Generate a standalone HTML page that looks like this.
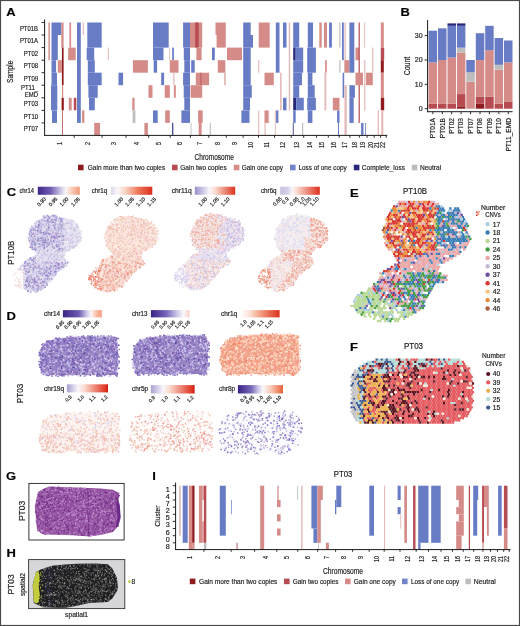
<!DOCTYPE html>
<html><head><meta charset="utf-8"><style>
html,body{margin:0;padding:0;background:#fff;width:520px;height:626px;overflow:hidden}
svg{display:block;will-change:transform}
text{font-family:"Liberation Sans",sans-serif;stroke:#1c1c1c;stroke-width:0.18px}
</style></head><body>
<svg width="520" height="626" viewBox="0 0 520 626" font-family='"Liberation Sans", sans-serif' fill="#1c1c1c">
<rect width="520" height="626" fill="#fff"/>
<rect x="48.4" y="22.5" width="1.4" height="37.7" fill="#d58c89"/>
<rect x="51.5" y="22.5" width="9.8" height="12.5" fill="#687cc6"/>
<rect x="51.5" y="35" width="6.3" height="25.1" fill="#687cc6"/>
<rect x="51.5" y="60.2" width="4.6" height="12.5" fill="#687cc6"/>
<rect x="51.5" y="72.7" width="5.5" height="12.5" fill="#687cc6"/>
<rect x="51" y="85.2" width="6.3" height="25.1" fill="#687cc6"/>
<rect x="52" y="110.4" width="5" height="12.5" fill="#687cc6"/>
<rect x="61.3" y="22.5" width="2.3" height="25.1" fill="#d58c89"/>
<rect x="61.9" y="47.6" width="1.7" height="37.6" fill="#8e1b1e"/>
<rect x="57.8" y="60.2" width="4.1" height="12.5" fill="#d58c89"/>
<rect x="62" y="85.2" width="1.2" height="12.6" fill="#d58c89"/>
<rect x="61.6" y="97.8" width="2.2" height="12.5" fill="#8e1b1e"/>
<rect x="62.2" y="110.4" width="0.8" height="25.1" fill="#b64c52"/>
<rect x="68.8" y="97.8" width="2.9" height="12.5" fill="#d58c89"/>
<rect x="73.8" y="97.8" width="2.5" height="12.5" fill="#b64c52"/>
<rect x="69.4" y="22.5" width="1.7" height="25.1" fill="#d58c89"/>
<rect x="68.2" y="47.6" width="7.5" height="12.6" fill="#d58c89"/>
<rect x="77" y="22.5" width="3.8" height="100.4" fill="#687cc6"/>
<rect x="82.7" y="22.5" width="1.1" height="12.5" fill="#e3b7b5"/>
<rect x="82.1" y="110.4" width="2.3" height="12.5" fill="#d58c89"/>
<rect x="87.3" y="22.5" width="14.4" height="25.1" fill="#687cc6"/>
<rect x="86.7" y="47.6" width="7.5" height="12.6" fill="#687cc6"/>
<rect x="87.8" y="60.2" width="7" height="12.5" fill="#687cc6"/>
<rect x="87.8" y="72.7" width="13.9" height="12.5" fill="#687cc6"/>
<rect x="88.4" y="85.2" width="9.3" height="12.6" fill="#687cc6"/>
<rect x="89" y="97.8" width="5.8" height="12.5" fill="#687cc6"/>
<rect x="94.2" y="122.9" width="5.8" height="12.5" fill="#d58c89"/>
<rect x="107.8" y="47.6" width="1" height="12.6" fill="#e3b7b5"/>
<rect x="118.5" y="72.7" width="4.6" height="12.5" fill="#687cc6"/>
<rect x="132.9" y="60.2" width="15" height="12.5" fill="#d58c89"/>
<rect x="132.3" y="97.8" width="2.3" height="12.5" fill="#d58c89"/>
<rect x="132.7" y="110.4" width="2.7" height="12.5" fill="#bdbdbd"/>
<rect x="144.4" y="122.9" width="3.5" height="12.5" fill="#d58c89"/>
<rect x="148.5" y="85.2" width="4" height="12.6" fill="#d58c89"/>
<rect x="153" y="22.5" width="15.7" height="25.1" fill="#687cc6"/>
<rect x="153" y="47.6" width="10.5" height="12.6" fill="#687cc6"/>
<rect x="153.7" y="60.2" width="3.4" height="12.5" fill="#687cc6"/>
<rect x="153" y="110.4" width="4.7" height="12.5" fill="#687cc6"/>
<rect x="161.2" y="72.7" width="2.9" height="12.5" fill="#687cc6"/>
<rect x="164.7" y="85.2" width="5.1" height="12.6" fill="#d58c89"/>
<rect x="165.2" y="110.4" width="4.6" height="12.5" fill="#d58c89"/>
<rect x="169.3" y="47.6" width="0.8" height="12.6" fill="#e3b7b5"/>
<rect x="172.2" y="47.6" width="1.7" height="12.6" fill="#687cc6"/>
<rect x="169.8" y="60.2" width="8.7" height="12.5" fill="#d58c89"/>
<rect x="173.3" y="72.7" width="1.2" height="12.5" fill="#e3b7b5"/>
<rect x="173.9" y="85.2" width="1.9" height="12.6" fill="#d58c89"/>
<rect x="172.2" y="122.9" width="1.1" height="12.5" fill="#27287a"/>
<rect x="183.1" y="22.5" width="6.9" height="25.1" fill="#687cc6"/>
<rect x="183.8" y="47.6" width="6.2" height="12.6" fill="#687cc6"/>
<rect x="184.3" y="60.2" width="5.7" height="12.5" fill="#687cc6"/>
<rect x="183.1" y="72.7" width="6.9" height="12.5" fill="#687cc6"/>
<rect x="183.7" y="85.2" width="6.3" height="12.6" fill="#687cc6"/>
<rect x="184.3" y="97.8" width="5.7" height="12.5" fill="#687cc6"/>
<rect x="181.4" y="110.4" width="8.6" height="12.5" fill="#687cc6"/>
<rect x="190.6" y="122.9" width="0.9" height="12.5" fill="#bdbdbd"/>
<rect x="190" y="22.5" width="12.2" height="25.1" fill="#d58c89"/>
<rect x="195.2" y="22.5" width="3.5" height="25.1" fill="#b64c52"/>
<rect x="196.4" y="47.6" width="5.2" height="12.6" fill="#d58c89"/>
<rect x="191.2" y="60.2" width="3.5" height="12.5" fill="#687cc6"/>
<rect x="195.8" y="72.7" width="13.3" height="12.5" fill="#d58c89"/>
<rect x="200.5" y="72.7" width="0.8" height="12.5" fill="#b64c52"/>
<rect x="190.6" y="85.2" width="11.6" height="12.6" fill="#d58c89"/>
<rect x="198.1" y="110.4" width="4.6" height="12.5" fill="#d58c89"/>
<rect x="198.7" y="122.9" width="2.9" height="12.5" fill="#d58c89"/>
<rect x="209.7" y="122.9" width="1.1" height="12.5" fill="#bdbdbd"/>
<rect x="212" y="47.6" width="2.8" height="12.6" fill="#687cc6"/>
<rect x="215.5" y="22.5" width="10.3" height="12.5" fill="#d58c89"/>
<rect x="216.6" y="35" width="9.2" height="12.6" fill="#d58c89"/>
<rect x="217.8" y="60.2" width="7.5" height="12.5" fill="#d58c89"/>
<rect x="224.1" y="72.7" width="1.7" height="12.5" fill="#e3b7b5"/>
<rect x="227" y="47.6" width="15" height="12.6" fill="#d58c89"/>
<rect x="243.2" y="22.5" width="7.5" height="12.5" fill="#687cc6"/>
<rect x="243.2" y="35" width="9.8" height="12.6" fill="#687cc6"/>
<rect x="243.2" y="47.6" width="7.5" height="37.6" fill="#687cc6"/>
<rect x="243.2" y="85.2" width="8.6" height="12.6" fill="#687cc6"/>
<rect x="243.2" y="97.8" width="6.8" height="12.5" fill="#687cc6"/>
<rect x="241.4" y="110.4" width="8.1" height="12.5" fill="#687cc6"/>
<rect x="258.2" y="60.2" width="1.1" height="12.5" fill="#e3b7b5"/>
<rect x="258.2" y="110.4" width="1.1" height="25.1" fill="#e3b7b5"/>
<rect x="258.7" y="22.5" width="11" height="25.1" fill="#d58c89"/>
<rect x="264.5" y="72.7" width="9.3" height="12.5" fill="#d58c89"/>
<rect x="264.5" y="110.4" width="4" height="12.5" fill="#d58c89"/>
<rect x="264.5" y="122.9" width="1.2" height="12.5" fill="#e3b7b5"/>
<rect x="268" y="110.4" width="1.2" height="12.5" fill="#e3b7b5"/>
<rect x="274.9" y="110.4" width="0.9" height="25.1" fill="#e3b7b5"/>
<rect x="275.8" y="22.5" width="3.7" height="50.2" fill="#687cc6"/>
<rect x="283" y="22.5" width="3.5" height="25.1" fill="#687cc6"/>
<rect x="288.8" y="22.5" width="1.4" height="87.9" fill="#e3b7b5"/>
<rect x="280.1" y="72.7" width="1.5" height="37.7" fill="#e3b7b5"/>
<rect x="283" y="97.8" width="3.5" height="12.5" fill="#687cc6"/>
<rect x="276.1" y="110.4" width="2.3" height="12.5" fill="#687cc6"/>
<rect x="293.2" y="22.5" width="6" height="25.1" fill="#687cc6"/>
<rect x="293.2" y="47.6" width="2.5" height="12.6" fill="#27287a"/>
<rect x="295.7" y="47.6" width="7.5" height="12.6" fill="#687cc6"/>
<rect x="293.2" y="60.2" width="10" height="12.5" fill="#687cc6"/>
<rect x="293.2" y="72.7" width="8.8" height="12.5" fill="#687cc6"/>
<rect x="293.2" y="85.2" width="6" height="12.6" fill="#687cc6"/>
<rect x="293.2" y="97.8" width="3.1" height="12.5" fill="#27287a"/>
<rect x="296.3" y="97.8" width="7.5" height="12.5" fill="#687cc6"/>
<rect x="293.2" y="110.4" width="2.5" height="12.5" fill="#687cc6"/>
<rect x="292.8" y="122.9" width="0.8" height="12.5" fill="#27287a"/>
<rect x="302" y="122.9" width="1.2" height="12.5" fill="#bdbdbd"/>
<rect x="307.8" y="22.5" width="5.2" height="25.1" fill="#687cc6"/>
<rect x="307.2" y="47.6" width="8.7" height="25.1" fill="#687cc6"/>
<rect x="307.8" y="72.7" width="4.6" height="12.5" fill="#687cc6"/>
<rect x="307.8" y="85.2" width="6.9" height="12.6" fill="#687cc6"/>
<rect x="307.2" y="97.8" width="8.7" height="12.5" fill="#687cc6"/>
<rect x="307.8" y="110.4" width="4.6" height="12.5" fill="#687cc6"/>
<rect x="319.3" y="22.5" width="2.4" height="25.1" fill="#d58c89"/>
<rect x="324" y="22.5" width="3" height="25.1" fill="#d58c89"/>
<rect x="325.1" y="60.2" width="1.7" height="12.5" fill="#d58c89"/>
<rect x="324.5" y="72.7" width="1.8" height="37.7" fill="#e3b7b5"/>
<rect x="329.1" y="22.5" width="2.8" height="25.1" fill="#687cc6"/>
<rect x="339.3" y="22.5" width="1.2" height="25.1" fill="#bdbdbd"/>
<rect x="339.3" y="60.2" width="1.2" height="12.5" fill="#bdbdbd"/>
<rect x="332.8" y="97.8" width="6.7" height="12.5" fill="#d58c89"/>
<rect x="337.1" y="110.4" width="2.4" height="12.5" fill="#687cc6"/>
<rect x="338" y="122.9" width="1" height="12.5" fill="#687cc6"/>
<rect x="342" y="22.5" width="1.8" height="37.7" fill="#687cc6"/>
<rect x="344.5" y="22.5" width="1.2" height="50.2" fill="#e3b7b5"/>
<rect x="344.5" y="60.2" width="4.9" height="12.5" fill="#d58c89"/>
<rect x="342.6" y="72.7" width="1.6" height="25.1" fill="#687cc6"/>
<rect x="344.5" y="85.2" width="2.2" height="50.2" fill="#e3b7b5"/>
<rect x="349.4" y="22.5" width="4.9" height="50.2" fill="#687cc6"/>
<rect x="349.4" y="85.2" width="5.5" height="12.6" fill="#687cc6"/>
<rect x="349.4" y="97.8" width="4.3" height="25.1" fill="#687cc6"/>
<rect x="355.5" y="47.6" width="3.7" height="12.6" fill="#d58c89"/>
<rect x="358.6" y="22.5" width="1.2" height="100.4" fill="#b64c52"/>
<rect x="355.5" y="72.7" width="7.5" height="12.5" fill="#d58c89"/>
<rect x="364.2" y="22.5" width="0.9" height="25.1" fill="#e3b7b5"/>
<rect x="364.2" y="60.2" width="1.2" height="50.2" fill="#e3b7b5"/>
<rect x="366" y="72.7" width="6.8" height="12.5" fill="#d58c89"/>
<rect x="361.1" y="122.9" width="2.4" height="12.5" fill="#687cc6"/>
<rect x="365.1" y="122.9" width="0.8" height="12.5" fill="#687cc6"/>
<rect x="372.2" y="47.6" width="1.2" height="25.1" fill="#e3b7b5"/>
<rect x="377.7" y="110.4" width="1.2" height="25.1" fill="#e3b7b5"/>
<rect x="380.8" y="22.5" width="3" height="25.1" fill="#d58c89"/>
<rect x="380.8" y="47.6" width="3.4" height="12.6" fill="#b64c52"/>
<rect x="380.8" y="60.2" width="3" height="12.5" fill="#8e1b1e"/>
<rect x="380.8" y="72.7" width="3" height="25.1" fill="#d58c89"/>
<rect x="380.8" y="97.8" width="3.4" height="12.5" fill="#8e1b1e"/>
<rect x="381.3" y="110.4" width="2" height="25.1" fill="#e3b7b5"/>
<line x1="44.6" y1="19.5" x2="44.6" y2="135.8" stroke="#1a1a1a" stroke-width="1"/>
<line x1="44.1" y1="135.4" x2="387.3" y2="135.4" stroke="#1a1a1a" stroke-width="1"/>
<line x1="41.5" y1="22.5" x2="44.6" y2="22.5" stroke="#1a1a1a" stroke-width="0.9"/>
<line x1="41.5" y1="35" x2="44.6" y2="35" stroke="#1a1a1a" stroke-width="0.9"/>
<line x1="41.5" y1="47.6" x2="44.6" y2="47.6" stroke="#1a1a1a" stroke-width="0.9"/>
<line x1="41.5" y1="60.2" x2="44.6" y2="60.2" stroke="#1a1a1a" stroke-width="0.9"/>
<line x1="41.5" y1="72.7" x2="44.6" y2="72.7" stroke="#1a1a1a" stroke-width="0.9"/>
<line x1="41.5" y1="85.2" x2="44.6" y2="85.2" stroke="#1a1a1a" stroke-width="0.9"/>
<line x1="41.5" y1="97.8" x2="44.6" y2="97.8" stroke="#1a1a1a" stroke-width="0.9"/>
<line x1="41.5" y1="110.4" x2="44.6" y2="110.4" stroke="#1a1a1a" stroke-width="0.9"/>
<line x1="41.5" y1="122.9" x2="44.6" y2="122.9" stroke="#1a1a1a" stroke-width="0.9"/>
<line x1="74.2" y1="135.4" x2="74.2" y2="137.8" stroke="#1a1a1a" stroke-width="0.9"/>
<line x1="102.1" y1="135.4" x2="102.1" y2="137.8" stroke="#1a1a1a" stroke-width="0.9"/>
<line x1="126" y1="135.4" x2="126" y2="137.8" stroke="#1a1a1a" stroke-width="0.9"/>
<line x1="148.7" y1="135.4" x2="148.7" y2="137.8" stroke="#1a1a1a" stroke-width="0.9"/>
<line x1="170.2" y1="135.4" x2="170.2" y2="137.8" stroke="#1a1a1a" stroke-width="0.9"/>
<line x1="190.4" y1="135.4" x2="190.4" y2="137.8" stroke="#1a1a1a" stroke-width="0.9"/>
<line x1="208.8" y1="135.4" x2="208.8" y2="137.8" stroke="#1a1a1a" stroke-width="0.9"/>
<line x1="226.2" y1="135.4" x2="226.2" y2="137.8" stroke="#1a1a1a" stroke-width="0.9"/>
<line x1="243.1" y1="135.4" x2="243.1" y2="137.8" stroke="#1a1a1a" stroke-width="0.9"/>
<line x1="258.5" y1="135.4" x2="258.5" y2="137.8" stroke="#1a1a1a" stroke-width="0.9"/>
<line x1="274.6" y1="135.4" x2="274.6" y2="137.8" stroke="#1a1a1a" stroke-width="0.9"/>
<line x1="291.2" y1="135.4" x2="291.2" y2="137.8" stroke="#1a1a1a" stroke-width="0.9"/>
<line x1="303.7" y1="135.4" x2="303.7" y2="137.8" stroke="#1a1a1a" stroke-width="0.9"/>
<line x1="316.5" y1="135.4" x2="316.5" y2="137.8" stroke="#1a1a1a" stroke-width="0.9"/>
<line x1="328.3" y1="135.4" x2="328.3" y2="137.8" stroke="#1a1a1a" stroke-width="0.9"/>
<line x1="339.2" y1="135.4" x2="339.2" y2="137.8" stroke="#1a1a1a" stroke-width="0.9"/>
<line x1="349.9" y1="135.4" x2="349.9" y2="137.8" stroke="#1a1a1a" stroke-width="0.9"/>
<line x1="359.3" y1="135.4" x2="359.3" y2="137.8" stroke="#1a1a1a" stroke-width="0.9"/>
<line x1="367.1" y1="135.4" x2="367.1" y2="137.8" stroke="#1a1a1a" stroke-width="0.9"/>
<line x1="374.2" y1="135.4" x2="374.2" y2="137.8" stroke="#1a1a1a" stroke-width="0.9"/>
<line x1="380.6" y1="135.4" x2="380.6" y2="137.8" stroke="#1a1a1a" stroke-width="0.9"/>
<line x1="386.2" y1="135.4" x2="386.2" y2="137.8" stroke="#1a1a1a" stroke-width="0.9"/>
<text x="62.1" y="142" font-size="6.6" text-anchor="end" textLength="3" lengthAdjust="spacingAndGlyphs" transform="rotate(-90 62.1 142)">1</text>
<text x="90.2" y="142" font-size="6.6" text-anchor="end" textLength="3" lengthAdjust="spacingAndGlyphs" transform="rotate(-90 90.2 142)">2</text>
<text x="116" y="142" font-size="6.6" text-anchor="end" textLength="3" lengthAdjust="spacingAndGlyphs" transform="rotate(-90 116 142)">3</text>
<text x="139.3" y="142" font-size="6.6" text-anchor="end" textLength="3" lengthAdjust="spacingAndGlyphs" transform="rotate(-90 139.3 142)">4</text>
<text x="161.4" y="142" font-size="6.6" text-anchor="end" textLength="3" lengthAdjust="spacingAndGlyphs" transform="rotate(-90 161.4 142)">5</text>
<text x="182.3" y="142" font-size="6.6" text-anchor="end" textLength="3" lengthAdjust="spacingAndGlyphs" transform="rotate(-90 182.3 142)">6</text>
<text x="201.6" y="142" font-size="6.6" text-anchor="end" textLength="3" lengthAdjust="spacingAndGlyphs" transform="rotate(-90 201.6 142)">7</text>
<text x="219.5" y="142" font-size="6.6" text-anchor="end" textLength="3" lengthAdjust="spacingAndGlyphs" transform="rotate(-90 219.5 142)">8</text>
<text x="236.6" y="142" font-size="6.6" text-anchor="end" textLength="3" lengthAdjust="spacingAndGlyphs" transform="rotate(-90 236.6 142)">9</text>
<text x="252.8" y="142" font-size="6.6" text-anchor="end" textLength="6" lengthAdjust="spacingAndGlyphs" transform="rotate(-90 252.8 142)">10</text>
<text x="268.6" y="142" font-size="6.6" text-anchor="end" textLength="5.6" lengthAdjust="spacingAndGlyphs" transform="rotate(-90 268.6 142)">11</text>
<text x="284.9" y="142" font-size="6.6" text-anchor="end" textLength="6" lengthAdjust="spacingAndGlyphs" transform="rotate(-90 284.9 142)">12</text>
<text x="299.4" y="142" font-size="6.6" text-anchor="end" textLength="6" lengthAdjust="spacingAndGlyphs" transform="rotate(-90 299.4 142)">13</text>
<text x="312.1" y="142" font-size="6.6" text-anchor="end" textLength="6" lengthAdjust="spacingAndGlyphs" transform="rotate(-90 312.1 142)">14</text>
<text x="324.4" y="142" font-size="6.6" text-anchor="end" textLength="6" lengthAdjust="spacingAndGlyphs" transform="rotate(-90 324.4 142)">15</text>
<text x="335.8" y="142" font-size="6.6" text-anchor="end" textLength="6" lengthAdjust="spacingAndGlyphs" transform="rotate(-90 335.8 142)">16</text>
<text x="346.5" y="142" font-size="6.6" text-anchor="end" textLength="6" lengthAdjust="spacingAndGlyphs" transform="rotate(-90 346.5 142)">17</text>
<text x="356.6" y="142" font-size="6.6" text-anchor="end" textLength="6" lengthAdjust="spacingAndGlyphs" transform="rotate(-90 356.6 142)">18</text>
<text x="365.2" y="142" font-size="6.6" text-anchor="end" textLength="6" lengthAdjust="spacingAndGlyphs" transform="rotate(-90 365.2 142)">19</text>
<text x="372.6" y="142" font-size="6.6" text-anchor="end" textLength="6" lengthAdjust="spacingAndGlyphs" transform="rotate(-90 372.6 142)">20</text>
<text x="379.4" y="142" font-size="6.6" text-anchor="end" textLength="6" lengthAdjust="spacingAndGlyphs" transform="rotate(-90 379.4 142)">21</text>
<text x="385.4" y="142" font-size="6.6" text-anchor="end" textLength="6" lengthAdjust="spacingAndGlyphs" transform="rotate(-90 385.4 142)">22</text>
<text x="38" y="30.6" font-size="6.9" text-anchor="end" textLength="18.1" lengthAdjust="spacingAndGlyphs">PT01B</text>
<text x="38" y="43.1" font-size="6.9" text-anchor="end" textLength="18.1" lengthAdjust="spacingAndGlyphs">PT01A</text>
<text x="38" y="55.6" font-size="6.9" text-anchor="end" textLength="14.2" lengthAdjust="spacingAndGlyphs">PT02</text>
<text x="38" y="68.2" font-size="6.9" text-anchor="end" textLength="14.2" lengthAdjust="spacingAndGlyphs">PT08</text>
<text x="38" y="81" font-size="6.9" text-anchor="end" textLength="14.2" lengthAdjust="spacingAndGlyphs">PT09</text>
<text x="38" y="89.8" font-size="6.9" text-anchor="end" textLength="17" lengthAdjust="spacingAndGlyphs">PT11_</text>
<text x="38" y="97" font-size="6.9" text-anchor="end" textLength="13.2" lengthAdjust="spacingAndGlyphs">EMD</text>
<text x="38" y="106.4" font-size="6.9" text-anchor="end" textLength="14.2" lengthAdjust="spacingAndGlyphs">PT03</text>
<text x="38" y="118.8" font-size="6.9" text-anchor="end" textLength="14.2" lengthAdjust="spacingAndGlyphs">PT10</text>
<text x="38" y="131.3" font-size="6.9" text-anchor="end" textLength="14.2" lengthAdjust="spacingAndGlyphs">PT07</text>
<text x="13.4" y="71.8" font-size="8.2" text-anchor="middle" textLength="22.4" lengthAdjust="spacingAndGlyphs" transform="rotate(-90 13.4 71.8)">Sample</text>
<text x="214.2" y="159.6" font-size="8.3" text-anchor="middle" textLength="39.2" lengthAdjust="spacingAndGlyphs">Chromosome</text>
<text transform="translate(6.3 16.2) scale(1.13 1)" font-size="11.5" font-weight="bold" fill="#000">A</text>
<rect x="78" y="164.7" width="5.6" height="5.6" fill="#8e1b1e"/>
<text x="87.8" y="169.9" font-size="7.4" textLength="77.4" lengthAdjust="spacingAndGlyphs">Gain more than two copies</text>
<rect x="172" y="164.7" width="5.6" height="5.6" fill="#b64c52"/>
<text x="180.3" y="169.9" font-size="7.4" textLength="46.4" lengthAdjust="spacingAndGlyphs">Gain two copies</text>
<rect x="233.8" y="164.7" width="5.6" height="5.6" fill="#d58c89"/>
<text x="241.7" y="169.9" font-size="7.4" textLength="41.4" lengthAdjust="spacingAndGlyphs">Gain one copy</text>
<rect x="290" y="164.7" width="5.6" height="5.6" fill="#7283c9"/>
<text x="298.4" y="169.9" font-size="7.4" textLength="48.4" lengthAdjust="spacingAndGlyphs">Loss of one copy</text>
<rect x="353.8" y="164.7" width="5.6" height="5.6" fill="#27287a"/>
<text x="361.8" y="169.9" font-size="7.4" textLength="43.1" lengthAdjust="spacingAndGlyphs">Complete_loss</text>
<rect x="411.8" y="164.7" width="5.6" height="5.6" fill="#bdbdbd"/>
<text x="419.9" y="169.9" font-size="7.4" textLength="21.3" lengthAdjust="spacingAndGlyphs">Neutral</text>
<text transform="translate(400.6 16.3) scale(1.13 1)" font-size="11.5" font-weight="bold" fill="#000">B</text>
<rect x="428.6" y="103.8" width="8.5" height="4.9" fill="#b64c52"/>
<rect x="428.6" y="62.4" width="8.5" height="41.4" fill="#d58c89"/>
<rect x="428.6" y="30.7" width="8.5" height="31.7" fill="#687cc6"/>
<line x1="432.9" y1="111.7" x2="432.9" y2="114.2" stroke="#1a1a1a" stroke-width="0.9"/>
<text x="435.1" y="118" font-size="6.6" text-anchor="end" transform="rotate(-90 435.1 118)">PT01A</text>
<rect x="438" y="103.8" width="8.5" height="4.9" fill="#b64c52"/>
<rect x="438" y="60" width="8.5" height="43.9" fill="#d58c89"/>
<rect x="438" y="28.3" width="8.5" height="31.7" fill="#687cc6"/>
<line x1="442.3" y1="111.7" x2="442.3" y2="114.2" stroke="#1a1a1a" stroke-width="0.9"/>
<text x="444.5" y="118" font-size="6.6" text-anchor="end" transform="rotate(-90 444.5 118)">PT01B</text>
<rect x="447.5" y="103.8" width="8.5" height="4.9" fill="#b64c52"/>
<rect x="447.5" y="57.5" width="8.5" height="46.3" fill="#d58c89"/>
<rect x="447.5" y="25.8" width="8.5" height="31.7" fill="#687cc6"/>
<rect x="447.5" y="23.4" width="8.5" height="2.4" fill="#27287a"/>
<line x1="451.7" y1="111.7" x2="451.7" y2="114.2" stroke="#1a1a1a" stroke-width="0.9"/>
<text x="453.9" y="118" font-size="6.6" text-anchor="end" transform="rotate(-90 453.9 118)">PT02</text>
<rect x="456.9" y="106.3" width="8.5" height="2.4" fill="#8e1b1e"/>
<rect x="456.9" y="94.1" width="8.5" height="12.2" fill="#b64c52"/>
<rect x="456.9" y="52.6" width="8.5" height="41.4" fill="#d58c89"/>
<rect x="456.9" y="47.8" width="8.5" height="4.9" fill="#bdbdbd"/>
<rect x="456.9" y="25.8" width="8.5" height="21.9" fill="#687cc6"/>
<rect x="456.9" y="23.4" width="8.5" height="2.4" fill="#27287a"/>
<line x1="461.1" y1="111.7" x2="461.1" y2="114.2" stroke="#1a1a1a" stroke-width="0.9"/>
<text x="463.3" y="118" font-size="6.6" text-anchor="end" transform="rotate(-90 463.3 118)">PT03</text>
<rect x="466.3" y="81.9" width="8.5" height="26.8" fill="#d58c89"/>
<rect x="466.3" y="72.1" width="8.5" height="9.7" fill="#bdbdbd"/>
<rect x="466.3" y="60" width="8.5" height="12.2" fill="#687cc6"/>
<line x1="470.6" y1="111.7" x2="470.6" y2="114.2" stroke="#1a1a1a" stroke-width="0.9"/>
<text x="472.8" y="118" font-size="6.6" text-anchor="end" transform="rotate(-90 472.8 118)">PT07</text>
<rect x="475.8" y="103.8" width="8.5" height="4.9" fill="#8e1b1e"/>
<rect x="475.8" y="96.5" width="8.5" height="7.3" fill="#b64c52"/>
<rect x="475.8" y="60" width="8.5" height="36.6" fill="#d58c89"/>
<rect x="475.8" y="33.2" width="8.5" height="26.8" fill="#687cc6"/>
<line x1="480" y1="111.7" x2="480" y2="114.2" stroke="#1a1a1a" stroke-width="0.9"/>
<text x="482.2" y="118" font-size="6.6" text-anchor="end" transform="rotate(-90 482.2 118)">PT08</text>
<rect x="485.2" y="96.5" width="8.5" height="12.2" fill="#b64c52"/>
<rect x="485.2" y="50.2" width="8.5" height="46.3" fill="#d58c89"/>
<rect x="485.2" y="25.8" width="8.5" height="24.4" fill="#687cc6"/>
<line x1="489.4" y1="111.7" x2="489.4" y2="114.2" stroke="#1a1a1a" stroke-width="0.9"/>
<text x="491.6" y="118" font-size="6.6" text-anchor="end" transform="rotate(-90 491.6 118)">PT09</text>
<rect x="494.6" y="103.8" width="8.5" height="4.9" fill="#b64c52"/>
<rect x="494.6" y="69.7" width="8.5" height="34.1" fill="#d58c89"/>
<rect x="494.6" y="64.8" width="8.5" height="4.9" fill="#bdbdbd"/>
<rect x="494.6" y="38" width="8.5" height="26.8" fill="#687cc6"/>
<line x1="498.9" y1="111.7" x2="498.9" y2="114.2" stroke="#1a1a1a" stroke-width="0.9"/>
<text x="501.1" y="118" font-size="6.6" text-anchor="end" transform="rotate(-90 501.1 118)">PT10</text>
<rect x="504" y="101.4" width="8.5" height="7.3" fill="#b64c52"/>
<rect x="504" y="62.4" width="8.5" height="39" fill="#d58c89"/>
<rect x="504" y="40.5" width="8.5" height="21.9" fill="#687cc6"/>
<line x1="508.3" y1="111.7" x2="508.3" y2="114.2" stroke="#1a1a1a" stroke-width="0.9"/>
<text x="510.5" y="118" font-size="6.6" text-anchor="end" transform="rotate(-90 510.5 118)">PT11_EMD</text>
<line x1="427.6" y1="20" x2="427.6" y2="112.2" stroke="#1a1a1a" stroke-width="1"/>
<line x1="427.1" y1="111.7" x2="512.6" y2="111.7" stroke="#1a1a1a" stroke-width="1"/>
<line x1="424.6" y1="108.7" x2="427.6" y2="108.7" stroke="#1a1a1a" stroke-width="0.9"/>
<text x="422.6" y="111.1" font-size="7" text-anchor="end">0</text>
<line x1="424.6" y1="84.3" x2="427.6" y2="84.3" stroke="#1a1a1a" stroke-width="0.9"/>
<text x="422.6" y="86.7" font-size="7" text-anchor="end">10</text>
<line x1="424.6" y1="60" x2="427.6" y2="60" stroke="#1a1a1a" stroke-width="0.9"/>
<text x="422.6" y="62.4" font-size="7" text-anchor="end">20</text>
<line x1="424.6" y1="35.6" x2="427.6" y2="35.6" stroke="#1a1a1a" stroke-width="0.9"/>
<text x="422.6" y="38" font-size="7" text-anchor="end">30</text>
<text x="409.8" y="66" font-size="8.2" text-anchor="middle" textLength="18.5" lengthAdjust="spacingAndGlyphs" transform="rotate(-90 409.8 66)">Count</text>
<rect x="179.1" y="485.7" width="1.6" height="50" fill="#e3b7b5"/>
<rect x="182.7" y="485.7" width="5" height="57.1" fill="#687cc6"/>
<rect x="188.8" y="485.7" width="3.4" height="64.3" fill="#d58c89"/>
<rect x="192.2" y="485.7" width="2.3" height="57.1" fill="#8e1b1e"/>
<rect x="192.2" y="542.8" width="2.3" height="7.1" fill="#d58c89"/>
<rect x="198.9" y="485.7" width="3.4" height="57.1" fill="#d58c89"/>
<rect x="203.9" y="485.7" width="2.4" height="57.1" fill="#b64c52"/>
<rect x="202.3" y="485.7" width="1.6" height="14.3" fill="#d58c89"/>
<rect x="202.3" y="521.4" width="1.6" height="21.4" fill="#d58c89"/>
<rect x="203.9" y="542.8" width="2.4" height="7.1" fill="#bdbdbd"/>
<rect x="219.8" y="485.7" width="6" height="50" fill="#687cc6"/>
<rect x="231.2" y="500" width="0.7" height="14.3" fill="#687cc6"/>
<rect x="236.6" y="542.8" width="0.9" height="7.1" fill="#b64c52"/>
<rect x="260.2" y="485.7" width="4" height="64.3" fill="#d58c89"/>
<rect x="277" y="485.7" width="2" height="14.3" fill="#e3b7b5"/>
<rect x="277" y="500" width="3.6" height="7.1" fill="#d58c89"/>
<rect x="277" y="514.3" width="3.6" height="7.1" fill="#d58c89"/>
<rect x="277" y="528.5" width="3.6" height="7.1" fill="#d58c89"/>
<rect x="297.2" y="485.7" width="0.9" height="14.3" fill="#bdbdbd"/>
<rect x="301.2" y="485.7" width="1.4" height="64.3" fill="#e3b7b5"/>
<rect x="311.4" y="485.7" width="6" height="42.8" fill="#687cc6"/>
<rect x="313.4" y="528.5" width="4" height="14.3" fill="#687cc6"/>
<rect x="317.4" y="485.7" width="5.4" height="14.3" fill="#d58c89"/>
<rect x="317.4" y="500" width="3.4" height="42.8" fill="#d58c89"/>
<rect x="318" y="542.8" width="0.8" height="7.1" fill="#bdbdbd"/>
<rect x="325.9" y="542.8" width="3" height="7.1" fill="#d58c89"/>
<rect x="336.3" y="485.7" width="5" height="21.4" fill="#687cc6"/>
<rect x="335" y="500" width="1.3" height="14.3" fill="#687cc6"/>
<rect x="369.3" y="485.7" width="4.7" height="50" fill="#687cc6"/>
<rect x="384.1" y="485.7" width="1" height="64.3" fill="#e3b7b5"/>
<rect x="397.6" y="485.7" width="3.1" height="14.3" fill="#687cc6"/>
<rect x="397.6" y="507.1" width="3.1" height="7.1" fill="#687cc6"/>
<rect x="400.3" y="514.3" width="0.9" height="14.3" fill="#e3b7b5"/>
<rect x="404.3" y="485.7" width="2.7" height="57.1" fill="#d58c89"/>
<rect x="413.1" y="485.7" width="2.4" height="64.3" fill="#b64c52"/>
<rect x="418.2" y="485.7" width="10.3" height="57.1" fill="#687cc6"/>
<rect x="418.2" y="542.8" width="2.3" height="7.1" fill="#687cc6"/>
<rect x="431.2" y="485.7" width="9.5" height="57.1" fill="#687cc6"/>
<rect x="456.2" y="485.7" width="7.6" height="14.3" fill="#d58c89"/>
<rect x="458.8" y="500" width="5" height="7.1" fill="#d58c89"/>
<rect x="456.2" y="507.1" width="7.6" height="7.1" fill="#d58c89"/>
<rect x="458.8" y="514.3" width="5" height="7.1" fill="#d58c89"/>
<rect x="456.2" y="521.4" width="7.6" height="14.3" fill="#d58c89"/>
<rect x="456.2" y="535.7" width="5.4" height="14.3" fill="#d58c89"/>
<rect x="468.8" y="485.7" width="1.2" height="64.3" fill="#b64c52"/>
<rect x="473.2" y="485.7" width="5" height="14.3" fill="#687cc6"/>
<rect x="473.2" y="500" width="4" height="35.7" fill="#687cc6"/>
<rect x="482.1" y="485.7" width="1.9" height="57.1" fill="#b64c52"/>
<rect x="482.1" y="542.8" width="1.9" height="7.1" fill="#e3b7b5"/>
<rect x="484" y="485.7" width="4.8" height="21.4" fill="#d58c89"/>
<rect x="486.9" y="507.1" width="1.9" height="28.6" fill="#d58c89"/>
<rect x="498.1" y="485.7" width="3.6" height="50" fill="#687cc6"/>
<rect x="503.9" y="485.7" width="3.6" height="42.8" fill="#b64c52"/>
<rect x="503.9" y="528.5" width="3.6" height="21.4" fill="#d58c89"/>
<line x1="175.6" y1="482.5" x2="175.6" y2="550" stroke="#1a1a1a" stroke-width="1"/>
<line x1="175.1" y1="549.6" x2="510.6" y2="549.6" stroke="#1a1a1a" stroke-width="1"/>
<line x1="172.8" y1="485.7" x2="175.6" y2="485.7" stroke="#1a1a1a" stroke-width="0.9"/>
<line x1="172.8" y1="492.8" x2="175.6" y2="492.8" stroke="#1a1a1a" stroke-width="0.9"/>
<line x1="172.8" y1="500" x2="175.6" y2="500" stroke="#1a1a1a" stroke-width="0.9"/>
<line x1="172.8" y1="507.1" x2="175.6" y2="507.1" stroke="#1a1a1a" stroke-width="0.9"/>
<line x1="172.8" y1="514.3" x2="175.6" y2="514.3" stroke="#1a1a1a" stroke-width="0.9"/>
<line x1="172.8" y1="521.4" x2="175.6" y2="521.4" stroke="#1a1a1a" stroke-width="0.9"/>
<line x1="172.8" y1="528.5" x2="175.6" y2="528.5" stroke="#1a1a1a" stroke-width="0.9"/>
<line x1="172.8" y1="535.7" x2="175.6" y2="535.7" stroke="#1a1a1a" stroke-width="0.9"/>
<line x1="172.8" y1="542.8" x2="175.6" y2="542.8" stroke="#1a1a1a" stroke-width="0.9"/>
<text x="169.8" y="491.7" font-size="7.2" text-anchor="end">1</text>
<text x="169.8" y="498.8" font-size="7.2" text-anchor="end">4</text>
<text x="169.8" y="506" font-size="7.2" text-anchor="end">7</text>
<text x="169.8" y="513.1" font-size="7.2" text-anchor="end">2</text>
<text x="169.8" y="520.3" font-size="7.2" text-anchor="end">5</text>
<text x="169.8" y="527.4" font-size="7.2" text-anchor="end">3</text>
<text x="169.8" y="534.5" font-size="7.2" text-anchor="end">6</text>
<text x="169.8" y="541.7" font-size="7.2" text-anchor="end">0</text>
<text x="169.8" y="548.8" font-size="7.2" text-anchor="end">8</text>
<line x1="203.9" y1="549.6" x2="203.9" y2="551.8" stroke="#1a1a1a" stroke-width="0.9"/>
<line x1="231.2" y1="549.6" x2="231.2" y2="551.8" stroke="#1a1a1a" stroke-width="0.9"/>
<line x1="254.6" y1="549.6" x2="254.6" y2="551.8" stroke="#1a1a1a" stroke-width="0.9"/>
<line x1="276.8" y1="549.6" x2="276.8" y2="551.8" stroke="#1a1a1a" stroke-width="0.9"/>
<line x1="297.8" y1="549.6" x2="297.8" y2="551.8" stroke="#1a1a1a" stroke-width="0.9"/>
<line x1="317.6" y1="549.6" x2="317.6" y2="551.8" stroke="#1a1a1a" stroke-width="0.9"/>
<line x1="335.6" y1="549.6" x2="335.6" y2="551.8" stroke="#1a1a1a" stroke-width="0.9"/>
<line x1="352.6" y1="549.6" x2="352.6" y2="551.8" stroke="#1a1a1a" stroke-width="0.9"/>
<line x1="369.2" y1="549.6" x2="369.2" y2="551.8" stroke="#1a1a1a" stroke-width="0.9"/>
<line x1="384.2" y1="549.6" x2="384.2" y2="551.8" stroke="#1a1a1a" stroke-width="0.9"/>
<line x1="400" y1="549.6" x2="400" y2="551.8" stroke="#1a1a1a" stroke-width="0.9"/>
<line x1="416.2" y1="549.6" x2="416.2" y2="551.8" stroke="#1a1a1a" stroke-width="0.9"/>
<line x1="428.5" y1="549.6" x2="428.5" y2="551.8" stroke="#1a1a1a" stroke-width="0.9"/>
<line x1="441" y1="549.6" x2="441" y2="551.8" stroke="#1a1a1a" stroke-width="0.9"/>
<line x1="452.5" y1="549.6" x2="452.5" y2="551.8" stroke="#1a1a1a" stroke-width="0.9"/>
<line x1="463.2" y1="549.6" x2="463.2" y2="551.8" stroke="#1a1a1a" stroke-width="0.9"/>
<line x1="473.7" y1="549.6" x2="473.7" y2="551.8" stroke="#1a1a1a" stroke-width="0.9"/>
<line x1="482.9" y1="549.6" x2="482.9" y2="551.8" stroke="#1a1a1a" stroke-width="0.9"/>
<line x1="490.5" y1="549.6" x2="490.5" y2="551.8" stroke="#1a1a1a" stroke-width="0.9"/>
<line x1="497.5" y1="549.6" x2="497.5" y2="551.8" stroke="#1a1a1a" stroke-width="0.9"/>
<line x1="503.7" y1="549.6" x2="503.7" y2="551.8" stroke="#1a1a1a" stroke-width="0.9"/>
<line x1="509.2" y1="549.6" x2="509.2" y2="551.8" stroke="#1a1a1a" stroke-width="0.9"/>
<text x="192.1" y="556" font-size="6.6" text-anchor="end" textLength="3" lengthAdjust="spacingAndGlyphs" transform="rotate(-90 192.1 556)">1</text>
<text x="219.6" y="556" font-size="6.6" text-anchor="end" textLength="3" lengthAdjust="spacingAndGlyphs" transform="rotate(-90 219.6 556)">2</text>
<text x="244.9" y="556" font-size="6.6" text-anchor="end" textLength="3" lengthAdjust="spacingAndGlyphs" transform="rotate(-90 244.9 556)">3</text>
<text x="267.7" y="556" font-size="6.6" text-anchor="end" textLength="3" lengthAdjust="spacingAndGlyphs" transform="rotate(-90 267.7 556)">4</text>
<text x="289.3" y="556" font-size="6.6" text-anchor="end" textLength="3" lengthAdjust="spacingAndGlyphs" transform="rotate(-90 289.3 556)">5</text>
<text x="309.7" y="556" font-size="6.6" text-anchor="end" textLength="3" lengthAdjust="spacingAndGlyphs" transform="rotate(-90 309.7 556)">6</text>
<text x="328.6" y="556" font-size="6.6" text-anchor="end" textLength="3" lengthAdjust="spacingAndGlyphs" transform="rotate(-90 328.6 556)">7</text>
<text x="346.1" y="556" font-size="6.6" text-anchor="end" textLength="3" lengthAdjust="spacingAndGlyphs" transform="rotate(-90 346.1 556)">8</text>
<text x="362.9" y="556" font-size="6.6" text-anchor="end" textLength="3" lengthAdjust="spacingAndGlyphs" transform="rotate(-90 362.9 556)">9</text>
<text x="378.7" y="556" font-size="6.6" text-anchor="end" textLength="6" lengthAdjust="spacingAndGlyphs" transform="rotate(-90 378.7 556)">10</text>
<text x="394.1" y="556" font-size="6.6" text-anchor="end" textLength="5.6" lengthAdjust="spacingAndGlyphs" transform="rotate(-90 394.1 556)">11</text>
<text x="410.1" y="556" font-size="6.6" text-anchor="end" textLength="6" lengthAdjust="spacingAndGlyphs" transform="rotate(-90 410.1 556)">12</text>
<text x="424.4" y="556" font-size="6.6" text-anchor="end" textLength="6" lengthAdjust="spacingAndGlyphs" transform="rotate(-90 424.4 556)">13</text>
<text x="436.7" y="556" font-size="6.6" text-anchor="end" textLength="6" lengthAdjust="spacingAndGlyphs" transform="rotate(-90 436.7 556)">14</text>
<text x="448.8" y="556" font-size="6.6" text-anchor="end" textLength="6" lengthAdjust="spacingAndGlyphs" transform="rotate(-90 448.8 556)">15</text>
<text x="459.9" y="556" font-size="6.6" text-anchor="end" textLength="6" lengthAdjust="spacingAndGlyphs" transform="rotate(-90 459.9 556)">16</text>
<text x="470.4" y="556" font-size="6.6" text-anchor="end" textLength="6" lengthAdjust="spacingAndGlyphs" transform="rotate(-90 470.4 556)">17</text>
<text x="480.3" y="556" font-size="6.6" text-anchor="end" textLength="6" lengthAdjust="spacingAndGlyphs" transform="rotate(-90 480.3 556)">18</text>
<text x="488.7" y="556" font-size="6.6" text-anchor="end" textLength="6" lengthAdjust="spacingAndGlyphs" transform="rotate(-90 488.7 556)">19</text>
<text x="496" y="556" font-size="6.6" text-anchor="end" textLength="6" lengthAdjust="spacingAndGlyphs" transform="rotate(-90 496 556)">20</text>
<text x="502.6" y="556" font-size="6.6" text-anchor="end" textLength="6" lengthAdjust="spacingAndGlyphs" transform="rotate(-90 502.6 556)">21</text>
<text x="508.5" y="556" font-size="6.6" text-anchor="end" textLength="6" lengthAdjust="spacingAndGlyphs" transform="rotate(-90 508.5 556)">22</text>
<text x="160" y="516" font-size="7.8" text-anchor="middle" textLength="21" lengthAdjust="spacingAndGlyphs" transform="rotate(-90 160 516)">Cluster</text>
<text x="343" y="477.4" font-size="8.4" text-anchor="middle" textLength="18.6" lengthAdjust="spacingAndGlyphs">PT03</text>
<text x="343" y="573.8" font-size="8.3" text-anchor="middle" textLength="40" lengthAdjust="spacingAndGlyphs">Chromosome</text>
<text transform="translate(152.2 479.6) scale(1.13 1)" font-size="11.5" font-weight="bold" fill="#000">I</text>
<rect x="189.8" y="578.6" width="5.6" height="5.6" fill="#8e1b1e"/>
<text x="199" y="583.8" font-size="7.4" textLength="78.4" lengthAdjust="spacingAndGlyphs">Gain more than two copies</text>
<rect x="284" y="578.6" width="5.6" height="5.6" fill="#b64c52"/>
<text x="292.7" y="583.8" font-size="7.4" textLength="45.8" lengthAdjust="spacingAndGlyphs">Gain two copies</text>
<rect x="345" y="578.6" width="5.6" height="5.6" fill="#d58c89"/>
<text x="353.8" y="583.8" font-size="7.4" textLength="42" lengthAdjust="spacingAndGlyphs">Gain one copy</text>
<rect x="402" y="578.6" width="5.6" height="5.6" fill="#7283c9"/>
<text x="411" y="583.8" font-size="7.4" textLength="48.2" lengthAdjust="spacingAndGlyphs">Loss of one copy</text>
<rect x="465.4" y="578.6" width="5.6" height="5.6" fill="#bdbdbd"/>
<text x="473.8" y="583.8" font-size="7.4" textLength="22" lengthAdjust="spacingAndGlyphs">Neutral</text>
<polygon points="44.9,216.3 54.3,215.9 62.2,219 70.1,220.5 76.3,223.9 81,233.4 81,241.3 74.8,247.6 65.3,252.6 63.9,257.3 67.7,262.6 65.3,266.5 57.5,271.4 52.8,277.8 46.5,285.6 38.7,290.7 30.8,291.2 22.9,288.8 22.9,265.1 27.6,258.8 34.6,255.4 37.5,253.7 33.7,251 30.8,247.6 28.5,238.1 30.8,228.6 37.1,220.7" fill="#e2ddef"/>
<path transform="scale(.1)" stroke="#b4b4dc" stroke-width="13" fill="none" d="M200 2678h13m32 206h13m-12-181h13m-11 182h13m-13 2h13m-5-172h13m-9 6h13m-10 6h13m-13 62h13m-9-70h13m-11 26h13m-7 20h13m-9 27h13m-11-406h13m-9 461h13m-8-247h13m-12-167h13m-12 236h13m-10-290h13m-7 420h13m-10-132h13m-12 162h13m-11-232h13m-9-334h13m-10 208h13m-13 279h13m-10 138h13m-7-290h13m-9 122h13m-5 106h13m-13 19h13m-11-422h13m-12 324h13m-7-400h13m-13 2h13m-11 263h13m-9-22h13m-12 217h13m-12-296h13m-5-296h13m-10 544h13m-12-352h13m-12 212h13m-12-210h13m-7-88h13m-12 345h13m-11-279h13m-6-149h13m-12 407h13m-9-256h13m-9 60h13m-11-194h13m-9 574h13m-12 45h13m-8 26h13m-12-670h13m-13 661h13m-12 6h13m-12-149h13m-11-542h13m-8 177h13m-12 463h13m-9-489h13m-12 382h13m-11 86h13m-10-447h13m-5 327h13m-9-300h13m-13 405h13m-12-404h13m-12 270h13m-12-201h13m-9 47h13m-9-130h13m-10 156h13m-9-298h13m-12 580h13m-12-520h13m-13 26h13m-12 357h13m-11-248h13m-10-210h13m-12-71h13m-12 136h13m-12 482h13m-6-85h13m-10-369h13m-10 76h13m-4 19h13m-13 313h13m-12-518h13m-7 39h13m-13 76h13m-12-159h13m-11 385h13m-13 61h13m-12-456h13m0 129h13m-12-73h13m-10 142h13m-8-152h13m-9 110h13m-9-165h13m-12 566h13m-11-19h13m-10-413h13m-11 277h13m-13 158h13m-12-100h13m-3-415h13m-10 540h13m-11-5h13m-11-585h13m-10 25h13m-13 6h13m-11 173h13m1 198h13m-11-46h13m-12-267h13m-12-46h13m-11 92h13m-10 152h13m-11 226h13m-11-489h13m-13 324h13m-11-326h13m-1 34h13m-11-12h13m-5 54h13m-12 85h13m-12-140h13m-11 13h13m-12 41h13m-4 240h13m-6 156h13m-9-11h13m-4-36h13"/>
<path transform="scale(.1)" stroke="#dcdcf0" stroke-width="13" fill="none" d="M174 2699h13m-5 0h13m9-30h13m-4-9h13m-2-14h13m-8 2h13m-13 13h13m4-16h13m-11 134h13m-3-53h13m-9-68h13m-7 79h13m-5-1h13m-9 115h13m-6-448h13m-12 404h13m-1-219h13m9-95h13m-10 115h13m-4-118h13m-9-217h13m-10 193h13m-10 289h13m-13 30h13m-11 133h13m-2-360h13m-11 349h13m-11-537h13m-8 393h13m-9-94h13m-10-392h13m-12 484h13m-12-245h13m-13 48h13m-9-161h13m-10 76h13m-9 79h13m-13 125h13m-11-45h13m-9-71h13m-13 281h13m-11-492h13m-13 53h13m-12 172h13m-10-252h13m-10 416h13m-7-240h13m-13 43h13m-9 124h13m-12-152h13m-10 59h13m-9 149h13m-9 93h13m-12-310h13m-13 91h13m-12 259h13m-11-334h13m-13 87h13m-9-233h13m-10 197h13m-11 155h13m-11-416h13m-13 21h13m-9-37h13m1 312h13m-10-16h13m-7 225h13m-9-305h13m-9-260h13m-2 4h13m-11 42h13m-8 182h13m-13 123h13m-11-12h13m-11 216h13m-12-523h13m-13 110h13m-11-124h13m-10-65h13m-12 316h13m-9 135h13m-7-434h13m-8-56h13m-13 462h13m-13 17h13m-9-136h13m-6 24h13m-4 101h13m-11-93h13m-10-69h13m-9 127h13m-10-155h13m-10 242h13m-12-313h13m-12 217h13m-8-8h13m-6 47h13m-4-277h13m-12-104h13m-13 333h13m-10-123h13m-13 113h13m-12 27h13m-12-176h13m-10-178h13m-13 262h13m-13 55h13m-9 99h13m-4-140h13m-10 85h13m-12-88h13m-5 52h13m-5-291h13m-10 250h13m-4 14h13m-10-350h13m-12 383h13m-9-182h13m-9 18h13m-11-206h13m-13 154h13m-10-114h13m-13 53h13m-13 57h13m-13 135h13m-10 16h13m-12 87h13m-12-377h13m-13 109h13m-13 137h13m-11-255h13m-9-18h13m-13 316h13m-13 152h13m-11-287h13m-12-119h13m-11-34h13m-13 31h13m-6 256h13m-10-281h13m-13 18h13m-13 18h13m-12 199h13m-10-230h13m-12 213h13m-13 19h13m-11-229h13m-12 27h13m-11 239h13m-12-179h13m-9-39h13m-11 135h13m-12-216h13m-13 35h13m-9 37h13m-11 121h13m-11-16h13m-13 23h13m-10-21h13m-12-157h13m-8 81h13m-9-2h13m-13 62h13m-11-88h13m-11 56h13m-10 5h13m-10-50h13m-9-69h13m-11 21h13m-13 181h13m-12-33h13m-11-159h13m-13 179h13m-12-136h13m-11-42h13m-11 227h13m-11-238h13m-8 246h13m-9-220h13m-7 84h13m-11 30h13m-10 1h13m-12-124h13m-10 4h13m-12 96h13m-13 58h13m-13 34h13m0-144h13m-12 147h13m-8-140h13m-12 112h13m-10-26h13m-1-68h13m-5-1h13m-11 97h13m-12-25h13"/>
<path transform="scale(.1)" stroke="#b4a0dc" stroke-width="13" fill="none" d="M244 2853h13m2-201h13m-8 160h13m-11-33h13m-9 12h13m-11-153h13m-11 171h13m-12 106h13m-11-142h13m-13 24h13m-11 2h13m-11-22h13m-8 78h13m-11-496h13m-11 410h13m-12 48h13m-11-139h13m-11-17h13m-12-257h13m-12 401h13m-11-516h13m-4 75h13m-9 64h13m-12 360h13m-12-389h13m-11 464h13m-9-6h13m-9-448h13m-8 491h13m-6-124h13m-12 5h13m-12-369h13m-11 78h13m-11-256h13m-12 609h13m-6-267h13m-9 236h13m-4 87h13m-11-16h13m-8-593h13m-13 114h13m-13 451h13m-10-89h13m-13 112h13m-10-206h13m-10-291h13m-9 25h13m-12 260h13m-11-457h13m-13 571h13m-8-311h13m-12-184h13m-4 591h13m-9-421h13m-13 235h13m-11 33h13m-10-522h13m-6 44h13m-13 616h13m-11-418h13m-11-195h13m-11 202h13m-13 305h13m-12-338h13m-13 271h13m-10-345h13m-11 59h13m-12-222h13m-13 479h13m-13 160h13m-12-426h13m-12 314h13m-10-538h13m-13 210h13m-9-167h13m-13 60h13m-12 367h13m-8-428h13m-12 497h13m-13 77h13m-12-466h13m-6 440h13m-13 61h13m-12-450h13m-11 57h13m-5 370h13m-11-479h13m-13 192h13m-11-77h13m-12-239h13m-12 592h13m-12-337h13m-12-28h13m-12 77h13m-13 235h13m-10-449h13m-12 353h13m-6-361h13m-7 417h13m-4 6h13m-7-485h13m-8 125h13m-10 457h13m-12-421h13m-9 101h13m-12-44h13m-13 311h13m-8-520h13m-13 154h13m-13 42h13m-12-49h13m-11-43h13m-11 30h13m-13 57h13m-11-32h13m-6-219h13m-12 259h13m-9-196h13m-11-66h13m-12 140h13m-13 76h13m-12 4h13m-13 276h13m-13 70h13m-13 22h13m-12-468h13m-11 52h13m-12-158h13m-9 475h13m-11-204h13m-13 20h13m-13 185h13m-11 69h13m-11-549h13m-5 249h13m-12-156h13m-13 384h13m-12-200h13m-11-113h13m-13 349h13m-11-268h13m-13 255h13m-10-174h13m-10-40h13m-11 7h13m-10 177h13m-12 41h13m-10-269h13m-10-144h13m-9 66h13m-4 25h13m-13 286h13m-12-334h13m-8-35h13m-12-78h13m-13 209h13m-13 220h13m-11-128h13m-13 178h13m-12-45h13m-7-188h13m-6-46h13"/>
<path transform="scale(.1)" stroke="#a0a0c8" stroke-width="13" fill="none" d="M254 2803h13m12 32h13m-11-147h13m-4-53h13m-9 118h13m-9-459h13m-7 628h13m-11-594h13m-12 137h13m-12 361h13m-2-32h13m-8-89h13m-11-94h13m-7-119h13m-11 206h13m-7 119h13m-13 70h13m-12-91h13m-10-321h13m-13 97h13m-12 58h13m-4 46h13m1 96h13m-9-361h13m-6 56h13m-13 267h13m-7-513h13m-11 457h13m-8-242h13m-13 70h13m-10-172h13m-10-11h13m-10 62h13m-8 3h13m-8 295h13m-6-293h13m-8 34h13m-11-11h13m1 411h13m-13 0h13m-11-24h13m-11-470h13m-3 7h13m-7 420h13m-10-351h13m-11 60h13m-11 160h13m-12-257h13m-13 313h13m-13 71h13m-12 38h13m-1-488h13m10 77h13m-7 60h13m-11-245h13m-7-42h13m-7 169h13m-6-121h13m-8 274h13m-6-83h13m3-203h13m-12 218h13m-11 16h13m-10-117h13m-12 320h13m-12-121h13m19-276h13m-12 47h13m1-4h13m-2 158h13m-10-61h13m-11-21h13m-11 326h13"/>
<path transform="scale(.1)" stroke="#f0f0ff" stroke-width="13" fill="none" d="M659 2247h13m-13 227h13m14-174h13m-13 17h13m-8-18h13m-5 172h13m-8-142h13m9 67h13m-12-91h13m5 13h13m-9-37h13m-6 162h13m2-47h13m-6-51h13m2 2h13"/>
<path transform="scale(.1)" stroke="#c8b4dc" stroke-width="13" fill="none" d="M181 2686h13m54 198h13m-4-275h13m-12 266h13m-5-222h13m-7 174h13m-9-30h13m-8-206h13m-1-278h13m-11 488h13m-12 68h13m-12-404h13m-13 1h13m-7 10h13m0 220h13m-6-54h13m-13 249h13m-12-73h13m-12-146h13m-10-281h13m-12-62h13m-13 288h13m-10-267h13m-11 66h13m-13 170h13m-13 320h13m-8-617h13m-13 380h13m-11 217h13m-8-553h13m-13 527h13m-11-515h13m-9 490h13m-12-331h13m-11-17h13m-12 105h13m-13 43h13m-2-47h13m-13 216h13m-13 103h13m-11-194h13m-11 190h13m-12-504h13m-11 484h13m-12-515h13m-11 505h13m-12-25h13m-12-237h13m-12-291h13m-13 281h13m-2-200h13m-12 266h13m-13 54h13m-12-10h13m-12-476h13m-13 627h13m-10-379h13m-12 259h13m-9-224h13m-13 361h13m-5-147h13m-12 123h13m-12-427h13m-10-166h13m-13 198h13m-9-259h13m-10 158h13m-13 530h13m-9-268h13m-8-245h13m-12 461h13m-11-592h13m-12-85h13m-12 304h13m-12-86h13m-13 105h13m-12 41h13m-10-211h13m-12 388h13m-10 157h13m-9-31h13m-10-186h13m-10-48h13m-13 172h13m-10-588h13m-9 505h13m-9-327h13m-12-122h13m-12 511h13m-12-358h13m-7 303h13m-13 30h13m-12-391h13m-11 298h13m-12-326h13m-9-29h13m-11 351h13m-7-313h13m-5 242h13m-10-181h13m-12-114h13m-12 86h13m-12-37h13m-12 407h13m-11-214h13m-8 42h13m-4 86h13m-7 71h13m-8 65h13m-12-567h13m-13 407h13m-13 164h13m-10-159h13m-8-331h13m-8 65h13m-13 175h13m-8 119h13m-12-85h13m-13 141h13m-11-22h13m-13 19h13m-8-385h13m-13 20h13m-11 272h13m-12-289h13m-12 55h13m-8 180h13m-9 124h13m-8 43h13m-8-424h13m-13 198h13m-11-40h13m-12-142h13m-11 202h13m-12 87h13m-12 10h13m-12-113h13m-11-56h13m-8 59h13m-12-203h13m-11 142h13m-13 11h13m-9-252h13m-13 70h13m-9-9h13m-11-60h13m-11 479h13m-10-156h13m-12 6h13m-12-330h13m-6-4h13m-13 481h13m-3-4h13m-11-288h13m-8-121h13m-11 154h13m-10-8h13m-10 83h13m2-108h13m-10-137h13m-9 393h13m-12-242h13m-9-19h13m-12-136h13m0 232h13m-8-66h13m-11-41h13m-12 67h13m-8-141h13m-5 99h13m-11 6h13m-10-46h13m-6 93h13m-6-17h13m-13 62h13m-9-60h13m-12-135h13m12-41h13m-3 18h13m-13 111h13m-7-71h13m-13 99h13m-4-66h13m-10 54h13"/>
<path transform="scale(.1)" stroke="#8c8cc8" stroke-width="13" fill="none" d="M238 2635h13m15 179h13m-6-180h13m14-333h13m-12 288h13m-13 84h13m-6-319h13m-10-49h13m-7 298h13m-9-221h13m-12 57h13m-4 242h13m-10-392h13m-6 136h13m-7 20h13m-12-53h13m-10-126h13m-13 231h13m-3 356h13m-11-173h13m-8-336h13m-7-73h13m-12 6h13m-13 105h13m-11 480h13m-9-593h13m-12 169h13m-7-217h13m2 79h13m2 332h13m-10 184h13m-12-77h13m1-298h13m-13 43h13m-3 389h13m-12-466h13m-12 345h13m-11-412h13m-12-131h13m0-55h13m-13 699h13m-5-637h13m-3-48h13m-12 111h13m-13 451h13m-12-511h13m-8 572h13m1-376h13m-3-56h13m1-109h13m2-82h13m-11 31h13m-11 519h13m-11-556h13m-12 87h13m-6 82h13m-7 59h13m-6-85h13m-6 3h13m-3 189h13m-11-256h13m-12-57h13m-12 187h13m2-77h13m-5-13h13m-8 117h13m-8-160h13m-13 127h13m-11-126h13m-10 411h13m-8-359h13m3 342h13"/>
<path transform="scale(.1)" stroke="#c8c8dc" stroke-width="13" fill="none" d="M192 2689h13m-9 5h13m-5 0h13m-10-34h13m28 76h13m-11 155h13m-9-87h13m-8-8h13m3-133h13m-7 37h13m-9 157h13m-12-169h13m-10 145h13m-12-42h13m-12-105h13m-12-300h13m-12 87h13m-13 229h13m-11 221h13m-12-266h13m-13 250h13m-11-266h13m-8-243h13m-13 52h13m-12 330h13m-12-311h13m-11 201h13m-10-247h13m-13 13h13m-9 266h13m-10-91h13m-11 37h13m-13 78h13m-12-34h13m-13 202h13m-12-418h13m-7 154h13m-10 21h13m-12 228h13m-6 31h13m-10-23h13m-12-584h13m-10 288h13m-8-169h13m-13 231h13m-11-400h13m-13 667h13m-5-171h13m-11-274h13m-13 195h13m-12-341h13m-8-22h13m-9 448h13m-13 73h13m-9-573h13m-11-50h13m-12 680h13m-12-491h13m-13 312h13m-12 8h13m-10-2h13m-10-186h13m-11 347h13m-12-568h13m-10 526h13m-12-244h13m-12-2h13m-12 311h13m-9-300h13m-9 290h13m-12-584h13m-11 24h13m-11 14h13m-10 364h13m-11-345h13m-9 250h13m-10 16h13m-12-113h13m-12-185h13m-8-117h13m-8 492h13m-11 173h13m-12-656h13m-12 324h13m-10-172h13m-11 251h13m-11 11h13m-12-10h13m-4 212h13m-11-460h13m-12 15h13m-11 217h13m-13 161h13m-12-414h13m-8 97h13m-10 264h13m-12 51h13m-11-391h13m-10 210h13m-13 5h13m-11-18h13m-5 136h13m-10-88h13m-11 182h13m-12-225h13m-12-125h13m-8 110h13m-11 95h13m-9-444h13m-10 250h13m-4 4h13m-13 114h13m-12 8h13m-10-165h13m-9-220h13m-10 226h13m-10 261h13m-12-41h13m-8-500h13m-12 90h13m-10 307h13m-3-86h13m-11-52h13m-9 197h13m-11-318h13m-3 11h13m-13 209h13m-10-199h13m-13 276h13m-11-169h13m-11-50h13m-8 158h13m-10 176h13m-9-49h13m-12-2h13m-12-279h13m-13 148h13m-6-248h13m-11 398h13m-10-386h13m-11 238h13m-11 175h13m-9-350h13m-12 216h13m-11-383h13m-12 114h13m-12-75h13m-13 359h13m-11-329h13m-12 317h13m-12-172h13m-12-149h13m-11 91h13m-12-49h13m-6-46h13m-11 253h13m-8 158h13m-12-286h13m-8 124h13m-7-251h13m-12 111h13m-12 59h13m-10-172h13m-11 8h13m-13 166h13m-10-84h13m-11 0h13m-13 81h13m-11 245h13m-12-27h13m-12-126h13m-2-74h13m-5-146h13m-12 163h13m-8 65h13m-3-223h13m-11 185h13m-11-182h13m-10 29h13m-11 110h13m-11-187h13m-4 106h13m-13 135h13m-9-272h13m-12 261h13m-6-163h13m-13 156h13m-11-174h13m-2 12h13m-9-5h13m-10 14h13m-9 147h13m-10-176h13m-13 167h13m-12-74h13m-6 48h13m-1-150h13m-10 79h13m0 6h13m-12 28h13m-1-8h13"/>
<path transform="scale(.1)" stroke="#f0dcdc" stroke-width="13" fill="none" d="M151 2731h13m11 127h13m-11-46h13m-5 45h13m-12 8h13m8-11h13m-1-148h13m-12 151h13m0-70h13m-12-64h13"/>
<path transform="scale(.1)" stroke="#f0c8c8" stroke-width="13" fill="none" d="M137 2748h13m-5 54h13m-2 55h13m4-3h13m-3-55h13m-4 31h13m-4 50h13m8-153h13m-2 67h13"/>
<path transform="scale(.1)" stroke="#a0a0dc" stroke-width="13" fill="none" d="M237 2700h13m0-75h13m-10 0h13m35 28h13m-4-52h13m11-164h13m11-2h13m-13 292h13m7 161h13m-3-172h13m2-341h13m11-214h13m-9 252h13m-8 76h13m-12 382h13m-10-176h13m-12 40h13m-1-401h13m9 443h13m18-361h13m-8 244h13m-4-202h13m8-289h13m-4 545h13m-12-476h13m-12-60h13m-12 551h13m17-73h13m2-405h13m1-35h13"/>
<path transform="scale(.1)" stroke="#dcc8f0" stroke-width="13" fill="none" d="M220 2699h13m7-81h13m-3 214h13m7-132h13m-3-21h13m-12-341h13m-11 58h13m-7-78h13m-13 455h13m-6-336h13m-12-118h13m7 338h13m-2-171h13m-13 131h13m-5 5h13m-13 199h13m-10-487h13m-4 231h13m-12 251h13m-13 75h13m-6-642h13m-13 57h13m-10 22h13m-7 197h13m-10 4h13m-13 386h13m-10-130h13m11-295h13m-12 80h13m-12 244h13m-12-145h13m-13 136h13m-6-380h13m-12 221h13m-9-96h13m-12-265h13m-11 351h13m-9-27h13m-9-256h13m-13 450h13m-10-225h13m-11-41h13m-12 13h13m-9 240h13m-13 91h13m-12-519h13m-12-185h13m-6 3h13m-10 384h13m-9-323h13m-10 566h13m-12-582h13m0 492h13m-9-165h13m-11-158h13m-13 218h13m-11-22h13m-12-381h13m-12 190h13m-11 228h13m-1 19h13m-12-334h13m-5-79h13m-13 328h13m-4 121h13m-6-282h13m-12-184h13m-11 39h13m-11 479h13m-11-25h13m-1-89h13m-10-287h13m-12 335h13m-9-395h13m-13 271h13m-11-374h13m-9 181h13m-11 40h13m-9-29h13m-6 30h13m-11 12h13m-13 242h13m-2-359h13m-12 426h13m-9-452h13m-10-47h13m-12 178h13m-5-104h13m-12 308h13m-12 101h13m-6-150h13m-5-345h13m-11 1h13m-13 280h13m-5 161h13m-2-455h13m-5 67h13m-12 300h13m-10-300h13m-13 226h13m-9-142h13m-13 148h13m-10-117h13m-10 250h13m-5 7h13m-10 29h13m-9-463h13m-10 179h13m-4-13h13m-4-156h13m-13 75h13m-12 129h13m-5-197h13m-13 68h13m-13 172h13m-2-60h13m-11-139h13m-12-29h13m-9 203h13m-7-14h13m8-107h13m-11-24h13m-12 186h13m-2-200h13m-10 100h13m-13 62h13m-12 25h13m2-95h13m10 19h13m3-47h13"/>
<path transform="scale(.1)" stroke="#a08cc8" stroke-width="13" fill="none" d="M234 2661h13m-8 22h13m-6-19h13m-10 190h13m-12-115h13m-11 76h13m-9-98h13m-10-26h13m-12 170h13m-9 10h13m-10-94h13m-10 132h13m-9-259h13m-8 208h13m-10-137h13m-13 125h13m-9-436h13m-13 301h13m-10-371h13m-7-20h13m-11 154h13m-4 298h13m-8-337h13m-13 3h13m-12-19h13m-11-141h13m-13 518h13m-12-318h13m-12-134h13m-13 149h13m-12-21h13m-13 407h13m-11-275h13m-10 207h13m-12-396h13m-12 229h13m-13 43h13m-11-353h13m-11 493h13m-13 47h13m-12-574h13m-12 314h13m-11 181h13m-13 37h13m-12-541h13m-10 73h13m-12 445h13m-11-319h13m-10-124h13m-13 292h13m-10 131h13m-11-116h13m-11-366h13m-8-41h13m-9 554h13m-8-56h13m-9 151h13m-11-86h13m-11-424h13m-11-104h13m-11 600h13m-12-504h13m-12 396h13m-11 75h13m-12-613h13m-10 405h13m-13 135h13m-7-542h13m-8 439h13m-12-371h13m-12 88h13m-12 330h13m-11-431h13m-7 522h13m-11-562h13m-13 527h13m-10-469h13m-12 138h13m-11-86h13m-9 28h13m-12 38h13m-6-20h13m-13 429h13m-3-396h13m-13 273h13m-9-309h13m-11 11h13m-10-255h13m-12 242h13m-11-213h13m-13 188h13m-7 333h13m-11-10h13m-11-385h13m-13 293h13m-10-334h13m-13 174h13m-11 241h13m-9 141h13m-12-11h13m-10-76h13m-11 0h13m-11-565h13m-11 66h13m-13 134h13m-11-233h13m-12 288h13m-12-208h13m-10 517h13m-11-484h13m-12 160h13m-8-94h13m-10 348h13m-8 59h13m-12-86h13m-12-261h13m-12-189h13m-9 456h13m-11-34h13m-10 153h13m-11-591h13m1-36h13m-13 518h13m-9-455h13m-11 37h13m-10 112h13m-13 112h13m-11 173h13m-11 4h13m-8-277h13m-7-1h13m-11-39h13m-13 319h13m-12-457h13m-12 423h13m-11-173h13m-10-2h13m-12-102h13m-13 277h13m-9-255h13m-10 93h13m-8-133h13m-13 3h13m-13 285h13m-12 16h13m-12 39h13m-10-25h13m-10-284h13m-12-88h13m-2 82h13m-4-153h13m-7-8h13m-12 466h13m-9-412h13m-12 372h13m-9-138h13m-11-128h13m37 264h13"/>
<path transform="scale(.1)" stroke="#f0dcf0" stroke-width="13" fill="none" d="M185 2692h13m0-21h13m158-147h13m-11 47h13m22-60h13m-10 96h13m27-93h13m-10 89h13m-12-79h13m34-7h13m81 69h13m34-48h13m-8-266h13m-10-76h13m13 0h13m-13 164h13m-12 108h13m-3-39h13m-11-38h13m-7-82h13m19 133h13m8-6h13m23-73h13m-8 57h13m7-103h13"/>
<path transform="scale(.1)" stroke="#c8c8f0" stroke-width="13" fill="none" d="M201 2670h13m4-19h13m41-278h13m10-80h13m-11 496h13m-13 89h13m-6-228h13m-5-270h13m-8 57h13m-13 457h13m-6-69h13m-2-239h13m-5 136h13m-10-431h13m-10 55h13m-4 383h13m-10-288h13m-12 476h13m-10-337h13m-9-24h13m-11-60h13m-13 44h13m-10 82h13m-11-306h13m-11 205h13m-12-101h13m-5 219h13m-12-262h13m-9 506h13m-10-637h13m-8 23h13m-11 159h13m-8 151h13m-11-117h13m-8 172h13m-8-381h13m-12 305h13m-5-62h13m-10-141h13m9-145h13m-2 396h13m-11 234h13m-8-239h13m15-432h13m-13 506h13m-12-146h13m-9 223h13m0-399h13m-12-135h13m-12 456h13m14-506h13m-5 420h13m-11-260h13m-7-28h13m-13 123h13m-6 284h13m4-408h13m-11 380h13m-8-326h13m-1 98h13m0-133h13m-12-119h13m10-13h13m-7 278h13m-12-151h13m-8-27h13m9-71h13m-3 11h13m4 111h13m-8 3h13m-11-141h13m-12 154h13m-7-128h13m16 55h13m2 59h13m-9 15h13m-13 107h13"/>
<path transform="scale(.1)" stroke="#f0f0f0" stroke-width="13" fill="none" d="M360 2587h13m-12-73h13m-11 99h13m-12-43h13m-7 26h13m0-49h13m-6 73h13m-6-27h13m-10-80h13m6 8h13m4 36h13m5 34h13m-7 10h13m-10-23h13m49-58h13m35 96h13m-8-73h13m-2 75h13m-6-94h13m-8 13h13m9-11h13m-8 72h13m-6-258h13m-9-122h13m-13 234h13m-11-253h13m-10 216h13m-12-199h13m-8 35h13m-13 205h13m-11-81h13m-12 42h13m-11-142h13m-13 144h13m-7 31h13m-13 37h13m-9-61h13m-12-217h13m-12 101h13m-12-23h13m-12 128h13m-11-48h13m-8-92h13m-10-56h13m-13 28h13m-13 65h13m-9 136h13m-12-199h13m-6 114h13m-10-30h13m-4 8h13m-10 40h13m-8-72h13m-11 5h13m-6-82h13m-8 97h13m-6-77h13m-12 181h13m-7-165h13m-11 141h13m-12-149h13m-12 128h13m-13 24h13m-11-178h13m-13 11h13m-10 187h13m-5-144h13m-10 36h13m-10 135h13m-10-102h13m-9-57h13m-4 39h13m-12-36h13m-12 8h13m-11 40h13m-12-81h13m-13 158h13m-12-39h13m-9-4h13m-11-86h13m-4 23h13m-13 47h13m-3 40h13m-12-72h13m-13 68h13"/>
<path transform="scale(.1)" stroke="#fff0f0" stroke-width="13" fill="none" d="M206 2740h13m-10 23h13m2 93h13m-5-153h13"/>
<path transform="scale(.1)" stroke="#8c78c8" stroke-width="13" fill="none" d="M244 2619h13m-8 227h13m-2-44h13m-2 104h13m-8-182h13m-2 95h13m-6 39h13m-9-279h13m3-130h13m3 137h13m-5 235h13m-9-370h13m-8 368h13m13-508h13m-5-65h13m30 571h13m-8-494h13m-8 18h13m-12 136h13m5-53h13m-7 247h13m-13 84h13m-2-549h13m-8 128h13m-1-151h13m-13 163h13m-11 334h13m-4 55h13m-8-18h13m-6-343h13m-8-150h13m2 182h13m-3-129h13m-13 86h13m-7 350h13m-6-25h13m1-222h13m3 173h13m-11-278h13m-8 124h13m-12 193h13m-2-490h13"/>
<path transform="scale(.1)" stroke="#ffdcdc" stroke-width="13" fill="none" d="M187 2816h13m-12 21h13m-8-134h13m-12 170h13"/>
<path transform="scale(.1)" stroke="#fff0dc" stroke-width="13" fill="none" d="M190 2841h13m20 42h13"/>
<path transform="scale(.1)" stroke="#f0dcc8" stroke-width="13" fill="none" d="M146 2848h13m5-68h13m10 84h13m0-86h13m-6 39h13"/>
<polygon points="121.4,216.3 130.8,215.9 138.7,219 146.6,220.5 152.8,223.9 157.5,233.4 157.5,241.3 151.3,247.6 141.8,252.6 140.4,257.3 144.2,262.6 141.8,266.5 134,271.4 129.3,277.8 123,285.6 115.2,290.7 107.3,291.2 99.4,288.8 99.4,265.1 104.1,258.8 111.1,255.4 114,253.7 110.2,251 107.3,247.6 105,238.1 107.3,228.6 113.6,220.7" fill="#fbe6dd"/>
<path transform="scale(.1)" stroke="#f0dcdc" stroke-width="13" fill="none" d="M988 2657h13m-3 14h13m-13 3h13m2-38h13m-10 272h13m-10-125h13m-10 117h13m-9-281h13m-13 5h13m-8 171h13m-11-149h13m-9-261h13m-6 400h13m-7-377h13m-12-84h13m-10 296h13m-12 161h13m-13 55h13m-1-406h13m-13 5h13m-13 295h13m-11-425h13m-12 73h13m-12-60h13m-12 360h13m-13 143h13m-8-211h13m-10-314h13m-13 415h13m-9-274h13m-9-174h13m-12 134h13m-11 471h13m-4-536h13m-12 312h13m-12-277h13m-13 460h13m-11-256h13m-12 240h13m-12-473h13m-13 180h13m-8-239h13m-9 246h13m-12 224h13m-11-154h13m-12-4h13m-13 31h13m-9-73h13m-13 333h13m-5-279h13m-11 113h13m-10-195h13m-5-304h13m-9 374h13m-10 102h13m-12 100h13m-12-541h13m-13 275h13m-13 125h13m-12 23h13m-13 53h13m-11-469h13m-13 364h13m-10-284h13m-13 243h13m-11-267h13m-13 260h13m-13 167h13m-10-276h13m-13 409h13m-12-571h13m-11 245h13m-13 63h13m-13 255h13m-10-39h13m-4 38h13m-12-482h13m-13 463h13m-10-502h13m-13 457h13m-11 35h13m-13 38h13m-12-654h13m-13 539h13m-12-519h13m-11 156h13m-13 400h13m-11-318h13m-12-144h13m-11 195h13m-9-218h13m-13 488h13m-12-420h13m-12-158h13m-13 143h13m-11 35h13m-13 361h13m-11-457h13m-12 545h13m-9-389h13m-13 108h13m-10 301h13m-10-646h13m-12 358h13m-10-310h13m-12 201h13m-13 32h13m-11 359h13m-12-498h13m-11 69h13m-13 350h13m-12-224h13m-10-340h13m-13 511h13m-12-458h13m-13 271h13m0-256h13m-11-50h13m-10 289h13m-8 181h13m-11-175h13m-12 122h13m-10-422h13m-13 209h13m-3-68h13m-13 398h13m-12-207h13m-9-333h13m-4-19h13m-10 136h13m-12 285h13m-10-98h13m-12-345h13m-6 365h13m-12-359h13m-8 563h13m-9-568h13m-13 88h13m-13 210h13m-8-199h13m-13 43h13m-12-18h13m-12 220h13m-13 4h13m-7-304h13m-12 126h13m-5-111h13m-12 14h13m-11-22h13m-3 455h13m-11-515h13m-13 267h13m-11 252h13m-11-465h13m-8 166h13m-13 264h13m-12 31h13m-11-214h13m-13 108h13m-12-266h13m-7-124h13m-10 356h13m-13 64h13m-8-226h13m-12-6h13m-13 239h13m-10-437h13m-11 0h13m-10 173h13m-10 100h13m-8 102h13m-12 115h13m-10-453h13m-9 166h13m-10 283h13m-12-181h13m-10-257h13m-8 20h13m-12-9h13m-1 190h13m-11-182h13m-9 357h13m-10-174h13m-9-84h13m-9 41h13m-11-174h13m-13 190h13m-11-171h13m-13 64h13m-13 7h13m-12 97h13m-5 87h13m-1-258h13m-12 149h13m-10-176h13m-7 236h13m-12-49h13m-9 75h13m-9-34h13m-12 49h13m-3-134h13m-7-96h13m-13 31h13m-7-69h13m-10 24h13m-13 73h13m-4 7h13m-10-12h13m-13 75h13m-2-110h13m-1 58h13m-13 57h13m-11-25h13m-10 71h13m1-60h13m-11-48h13m-1 8h13"/>
<path transform="scale(.1)" stroke="#f0b4a0" stroke-width="13" fill="none" d="M897 2773h13m-5 16h13m-13 15h13m-11 29h13m-10-67h13m1 86h13m6 23h13m-7-106h13m-8-54h13m4 14h13m1 54h13m-8 106h13m-13 2h13m4-81h13m14 8h13m-11-109h13m-11 8h13m-11 136h13m-11-42h13m-5 11h13m-10-164h13m-12-45h13m-12 85h13m-13 128h13m-12-49h13m0 129h13m-3-137h13m-7 35h13m-7 92h13m-12-122h13m-13 45h13m-10-108h13m-11 81h13m-12-3h13m-10 80h13m-8-309h13m-8 7h13m-9 148h13m-13 7h13m-13 153h13m-12-34h13m-9-196h13m-9 207h13m-12-67h13m-11 25h13m-11 49h13m-10-48h13m-11 21h13m-11-198h13m-12 30h13m-11 219h13m-12 15h13m-12-276h13m-10 58h13m-9 106h13m0-128h13m-13 206h13m-9-188h13m-8-38h13m-11 223h13m-11-92h13m-10-134h13m-12-115h13m-13 257h13m-6 76h13m-3-101h13m-12-135h13m11-49h13m0 75h13m-13 134h13m-9-259h13m-13 82h13m-9 165h13m-2-86h13m-11-98h13m4 107h13m-11 35h13m-7-159h13m-7 2h13m-9 205h13m-1-207h13m-12 157h13m-6-54h13m-10-107h13m-12 144h13m7-166h13m-1 155h13m-10-18h13m-10-151h13m-9 88h13m3 18h13m5 5h13m1 0h13m8-14h13m-10 27h13"/>
<path transform="scale(.1)" stroke="#f0c8c8" stroke-width="13" fill="none" d="M929 2814h13m-11-112h13m-10 94h13m58-116h13m-8-43h13m-4 124h13m-12 65h13m-12 6h13m-11-237h13m-11 200h13m-13 19h13m-10 17h13m-9-42h13m-3 124h13m-9-162h13m-13 100h13m-13 59h13m-11-567h13m-12 317h13m-12 252h13m-11-220h13m-7-247h13m-9 14h13m-11-18h13m-12 304h13m-12-284h13m-8-195h13m-13 129h13m-12 332h13m-12 111h13m-10-183h13m-12-376h13m-8 77h13m-12 64h13m-12-2h13m-6-9h13m-10 54h13m-12 168h13m-12 265h13m-10-319h13m-11 331h13m-10-482h13m-13 277h13m-13 186h13m-10-465h13m-10 196h13m-12-25h13m-13 93h13m-8-185h13m-12 84h13m-11-126h13m-11 306h13m-11-335h13m-13 348h13m-7-293h13m-13 288h13m-11-579h13m-12 96h13m-11 324h13m-10 278h13m-11-283h13m-12-102h13m-13 359h13m-12-259h13m-12 113h13m-13 22h13m-11-150h13m-12 81h13m-10-33h13m-11 201h13m-11-111h13m-11-231h13m-9-292h13m-12 504h13m-10-141h13m-12 137h13m-11-485h13m-10-46h13m-13 110h13m-10 341h13m-11-428h13m-13 354h13m-10-107h13m-9 93h13m-10-76h13m-8 52h13m-9 298h13m-6-104h13m-10-304h13m-10 376h13m-11-76h13m-10-407h13m-9 53h13m-8 40h13m-11 232h13m-13 151h13m-11-406h13m-12 216h13m-13 172h13m-12-199h13m-10 8h13m-13 258h13m-7-264h13m-13 178h13m-12 8h13m-9-350h13m-12-190h13m-13 212h13m-11 22h13m-12-258h13m-13 230h13m-11 369h13m-8-500h13m-12 69h13m-9 142h13m-8 123h13m-9-281h13m-12-77h13m-12 104h13m-9-7h13m-6-43h13m-13 266h13m-12-52h13m-6-299h13m-11-59h13m-13 84h13m-13 515h13m-11-199h13m-11-48h13m-10-131h13m-11-72h13m-6 241h13m-8-365h13m-9 160h13m-1-63h13m-12 222h13m-12-354h13m-10 101h13m-11 18h13m-12-55h13m-12 167h13m-10-201h13m-13 127h13m-12 357h13m-12-61h13m-11 104h13m-8-106h13m-11-327h13m-10 361h13m-11-371h13m-13 295h13m-12-258h13m-11 289h13m-12-184h13m-13 89h13m-9-162h13m-12 198h13m-9-328h13m-13 321h13m-12 57h13m-12-261h13m-8-103h13m-10 113h13m-12-120h13m-13 283h13m-13 173h13m-10-455h13m-12 99h13m-6 27h13m-12 262h13m-12 78h13m-7-16h13m-12-177h13m-12 185h13m-10-353h13m-13 89h13m-13 223h13m-12-387h13m-11 134h13m-13 186h13m-11-368h13m-3 336h13m-12-164h13m-7-76h13m-5-58h13m-13 4h13m-11-40h13m-13 82h13m-12 197h13m-12-111h13m-13 78h13m-11-171h13m-12 63h13m-8-51h13m-10 111h13m-8-39h13m-12 47h13m-11-159h13m-12-13h13m-7 163h13m-13 29h13m-11-22h13m-11-82h13m-11 96h13m-11-105h13m-8-107h13m-4 166h13m-8-54h13m-10 106h13m-8 28h13m-6-225h13m-13 14h13m2 210h13m-12-64h13m-10 54h13m-8-51h13m-12-132h13m-10 116h13m-3-129h13m-12 30h13m-10 128h13m-11-99h13m8 2h13"/>
<path transform="scale(.1)" stroke="#fff0f0" stroke-width="13" fill="none" d="M1045 2373h13m-13 5h13m-1-17h13m-8-66h13m-8 168h13m-12-193h13m-13 102h13m9 55h13m-8 26h13m-8-141h13m-9 32h13m-12-75h13m-10-25h13m-9 115h13m-12-74h13m-13 117h13m-12-180h13m-4 278h13m-10-63h13m-12 26h13m-9-98h13m-13 133h13m-12-276h13m-7 272h13m-11-39h13m-11-164h13m-13 72h13m-11-129h13m-12 0h13m-12 41h13m-8 28h13m-12 220h13m-12-311h13m-11 162h13m-13 92h13m-10-164h13m-9-33h13m-11 208h13m-9-256h13m-12-4h13m-13 7h13m-10 124h13m-6-143h13m-11 86h13m-9 159h13m-12 24h13m-12-212h13m-12 295h13m-8-347h13m-10 271h13m-8-62h13m-11 7h13m-8 144h13m1-108h13m-5-264h13m-13 28h13m-13 28h13m-12 162h13m-12 30h13m-12 128h13m-11-317h13m-12 101h13m-12 176h13m-10-366h13m-12 78h13m-9 211h13m-12-257h13m-13 237h13m-10-23h13m-13 23h13m-10-180h13m-11 169h13m-7-108h13m-10 207h13m-9-290h13m-7 26h13m-13 174h13m-11-184h13m-10-73h13m-13 304h13m-9-330h13m-11 53h13m-11 106h13m-12 62h13m-8-83h13m-8-7h13m-10 224h13m-12-19h13m-6-27h13m-8-286h13m-9 257h13m-12-230h13m-9 132h13m-12-131h13m-5 222h13m-13 27h13m-11-97h13m-13 84h13m-12-246h13m-1 242h13m-12-236h13m-11 55h13m-13 200h13m-11-169h13m-11-14h13m-12 251h13m-12-183h13m-8 52h13m-2 83h13m-5-40h13m-11-51h13m-13 61h13m-12 124h13m-9-223h13m-7-75h13m-12 225h13m-3-19h13m-11-46h13m-7 74h13m-4-80h13m-6 77h13m-11-39h13m-12-12h13m-13 66h13m-4-96h13m-1-72h13m-7 47h13m-11-77h13m-10-39h13m8 206h13m-5-156h13m-6 79h13m-7-48h13m-11-115h13m-11 68h13m-5 94h13m-9-63h13m-9 11h13m1-85h13m-12-23h13m10 68h13"/>
<path transform="scale(.1)" stroke="#f0dcc8" stroke-width="13" fill="none" d="M1013 2853h13m-13 48h13m-12-236h13m1 183h13m-9-49h13m-7-114h13m-6-42h13m-12 69h13m-12 95h13m-3-11h13m-12-198h13m-9 129h13m-12 188h13m-6-241h13m-9-313h13m-9-57h13m-8 176h13m-10 209h13m-11 5h13m-3-187h13m0-93h13m-11 237h13m-13 236h13m-12-627h13m-13 121h13m-12 101h13m-9 11h13m-4 32h13m-13 141h13m-9 66h13m-13 60h13m-9 61h13m-11-163h13m-12 100h13m-12-258h13m-9-94h13m-13 114h13m-11 66h13m-9-363h13m-13 45h13m-13 479h13m-11 39h13m-12-501h13m-13 215h13m-12 138h13m-12-288h13m-5-7h13m-9-136h13m-12 327h13m-12-318h13m-13 169h13m-10 215h13m-4 121h13m-12-436h13m-7 404h13m-7-227h13m-12-130h13m-11-167h13m-12 287h13m-13 221h13m-3-516h13m-9 81h13m-8 56h13m-4 261h13m-11-174h13m-12 442h13m-12-301h13m-10 21h13m-10-259h13m-11 178h13m-7-107h13m-12 175h13m3-147h13m-13 231h13m-12-214h13m-12 199h13m-12 110h13m-11-203h13m-13 46h13m-11-107h13m-12-30h13m-11-171h13m-12 200h13m-7 0h13m-4-92h13m-3-103h13m-13 395h13m-11-112h13m-13 91h13m-12-413h13m-12 98h13m-9 398h13m-7-338h13m-9 305h13m-12-364h13m-6 161h13m-8-30h13m-9 11h13m-13 212h13m-7-237h13m-9 208h13m-12-68h13m-13 87h13m-5-508h13m-13 304h13m-12-289h13m-11 422h13m-12-330h13m-13 289h13m-12 16h13m-12 117h13m-8-494h13m-13 414h13m19-420h13m-12-9h13m-13 59h13m-10 124h13m-11-153h13m-6 135h13m-11-156h13m-6 201h13m-8-103h13m-13 344h13m-8-371h13m-7-16h13m-8 161h13m-11-95h13m-12-21h13m-10 80h13m-1-169h13m-12 155h13m-11 115h13m-4-18h13m-12-163h13m-9 119h13m1-20h13m-13 57h13m-11-54h13m-8 24h13m-3 21h13m-9-44h13m-12-182h13m-7 221h13m-9-111h13m0-92h13m-13 119h13m-12-25h13m-5-23h13m-8-10h13m-5 109h13m-12-74h13"/>
<path transform="scale(.1)" stroke="#f0a08c" stroke-width="13" fill="none" d="M883 2780h13m-11-26h13m3 17h13m-8 2h13m4-52h13m6-8h13m-9 133h13m-12-75h13m-11 103h13m-9-195h13m-13 92h13m-11 66h13m-4-26h13m-6 13h13m-12-18h13m-13 23h13m-10 52h13m-12-174h13m-11 90h13m-9-105h13m-10 47h13m-12 39h13m-10-120h13m-10 125h13m-12-7h13m-10-91h13m-12 19h13m-7-32h13m-8-45h13m-13 29h13m-8-47h13m-13 288h13m-9-37h13m-12-258h13m-10 1h13m-12 42h13m-11 152h13m-12-183h13m-11 266h13m-10-26h13m-10-118h13m-10-8h13m-8 127h13m-12-146h13m-13 6h13m-10 29h13m-8-95h13m-12 30h13m-12-5h13m-12 84h13m-13 51h13m-13 38h13m-12 58h13m-12-130h13m-9-171h13m-8 129h13m-13 129h13m-11-9h13m-12-87h13m-5-116h13m-10 72h13m-12 66h13m-13 68h13m-8-143h13m-12 134h13m-11-145h13m-12 212h13m-11-254h13m-10 49h13m-9-9h13m-10 206h13m-7-98h13m-9-44h13m-8-98h13m-12-47h13m-7 276h13m-9-39h13m-13 41h13m-12-191h13m-11 17h13m-11-103h13m-7 63h13m-8 53h13m-10 132h13m-6-74h13m-6-79h13m-11 115h13m-12-181h13m-13 189h13m-9-121h13m-13 58h13m-7-70h13m-5-77h13m-12 87h13m-8 94h13m-9-172h13m-11 45h13m-4 12h13m-10 38h13m-9-68h13m-11 79h13m-12 131h13m-6-129h13m-7-113h13m-3 91h13m-10-41h13m-12 97h13m-12-50h13m-3-94h13m-13 111h13m-13 20h13m-1-114h13m-13 80h13m-9-88h13m-8 35h13m-11 46h13m-13 9h13m-13 21h13m-11-19h13m-13 5h13m0-34h13m-1-42h13m-13 49h13m-12-44h13m-4 44h13m-6 14h13m7-68h13m-9 56h13m-4-48h13m-7-14h13m7-29h13m14 14h13m-7 7h13m8-5h13m-3-6h13"/>
<path transform="scale(.1)" stroke="#fff0dc" stroke-width="13" fill="none" d="M1036 2379h13m5-40h13m14 96h13m8-7h13m-9-115h13m11 65h13m-13 159h13m-8 68h13m-7-135h13m-3 2h13m-10 123h13m-6-138h13m-12 163h13m-12-402h13m-12 136h13m-2 246h13m-4-286h13m-11 212h13m-12-266h13m1 168h13m-3-222h13m-5 194h13m-12 218h13m-9-55h13m-8-403h13m-7 288h13m-10 126h13m-12-105h13m-11-45h13m-8-11h13m-11-58h13m-4 105h13m-7-197h13m-3 66h13m-12 137h13m-8-5h13m-6 57h13m-7-141h13m-10-4h13m-7-190h13m-9 331h13m-4-248h13m-9 151h13m-8-152h13m-5 102h13m-11 166h13m-3 20h13m-12-136h13m-9-136h13m-12-80h13m-11 138h13m0 72h13m-9 93h13m-2-127h13m-6 182h13m8-295h13m-12 90h13m-13 89h13m-4-170h13m-12 112h13m-5-73h13m3 124h13m-6-232h13m4-4h13m5 256h13m-10-148h13m3 156h13m2-199h13m-7 158h13m-2-54h13"/>
<path transform="scale(.1)" stroke="#f0b4b4" stroke-width="13" fill="none" d="M890 2751h13m-12 18h13m-5-11h13m-3 23h13m38-79h13m0-20h13m-1 0h13m-11 175h13m14-28h13m6-110h13m-6 134h13m-6 56h13m-6-498h13m1 327h13m-13 180h13m-5-651h13m-9 478h13m-3-456h13m-10-14h13m-13 77h13m-10 374h13m-9 119h13m-11-582h13m-12 564h13m-10-546h13m0 172h13m-7-207h13m-12 182h13m-12 451h13m-10-588h13m-13 396h13m-12-331h13m-11 145h13m-11 36h13m-10 85h13m-1-28h13m-12-100h13m-10 346h13m-7-596h13m-13 61h13m-7-54h13m-12 160h13m-12 272h13m-6-246h13m-12 33h13m-13 101h13m-12 251h13m-8-260h13m-12-282h13m-5 516h13m-13 4h13m-12-636h13m-13 330h13m-11 209h13m-8-537h13m-12 380h13m-6-165h13m-3 42h13m-12 172h13m-13 235h13m-6-246h13m-9-404h13m-12 395h13m-11-322h13m-5 169h13m-12 356h13m-11-265h13m-7 212h13m-12 75h13m-10-570h13m-11 427h13m-5-164h13m-12 47h13m3-208h13m-11 198h13m-11-87h13m-12-167h13m0 82h13m-13 363h13m-12-284h13m-7-100h13m-11 12h13m-13 211h13m-12-390h13m-12 578h13m-11-115h13m-10-215h13m-12 189h13m-13 7h13m-12-88h13m-12-265h13m-12 157h13m-12-212h13m-13 4h13m-12 417h13m-8-243h13m-12-137h13m-13 261h13m-5-290h13m-12 227h13m-12-147h13m-10 191h13m-11 23h13m-11 103h13m-2-430h13m-11 346h13m-5 67h13m-11-55h13m-8-290h13m-13 116h13m-8-72h13m-13 269h13m-9-111h13m-12-268h13m-9 187h13m-8 33h13m-7 125h13m-10-10h13m-10 39h13m-8-311h13m-13 80h13m-8-133h13m-11 68h13m-13 40h13m-12 39h13m-11 85h13m-9-132h13m-12 193h13m-12 116h13m-5-376h13m-12-20h13m-12 53h13m-12 212h13m-6-146h13m-5 84h13m-6-38h13m-13 123h13m-8-85h13m-11-23h13m-13 92h13m0-150h13m-9-96h13m-12 162h13m-13 52h13m-12-165h13m-8 111h13m-12-117h13m5-3h13m-8-55h13m-13 183h13m-9-97h13m-13 28h13m-11 59h13"/>
<path transform="scale(.1)" stroke="#f0c8b4" stroke-width="13" fill="none" d="M909 2756h13m4-11h13m-8-29h13m-6 152h13m-6-31h13m-7-103h13m-8-16h13m-9 135h13m-4-95h13m-12 73h13m-2-107h13m-10 127h13m-9-62h13m-4-103h13m-12-25h13m-8-35h13m-12 261h13m-12-97h13m-5 115h13m-10-30h13m-12-46h13m-3-61h13m-11-72h13m-5 149h13m-13 8h13m-11-480h13m-12 271h13m-10 211h13m-10-3h13m-7-119h13m-13 106h13m-11-499h13m-10 303h13m-12-182h13m-8-144h13m-13 143h13m-12-171h13m-5 493h13m-12-52h13m-8 152h13m-10-523h13m-13 71h13m-12 62h13m-9-191h13m-9 67h13m-8 24h13m-13 15h13m-13 340h13m-12-479h13m-13 473h13m-8-398h13m-13 443h13m-10-521h13m-12 15h13m-13 17h13m-12-72h13m-13 128h13m-13 524h13m-11-614h13m-4 20h13m-13 5h13m-13 29h13m-11 297h13m-11 259h13m-11-404h13m-12-174h13m-12 221h13m-11 14h13m-12 55h13m-9-257h13m-13 347h13m-12-159h13m-13 249h13m-12-399h13m-11 275h13m-11 10h13m-12 237h13m-12-579h13m-13 129h13m-12 478h13m-12-715h13m-12-9h13m-11 408h13m-12 155h13m-10-96h13m-11-151h13m-12-214h13m-13 582h13m-11-680h13m-13 303h13m-3-223h13m-13 139h13m-12 7h13m-12 109h13m-13 372h13m-12-584h13m-13 364h13m-12-309h13m-13 471h13m-12-541h13m-13 77h13m-12 166h13m-9 65h13m-9-179h13m-10-228h13m-13 133h13m-10 196h13m-12-153h13m-12 90h13m-11 101h13m-12-155h13m-13 134h13m-13 140h13m-11 88h13m-12-422h13m-11 170h13m-9 86h13m-10-160h13m-11-199h13m-10-47h13m-13 277h13m-10-74h13m-11-220h13m-13 597h13m-12-403h13m-12-218h13m-13 207h13m-11 150h13m-12 81h13m-12-319h13m-11-92h13m-13 383h13m-12-95h13m-10-65h13m-11 90h13m-13 298h13m-12-494h13m-13 294h13m-12-382h13m-13 47h13m-13 46h13m-12-7h13m-11 203h13m-10 37h13m-11 20h13m-13 159h13m-7-272h13m-8 44h13m-10-235h13m-13 35h13m-13 141h13m-13 234h13m-12-474h13m-11 173h13m-10 288h13m-1-64h13m-13 88h13m-11-428h13m-13 4h13m-12 9h13m-10-90h13m-12 383h13m-11-378h13m-13 234h13m-11-71h13m-9 368h13m-11-6h13m-9-108h13m-13 40h13m-11-81h13m-11-72h13m-11 114h13m-12-3h13m-12-87h13m-12 178h13m-12-152h13m-12-261h13m-13 289h13m-9-258h13m-10 244h13m-12-258h13m-13 266h13m-13 134h13m-12-475h13m-9 468h13m-12-424h13m-10-68h13m-12 197h13m-12-223h13m-11 70h13m-13 227h13m-12-111h13m-13 32h13m-11-105h13m-13 369h13m-12-345h13m-11 150h13m-13 192h13m-12-370h13m-13 283h13m-11 160h13m-12-393h13m-10 8h13m-12 204h13m-6-193h13m-9-78h13m-12-14h13m-10 84h13m-13 145h13m-12-207h13m-12 61h13m-12 34h13m-10 149h13m-13 110h13m-12 50h13m-10-394h13m0 175h13m-11-265h13m-13 388h13m-11-236h13m-11 239h13m-10-291h13m-13 279h13m-7-113h13m-10-46h13m-11-133h13m-12 304h13m-12-4h13m-12-231h13m-6-81h13m-13 145h13m-13 82h13m-12-31h13m-12-205h13m-12-77h13m-13 280h13m-11 55h13m-12-264h13m-11 96h13m-13 235h13m-5-275h13m-10-44h13m-6 175h13m-10-243h13m-11 72h13m-12-35h13m-6 84h13m-11 183h13m-11-268h13m-10 148h13m-11 30h13m-12 72h13m-9-295h13m-9 218h13m-10-150h13m-11 97h13m-11-72h13m-10-31h13m-13 98h13m-11-118h13m-13 159h13m-12-104h13m-13 23h13m-9 79h13m4-118h13m-12 0h13m1 95h13m-5 106h13m-9-72h13m-13 44h13m-11-106h13m-10-46h13m-4-11h13m-13 38h13m-6 96h13m-13 24h13m-10-34h13m-10-131h13m-10 59h13m8-28h13m-9 8h13"/>
<path transform="scale(.1)" stroke="#ffdcdc" stroke-width="13" fill="none" d="M1026 2732h13m-9 176h13m-10-190h13m-11 198h13m-4-540h13m-10 375h13m-12-396h13m-9 444h13m-12-103h13m-11-36h13m-12-51h13m-11-25h13m-8-137h13m-9-81h13m-8 23h13m-6 196h13m-8-277h13m-6-59h13m-5 55h13m-7-45h13m-13 117h13m-8-50h13m-12 447h13m-4-228h13m-12 84h13m-10 97h13m-6-383h13m-13 223h13m-10 129h13m-12 144h13m-1-593h13m-10 11h13m-13 133h13m-8-35h13m-13 188h13m-10 148h13m-12 178h13m-6-498h13m-11 46h13m-4 243h13m-7-38h13m-11 86h13m-1-37h13m-7 74h13m-10-235h13m-10-92h13m-11-70h13m-13 22h13m-10 280h13m-12-334h13m-6 249h13m-8-67h13m-5-81h13m-10 13h13m-13 116h13m-10-46h13m-11 225h13m-6-483h13m-13 186h13m-12 43h13m-6-8h13m-11-29h13m-12 94h13m-9-101h13m2-24h13m-12-226h13m-5 275h13m-7 215h13m2-78h13m-5-183h13m-12-39h13m-7-134h13m-11 94h13m-13 10h13m-11 305h13m-13 8h13m9-239h13m-13 179h13m-12-138h13m-10 111h13m-6-190h13m-13 136h13m-7 8h13m-9 160h13m-9-369h13m-11 33h13m-10-48h13m-7-94h13m-11 0h13m-7 107h13m10 56h13m-6-84h13m-9 15h13m-8 191h13m0-76h13m-7 11h13m0-179h13m-9 150h13m-4-15h13m-9 13h13m8 77h13m-7 1h13m-7-43h13m-12-47h13m23-17h13m-4-70h13m6 102h13"/>
<path transform="scale(.1)" stroke="#f07864" stroke-width="13" fill="none" d="M881 2795h13m-9-19h13m-5 10h13m-1 11h13m-12-37h13m5 1h13m-11 10h13m-11 30h13m-10 53h13m-1-61h13m-12 42h13m-10-111h13m-13 42h13m-13 51h13m-8 40h13m-9-84h13m-8 82h13m-2-31h13m-7-108h13m-13 63h13m-10-71h13m6-5h13m-7 94h13m-13 90h13"/>
<path transform="scale(.1)" stroke="#f08c78" stroke-width="13" fill="none" d="M890 2785h13m-13 10h13m-8-27h13m-3-9h13m-7 70h13m-9-90h13m14 50h13m-8 19h13m-9 12h13m-11 2h13m-10 32h13m-9-10h13m-8-97h13m-9 18h13m-11-2h13m-12-27h13m-13 81h13m-7-103h13m-9 134h13m-5-35h13m-11 53h13m-11-47h13m-12 65h13m-10 15h13m-10-30h13m-6-66h13m-6-14h13m-9-143h13m-7-45h13m13 69h13m30 177h13m10-275h13m-9 54h13m-11 58h13m-10 115h13m-2 105h13m9-210h13m-8 71h13m-4-52h13m-7-91h13m1 237h13m-8-222h13m-6 121h13m27-96h13m16 79h13m13-12h13m56-98h13m8 40h13"/>
<path transform="scale(.1)" stroke="#f0a0a0" stroke-width="13" fill="none" d="M914 2815h13m-5-43h13m3-55h13m0-2h13m2 92h13m14-128h13m-7 163h13m-10-35h13m-11-118h13m-3-40h13m4 107h13m4-83h13m-8-7h13m1 59h13m-13 155h13m-12-69h13m-10-78h13m22 80h13m-2-66h13m-8 32h13m9-22h13m0 5h13m6-33h13m25 132h13m13-99h13m-12 23h13m0-75h13m-2 99h13m-1-23h13m-5-115h13m-11-17h13m52-27h13m-9 71h13m26-60h13"/>
<path transform="scale(.1)" stroke="#f08c8c" stroke-width="13" fill="none" d="M955 2879h13m14-122h13m55-97h13m112 74h13m7-32h13m69 41h13"/>
<path transform="scale(.1)" stroke="#f07850" stroke-width="13" fill="none" d="M974 2890h13m-8-185h13m-3 10h13"/>
<path transform="scale(.1)" stroke="#f08c64" stroke-width="13" fill="none" d="M906 2839h13m11-50h13m2 50h13m-9-106h13"/>
<polygon points="207.4,214.3 216.8,213.9 224.7,217 232.6,218.5 238.8,221.9 243.5,231.4 243.5,239.3 237.3,245.6 227.8,250.6 226.4,255.3 230.2,260.6 227.8,264.5 220,269.4 215.3,275.8 209,283.6 201.2,288.7 193.3,289.2 185.4,286.8 185.4,263.1 190.1,256.8 197.1,253.4 200,251.7 196.2,249 193.3,245.6 191,236.1 193.3,226.6 199.6,218.7" fill="#f3e7ec"/>
<path transform="scale(.1)" stroke="#f0c8c8" stroke-width="13" fill="none" d="M1872 2674h13m-1 117h13m-3-76h13m-9-350h13m2 318h13m-9-50h13m-9-331h13m-13 44h13m-12 31h13m-8 506h13m9-419h13m-10 79h13m-11 246h13m-12 9h13m-9-1h13m-10-9h13m-10-376h13m-12 61h13m-12 365h13m-12-532h13m-8-69h13m-12 227h13m-12 405h13m-4-661h13m-12 277h13m-11-159h13m-9 128h13m-12-113h13m-13 503h13m-7-171h13m-11-234h13m-10 339h13m-10-456h13m-10-56h13m-9 77h13m-4 49h13m-11 67h13m-13 229h13m-11 81h13m-12-542h13m-12 637h13m-10-633h13m-9-52h13m-10 638h13m-4-554h13m-13 71h13m-12 439h13m-11 74h13m-4-612h13m-13 560h13m-11-469h13m-11-41h13m-12 114h13m-12-194h13m-13 249h13m-8-108h13m-13 419h13m-8-459h13m-12 346h13m-13 66h13m-12-229h13m-7 133h13m-11-326h13m-13 53h13m-11-83h13m-12 17h13m-6-64h13m-13 129h13m-2-171h13m-11 18h13m-10 22h13m-11-41h13m-12 196h13m-9 325h13m-6 16h13m-8-252h13m-10 315h13m-12-588h13m-12 57h13m-13 130h13m-6-205h13m-13 90h13m-13 353h13m-11-171h13m-13 328h13m-12-607h13m-9 143h13m-4-164h13m-13 478h13m-6-397h13m-13 460h13m-8-267h13m-8 269h13m-12-438h13m-9 101h13m-10 67h13m-3-14h13m6 39h13m14-97h13m4-168h13m-11 235h13m18 212h13"/>
<path transform="scale(.1)" stroke="#f0b4a0" stroke-width="13" fill="none" d="M1918 2347h13m-11-23h13m-2 67h13m3-63h13m-13 28h13m-9 54h13m-12-187h13m-2-11h13m-5 15h13m-13 40h13m-11 79h13m-8 47h13m-12-139h13m-9 30h13m1-105h13m-13 34h13m-12 47h13m-5 65h13m-13 120h13m-10-91h13m-6 84h13m-2-193h13m-12-68h13m-10 282h13m-4-310h13m-13 71h13m-12-68h13m-13 67h13m-11 87h13m-10-61h13m-11 24h13m-13 84h13m-12 44h13m-12-127h13m-7-55h13m-9 34h13m-5 67h13m-12-57h13m-8-10h13m-9 62h13m-11 83h13m-3-229h13m-6 219h13m-9 27h13m-11-260h13m-8 328h13m-12-248h13m-6 167h13m-10-96h13m-11 24h13m-8-175h13m-13 216h13m-9-184h13m-3 101h13m-12 174h13m-8-242h13m-13 188h13m-6-219h13m-7 224h13m-3-236h13m-2-15h13m-5 276h13m-4 49h13m10-209h13m5-10h13m-7 88h13m-3-163h13"/>
<path transform="scale(.1)" stroke="#f0dcdc" stroke-width="13" fill="none" d="M1813 2659h13m25-7h13m7-22h13m-1 83h13m-2 41h13m-11-108h13m1-332h13m-12 502h13m-1-72h13m-12-288h13m-9-187h13m-7 617h13m-10-547h13m-12 43h13m-12-59h13m-10-92h13m-9 153h13m-9-62h13m-7 491h13m-11-224h13m-13 16h13m-8-357h13m-5 397h13m-13 167h13m-7 20h13m-6-444h13m-9 87h13m-9-266h13m-11 640h13m-12-524h13m-13 502h13m-12-570h13m-13 375h13m-5 261h13m-12-688h13m-12 519h13m-13 114h13m-11-506h13m-9 505h13m-11-81h13m-12-416h13m-11 273h13m-13 198h13m-9-84h13m-11-524h13m-13 249h13m-8-15h13m-9-73h13m-9-151h13m-13 44h13m2 476h13m-2-315h13m-10 225h13m-6-486h13m-9 226h13m-6-212h13m-11 128h13m-10 356h13m-9-250h13m-13 224h13m-13 94h13m-5-550h13m-13 99h13m-11 530h13m-12-606h13m-10 523h13m-8-281h13m-11 19h13m-5-54h13m-13 198h13m-11-225h13m-8-91h13m-11 403h13m-11-359h13m-6-79h13m-4 416h13m-7-360h13m-11 327h13m-8-363h13m-13 119h13m-6-15h13m-11 83h13m-9-223h13m-13 254h13m-12-238h13m-10 189h13m2-223h13m-13 391h13m-3-167h13m-11 162h13m-9 16h13m-4 38h13m3-180h13m-4-28h13m23 170h13m-5 8h13"/>
<path transform="scale(.1)" stroke="#dcdcf0" stroke-width="13" fill="none" d="M1733 2749h13m1 23h13m-10-45h13m-12 41h13m-12-11h13m1-37h13m-13 70h13m3-94h13m-12 14h13m-9 72h13m-12 66h13m-11-23h13m-11-135h13m-8-12h13m-7 47h13m-11-24h13m-6 50h13m-11 89h13m-10-108h13m-9 9h13m-9 130h13m-11-128h13m-12-24h13m-12-28h13m-11-40h13m-12 212h13m-11-69h13m-12-81h13m-11-53h13m-6 130h13m-13 50h13m-6-35h13m-6 12h13m-13 40h13m-8-61h13m-13 18h13m-3 36h13m-8-58h13m0-3h13m-8 100h13m-12-258h13m-7 57h13m-8 208h13m-7-6h13m-12-249h13m-11-19h13m-9 97h13m-7-168h13m-13 202h13m-8-13h13m-10 58h13m-13 39h13m-11 46h13m-10-219h13m-13 199h13m0-211h13m-12 242h13m-6 7h13m-8-250h13m-13 96h13m-11-152h13m-10 209h13m-10-105h13m-10-81h13m-10 197h13m-11-320h13m-13 17h13m-8 267h13m-11-253h13m-13 120h13m-12 151h13m-8-253h13m-13 58h13m-11 76h13m-11-174h13m-13 34h13m-10 32h13m-13 224h13m-4-131h13m-12 74h13m-9 19h13m-11-164h13m-12-20h13m-11 100h13m-11-87h13m-10-30h13m-11 21h13m-11 214h13m-12-2h13m-12-86h13m-12-204h13m-12 66h13m-13 175h13m-12-127h13m-11-12h13m-6 33h13m-12-86h13m-12-50h13m-11 147h13m-5-111h13m-12 37h13m-9 274h13m-11-336h13m-13 187h13m-11-74h13m-12-41h13m-12 58h13m-6-70h13m-13 16h13m-12-55h13m-13 271h13m-9-256h13m-9-12h13m-13 90h13m-12 188h13m-11 17h13m-7-296h13m-8 105h13m-10-135h13m-12 212h13m-10 88h13m-7-239h13m-11 186h13m-8-130h13m-10-40h13m-12 128h13m-13 2h13m-11-158h13m-10 32h13m-12 41h13m-8-37h13m-4-46h13m-9 18h13m-8 185h13m-10-173h13m-13 21h13m-13 72h13m-3-137h13m-9-26h13m-11 144h13m-12-136h13m-13 122h13m-3-304h13m-13 82h13m-12 309h13m-11-511h13m-11 100h13m-11 92h13m-13 140h13m-12-358h13m-13 242h13m-11-132h13m-13 69h13m-13 266h13m-11-264h13m-13 16h13m-13 233h13m-12-44h13m-12-12h13m-13 45h13m-10-246h13m-12-25h13m-10-70h13m-13 134h13m-12-246h13m-11 439h13m-13 9h13m-10-48h13m-11-185h13m-9-85h13m-12 147h13m-12-215h13m-13 60h13m-13 17h13m-6 264h13m-11-122h13m-13 43h13m-13 146h13m-7-411h13m-10 236h13m-12-212h13m-13 15h13m-12 214h13m-12-193h13m-13 229h13m-6-92h13m-11 164h13m-13 11h13m-12-283h13m-12-57h13m-13 181h13m-12-139h13m-11-48h13m-8 308h13m-13 23h13m-10-67h13m-12 52h13m-11-252h13m-10-82h13m-13 48h13m-13 50h13m-12 84h13m-10-190h13m-13 377h13m-12-323h13m-10 158h13m-13 233h13m-12-27h13m-11-348h13m-13 210h13m-12 6h13m-12-253h13m-13 272h13m-11-193h13m-13 15h13m-13 71h13m-12-106h13m-5 118h13m-11 66h13m-12-151h13m-12 6h13m-12-74h13m-11-28h13m-13 122h13m-9-178h13m-13 208h13m-13 71h13m-11-233h13m-10 122h13m-13 20h13m-10-111h13m-12-54h13m-11 247h13m-7-98h13m-10 91h13m-12-20h13m-11-82h13m-10 108h13m-7-201h13m-13 78h13m-11 48h13m-11-127h13m-13 139h13m-11 79h13m-12-214h13m-7-19h13m-10 62h13m-13 71h13m-10-9h13m-11-146h13m-13 220h13m-8-30h13m-12-8h13m-11-66h13m-12 103h13m-11-204h13m-6 31h13m-7 201h13m1-124h13m-11 51h13m-10-36h13m-13 86h13m-12-78h13m-11-3h13m-10 52h13m6-126h13m-13 13h13m-13 119h13m-10-111h13m4 8h13m-12 47h13"/>
<path transform="scale(.1)" stroke="#f0f0f0" stroke-width="13" fill="none" d="M1749 2800h13m-2-52h13m-4 17h13m-12-39h13m-2-16h13m-4 74h13m1 57h13m-9-133h13m-7 15h13m-13 1h13m-13 83h13m-11 34h13m-8-145h13m-10 96h13m-10-28h13m-8 4h13m-13 41h13m-12-108h13m-13 161h13m-12-153h13m-13 1h13m-11 139h13m-12-111h13m-10 73h13m-10 19h13m-12 28h13m-11-95h13m-10 104h13m-4-49h13m-12-51h13m-11 41h13m-10 4h13m-13 20h13m-12 8h13m-11-228h13m-13 117h13m-12-40h13m-9 166h13m-11-74h13m-12-57h13m-11 103h13m-10-14h13m-9-63h13m-6-161h13m-11 272h13m3-158h13m-13 154h13m-7-93h13m-10 138h13m-11-199h13m6 114h13m-7-223h13m-12 249h13m5-266h13m-12-78h13m-10 310h13m-7-314h13m-11 300h13m-11 8h13m-12-87h13m-5-125h13m-11 271h13m-12-356h13m-13 298h13m-5-104h13m-13 126h13m-13 55h13m-12-68h13m-12-11h13m-12-271h13m-12 158h13m-7-139h13m-8-52h13m-12 262h13m-13 19h13m-12-64h13m-11-164h13m-10 314h13m-4-6h13m-5-207h13m-10 111h13m-12-244h13m-9 77h13m-11 156h13m-11 0h13m-12 101h13m-3-87h13m-13 90h13m-3-132h13m-8-168h13m-5-53h13m-13 39h13m-11 22h13m-13 24h13m-11 226h13m-7-261h13m-11 56h13m-13 78h13m-5-101h13m-11 196h13m-12-272h13m-12 210h13m-12-180h13m-13 141h13m-12-128h13m-11 49h13m-12 20h13m-12 86h13m-12-209h13m-11 40h13m-11-1h13m-13 23h13m-13 72h13m-11 90h13m-12-184h13m-12-26h13m-11 148h13m-10-168h13m-5 16h13m-10 173h13m-12 84h13m-10-58h13m-11-46h13m-11-116h13m-12 3h13m-10 45h13m-13 98h13m-11 40h13m-8 2h13m-10-117h13m-8-58h13m-13 95h13m6-115h13m-8-360h13m-10 164h13m-13 156h13m-12-143h13m-12-80h13m-11 361h13m-11-87h13m-12-203h13m-10-10h13m-12 316h13m-11 15h13m-12-438h13m-13 84h13m-13 370h13m-10-273h13m-6-159h13m-6-51h13m-9 356h13m-11-260h13m-11 292h13m-6 25h13m-12-302h13m-13 239h13m-13 98h13m-11-291h13m-12 271h13m-11-296h13m-12 102h13m-11 171h13m-11-166h13m-13 132h13m-12-119h13m-11 79h13m-11-2h13m-7 71h13m-13 34h13m-9-52h13m-12 42h13m-9-43h13m-11-11h13m-13 60h13m-10-131h13m-2-111h13m-7 31h13m-10-232h13m-13 151h13m-10-29h13m-7-117h13m-12 222h13m-11 2h13m-5 60h13m-8-56h13m-10-126h13m-13 25h13m-9 51h13m-9 72h13m-11-103h13m0-29h13m-12 145h13m-11-49h13m-4 25h13m-7-189h13m-12 147h13m-2 8h13m3-108h13m-12 99h13m-9-93h13m-3 56h13m14 43h13"/>
<path transform="scale(.1)" stroke="#f0dcc8" stroke-width="13" fill="none" d="M1851 2623h13m24 15h13m4 208h13m-9-268h13m-13 259h13m-12-513h13m-7 538h13m-6-412h13m-12 171h13m-9-181h13m4-92h13m-6-66h13m-6 544h13m-8-611h13m-10 136h13m-2 142h13m-8 326h13m-11-475h13m-10-89h13m-10 355h13m-9-220h13m-12-12h13m-10-188h13m-13 106h13m-10-69h13m-12 64h13m-12 470h13m-12-302h13m-10 3h13m-6-169h13m-9 194h13m7-170h13m-12-108h13m-7 504h13m-7-453h13m1 55h13m-12-91h13m-13 56h13m-12 566h13m-12-220h13m-12-316h13m-5 495h13m5-504h13m-12-19h13m-12-125h13m-5 178h13m-12-140h13m-12 611h13m-11-553h13m-11 13h13m-3-28h13m-4 398h13m-4-249h13m-7-99h13m-3-60h13m-11 102h13m-7-170h13m-13 98h13m-13 410h13m-7-405h13m-5 37h13m-9 415h13m-7-463h13m8 2h13m-12-6h13m4 169h13"/>
<path transform="scale(.1)" stroke="#c8c8dc" stroke-width="13" fill="none" d="M1743 2778h13m32 43h13m6-31h13m2-79h13m9 105h13m-6 2h13m42-206h13m-5-49h13m-13 191h13m5 96h13m11-113h13m-12-244h13m-4 190h13m-12 199h13m20-110h13m-10-171h13m-12 104h13m-6-158h13m-13 35h13m2 51h13m-13 18h13m-9-129h13m-4 193h13m-12 57h13m-5-60h13m38-1h13m-6 6h13m1-23h13m-8-110h13m-13 156h13m-3 24h13m-12-22h13m25-71h13m-7-66h13m0-147h13m-4-141h13m-9-27h13m-12 244h13m-5-357h13m-8 139h13m14-27h13m2 165h13m-10 149h13m-10-400h13m-8 175h13m-11-10h13m-12-137h13m-13 134h13m-10-176h13m-12 157h13m13-119h13m4 66h13m-13 114h13m-12-118h13m3 97h13m-5 63h13m-8-226h13m-1 166h13m7-68h13m5 69h13m3-38h13m-9 12h13m-8-73h13"/>
<path transform="scale(.1)" stroke="#b4b4dc" stroke-width="13" fill="none" d="M2270 2352h13m-9-76h13m0 62h13m-10 98h13m7-66h13m4 47h13m4-7h13m-8 41h13m-7-192h13m4 130h13m-10-84h13m-11 60h13m-1-116h13"/>
<path transform="scale(.1)" stroke="#c8c8f0" stroke-width="13" fill="none" d="M1750 2750h13m-9 54h13m-3-33h13m-8-13h13m0-66h13m3 94h13m-12-25h13m-5 29h13m-11 35h13m-2-22h13m-11-14h13m13 32h13m19 60h13m7-14h13m6-210h13m-4-106h13m4 230h13m14-74h13m2 184h13m-10-206h13m-12 114h13m-11-284h13m-12 246h13m-4 108h13m-7-27h13m-9-231h13m-9 258h13m-9-275h13m-5 282h13m-9-380h13m-13 30h13m-8 86h13m-13 82h13m-13 168h13m-12-226h13m-10-67h13m-5 293h13m-10-134h13m-8 44h13m-9-180h13m-4-40h13m-7 163h13m-10 125h13m-13 2h13m-10-287h13m-7 0h13m-13 27h13m-10 1h13m-2 10h13m-12-9h13m-4-53h13m-11 175h13m-9-211h13m-13 174h13m-7-56h13m-11 157h13m-7-192h13m-11 152h13m-10-221h13m-11 91h13m-12-39h13m-6 87h13m-9 0h13m0-113h13m-7 187h13m-6-198h13m-11 58h13m-12-57h13m-11-365h13m-11 137h13m-6 92h13m-9-145h13m-10 432h13m-12-233h13m-10-284h13m-11 197h13m-12-99h13m-13 283h13m-8-240h13m-11 233h13m-13 79h13m-12-366h13m-13 408h13m-12-197h13m-5 66h13m-11 78h13m-9-219h13m-10 274h13m-11-157h13m-10-187h13m-12-30h13m-10 219h13m-10-332h13m-13 235h13m-12 165h13m-9-182h13m-12 183h13m-9-82h13m-11-152h13m-13 207h13m-11-93h13m-10 11h13m-5-214h13m-13 45h13m-9 85h13m-13 42h13m-11 224h13m-12-414h13m-12 150h13m-11-15h13m-12-61h13m-10 36h13m-6-150h13m-13 119h13m-4 136h13m-9-60h13m-9-137h13m-13 225h13m-12-201h13m-9 57h13m-10-110h13m-11 121h13m-7 22h13m-13 85h13m-2-254h13m-9 127h13m-9-50h13m14 40h13m-10 83h13m-7-100h13m-8-87h13m-13 239h13m-10-59h13m-13 56h13m-5-127h13m-8-83h13m-13 189h13m-10-100h13m7-32h13m-12 95h13"/>
<path transform="scale(.1)" stroke="#dcc8f0" stroke-width="13" fill="none" d="M1744 2791h13m-9-5h13m4 23h13m-3-15h13m-10-36h13m0 9h13m7 45h13m-10 14h13m-8-25h13m-11-115h13m-6 49h13m-13 36h13m-12 4h13m-1-5h13m-12-4h13m-6-39h13m-11 75h13m-12-54h13m-11 13h13m-8 23h13m-10 59h13m-9-33h13m-9-71h13m-11 24h13m-12 31h13m-11-37h13m-8-74h13m-7 187h13m-4-22h13m-2 32h13m-7-300h13m1 297h13m-8 20h13m-11-328h13m-12 71h13m-10 137h13m-4-199h13m-6 51h13m-12 128h13m-5-199h13m-12 136h13m4 105h13m-12-223h13m-12-25h13m-11 246h13m7 47h13m-3-352h13m-5 150h13m9-123h13m-4 91h13m-3 107h13m-13 27h13m-11-201h13m-12 139h13m-8-135h13m-9-52h13m-13 12h13m-9 99h13m5 2h13m-7-12h13m3-50h13m-5 171h13m-11-145h13m16 16h13m5-76h13m-4-231h13m-12 146h13m-13 71h13m-13 47h13m-3-232h13m-13 298h13m-11-332h13m-5 242h13m-10-11h13m-8-259h13m-10 263h13m-2 8h13m-10-73h13m-3 69h13m-10-13h13m-6-29h13m5-268h13m-11 94h13m-12 287h13m-12 1h13m-8-313h13m-9 179h13m-12-101h13m-11-89h13m-2 15h13m-12 328h13m-12-260h13m-13 74h13m-5-212h13m-10 118h13m-4-66h13m-4 215h13m-11-22h13m-5-131h13m-7-134h13m-6 188h13m-6-87h13m-10 34h13m4-62h13m-9 141h13m-9-24h13m-12-106h13m-10 33h13m-5 111h13m-11-27h13m8-20h13m-7 14h13"/>
<path transform="scale(.1)" stroke="#f0b4b4" stroke-width="13" fill="none" d="M1805 2679h13m51 179h13m-8-137h13m12 125h13m-10-506h13m2 56h13m-12 51h13m-6-156h13m-13 496h13m-6-151h13m-6 130h13m-8-449h13m-9 428h13m-12-309h13m-7-144h13m-11 109h13m-11-168h13m-11 308h13m-12-291h13m-13 428h13m-7-461h13m-12-17h13m-12-4h13m-13 172h13m-13 306h13m-9-22h13m-7-181h13m-12-130h13m-13 133h13m-13 129h13m-11-132h13m-10-75h13m-6 292h13m-11-472h13m-9-5h13m-12 516h13m-8-116h13m-10-214h13m-10 62h13m-12-253h13m-13 77h13m-8-77h13m-8 46h13m-8 9h13m-9 502h13m5-340h13m-11-48h13m-10 335h13m-13 23h13m-10-274h13m-12-110h13m-13 27h13m-10-150h13m-8 206h13m-11 49h13m-7-280h13m-8 108h13m-12-111h13m-11 519h13m-11-279h13m-12 393h13m-9-437h13m-12-89h13m-5 432h13m-8-108h13m1 48h13m-12-494h13m-12 483h13m-12-324h13m-11 351h13m-4 27h13m-10-448h13m-12-120h13m-6 296h13m-7-245h13m-11 548h13m-12-277h13m-5 198h13m-8-235h13m-10 301h13m-3-303h13m-8-31h13m-12-217h13m-9 456h13m3-165h13m-8 140h13m-11-290h13m-2-35h13m-4 196h13m-3 145h13m-7-431h13m-3 231h13m9 184h13"/>
<path transform="scale(.1)" stroke="#f0dcf0" stroke-width="13" fill="none" d="M1759 2740h13m6-1h13m-4 22h13m-11 7h13m-4-71h13m-12 82h13m-1-41h13m-9 0h13m-2-91h13m5 1h13m-5 54h13m-7 139h13m-11-81h13m12-66h13m5 78h13m13-205h13m-8 301h13m-1-222h13m-10 149h13m1 75h13m-12-199h13m-2 54h13m13-222h13m-12 113h13m-1-42h13m-9 309h13m-1-43h13m-12 29h13m1-277h13m-10-23h13m-9-14h13m-13 94h13m-3-144h13m-12 266h13m-9 73h13m19-342h13m-13 31h13m-4 112h13m-13 152h13m-3-218h13m-10 164h13m-12 48h13m-11-182h13m-8 71h13m7-63h13m-12-94h13m16-33h13m-1 72h13m-1-299h13m-7 246h13m2-190h13m-9 182h13m-4-298h13m35 9h13m-13 95h13m-3 147h13m-8-201h13m15 143h13m-11-57h13m5 127h13m-11-104h13m7-36h13m12-61h13m-7 49h13m6-14h13m-5 30h13"/>
<path transform="scale(.1)" stroke="#c8b4dc" stroke-width="13" fill="none" d="M1839 2664h13m46 87h13m-7 120h13m-9-231h13m-5 72h13m10 94h13m-12-119h13m1 115h13m11-10h13m-7 63h13m-7-181h13m14 129h13m-11-129h13m-3 167h13m-6-62h13m-9-102h13m0 105h13m44-16h13m7-93h13m79-7h13m14-65h13m-4 12h13m-11-380h13m-8 78h13m-13 142h13m-12-152h13m-13 91h13m-10-196h13m-8 250h13m-4-104h13m-11 158h13m-5-289h13m-13 0h13m-12 162h13m-7-121h13m-7 2h13m-3 162h13m-11 42h13m-12-244h13m-8 15h13m-10 149h13m-11 44h13m-10-105h13m-11 106h13m-11-32h13m-12-172h13m-11 88h13m-6 46h13m-11-99h13m-5-30h13m-7 190h13m-12-81h13m-7-46h13m-4-61h13m-10-8h13m-13 28h13m-6-4h13m-13 52h13m-8-48h13m-13 2h13m9 29h13m-9 59h13m-9-26h13m-8 24h13m-13 64h13"/>
<path transform="scale(.1)" stroke="#f0a0a0" stroke-width="13" fill="none" d="M1916 2410h13m28-174h13m17 97h13m-10-74h13m-9-51h13m-12 268h13m-7-10h13m-2-115h13m-6-37h13m-4 70h13m-12-131h13m-12 100h13m2 81h13m-9 2h13m-10-126h13m-11 23h13m-4-134h13m-5 13h13m-12 127h13m-11-186h13m-11 206h13m-3-194h13m-13 292h13m-5-321h13m-6 192h13m-2-163h13m-12 155h13m15-2h13m0 154h13m1-73h13m-12 26h13m-12-140h13m-10 54h13m-11-190h13m8 107h13m-7-44h13m1 21h13m-12-35h13m-11-27h13m-13 3h13"/>
<path transform="scale(.1)" stroke="#f0c8b4" stroke-width="13" fill="none" d="M1843 2674h13m-4-15h13m16 234h13m-12 1h13m-5-34h13m-2-518h13m-13 319h13m-5-349h13m-12 358h13m-12-29h13m-9-321h13m-8 479h13m-4-247h13m-7-275h13m-11 427h13m-10 132h13m-5-470h13m-13 29h13m-12 451h13m-13 15h13m-11-516h13m-13 448h13m-8-381h13m-9 330h13m-5-193h13m-12-318h13m-12 45h13m-12 479h13m-10-427h13m-8-66h13m-5 77h13m-10 24h13m-10-54h13m-9 297h13m-12-139h13m-12 251h13m-12 162h13m-11-667h13m-10 254h13m-12 204h13m-13 58h13m-12-293h13m-12-48h13m-12-94h13m-9 76h13m-12-72h13m-11 60h13m-8 46h13m-12 20h13m-10 425h13m-12-107h13m-12-446h13m-6 375h13m-12 195h13m-11-466h13m-11-56h13m-13 258h13m-12-454h13m-12 106h13m-12 150h13m-12-122h13m-7-91h13m-12 417h13m-9-273h13m-13 273h13m-12 106h13m-12-524h13m-8 160h13m-9 82h13m-12 184h13m-13 147h13m-11-520h13m-13 541h13m-11-346h13m-12 322h13m-12-553h13m-11 597h13m-9-378h13m-12-236h13m-13 636h13m-10-162h13m-11-285h13m-12-36h13m-9 95h13m-12 37h13m-12-298h13m-12 243h13m-9-109h13m-7 290h13m-12-228h13m-12-136h13m-9 41h13m-5 49h13m-10-97h13m-13 415h13m-7-343h13m-10 335h13m-4-25h13m-7-204h13m-12-190h13m-13 458h13m-9-411h13m-11 407h13m-5-346h13m-7 27h13m-12-48h13m-4 407h13m-12-291h13m-7-11h13m-2-140h13m-13 362h13m-1-483h13m6 503h13m-12-232h13m-11 251h13m-9-253h13m-8 218h13m-9-283h13m-5 295h13m-10-298h13m6 260h13m-2-3h13m1 10h13"/>
<path transform="scale(.1)" stroke="#f0a08c" stroke-width="13" fill="none" d="M1923 2320h13m0 29h13m-8 75h13m3-100h13m-3-2h13m-10 2h13m-13 121h13m18-220h13m-8-53h13m-12 236h13m-9-15h13m-3-140h13m-3-64h13m8-43h13m-8 5h13m2 149h13m-9 152h13m-11-55h13m15 65h13m1-91h13m-10-126h13m-2 101h13m-2-82h13m-7-17h13m-9-42h13m-8 111h13m-5 154h13m-10-204h13m-12 134h13m-10 1h13m-10 18h13m33-69h13m-11 92h13"/>
<path transform="scale(.1)" stroke="#fff0dc" stroke-width="13" fill="none" d="M1892 2675h13m-2 115h13m2-61h13m-7 5h13m-11-387h13m-10 18h13m-8 236h13m-11 235h13m-3-134h13m-5-233h13m3 293h13m-9-418h13m-12 82h13m-4 213h13m-9-5h13m-9 68h13m-10-320h13m-7 76h13m-13 193h13m-4-198h13m-13 332h13m7 33h13m-4-562h13m-13 14h13m-11-52h13m-13 241h13m-11-248h13m23-61h13m-9 191h13m-7 317h13m-11-459h13m-5 251h13m-5-87h13m-13 20h13m-2 320h13m-11 75h13m-11-397h13m-7-20h13m-2-90h13m-11-90h13m-10 528h13m-5-99h13m-9-345h13m6-60h13m-10 440h13m1-354h13m-12-61h13m7 420h13m0-411h13m0 139h13m15 255h13"/>
<path transform="scale(.1)" stroke="#ffdcdc" stroke-width="13" fill="none" d="M1867 2626h13m18 131h13m3 46h13m-1-526h13m-11-14h13m15 582h13m5 35h13m-1-152h13m-11-253h13m-5 164h13m-11-445h13m-11 155h13m-12 78h13m-7-102h13m-1 308h13m-11-220h13m-5 312h13m-13 74h13m-2-653h13m-5 96h13m-3-31h13m-6 220h13m-7 410h13m-7-467h13m-12 237h13m-10-247h13m1 43h13m-10-74h13m-9 61h13m-6-46h13m-10-213h13m-6 276h13m-4 34h13m-2-86h13m-7 61h13m0-266h13m-12 326h13m-5-17h13m0-218h13m-8 456h13m-8-464h13m-13 214h13m-2-115h13m26 320h13"/>
<path transform="scale(.1)" stroke="#fff0f0" stroke-width="13" fill="none" d="M1802 2676h13m31-53h13m3-5h13m4 216h13m-9 59h13m0-180h13m-10 20h13m-10-72h13m6 170h13m-6 11h13m-8-40h13m1 60h13m-10-26h13m19-135h13m-7 14h13m-9 130h13m-8-196h13m-12-340h13m-3 495h13m13-555h13m-12 53h13m-6 64h13m9 260h13m1 207h13m17-82h13m-10-20h13m-6-600h13m-4 38h13m2 434h13m19 105h13m24-98h13m19 55h13"/>
<polygon points="291.2,215.3 300.6,214.9 308.5,218 316.4,219.5 322.6,222.9 327.3,232.4 327.3,240.3 321.1,246.6 311.6,251.6 310.2,256.3 314,261.6 311.6,265.5 303.8,270.4 299.1,276.8 292.8,284.6 285,289.7 277.1,290.2 269.2,287.8 269.2,264.1 273.9,257.8 280.9,254.4 283.8,252.7 280,250 277.1,246.6 274.8,237.1 277.1,227.6 283.4,219.7" fill="#f8ebea"/>
<path transform="scale(.1)" stroke="#f0f0f0" stroke-width="13" fill="none" d="M2647 2689h13m0 0h13m-1-4h13m-8-20h13m-3 18h13m-4-9h13m-12-6h13m-11-32h13m-10-23h13m0 100h13m-5 48h13m-11-58h13m-13 106h13m-8 57h13m-9-219h13m-13 95h13m-7 49h13m-12-172h13m-11 153h13m-11-408h13m-13 505h13m-12-471h13m-13 254h13m-12 188h13m-13 58h13m-12-131h13m-13 30h13m-9-427h13m-13 46h13m-13 347h13m-11-454h13m-11 59h13m-12-20h13m-12 64h13m-11-107h13m-13 554h13m-12 35h13m-10-556h13m-12 384h13m-11-124h13m-12-238h13m-11-25h13m-11 5h13m-13 74h13m-12 447h13m-12-54h13m-12-133h13m-12-390h13m-11 130h13m-13 32h13m-10-72h13m-11 59h13m-13 242h13m-12-405h13m-12-2h13m-13 10h13m-10-30h13m-12 473h13m-12 19h13m-13 26h13m-12-462h13m-13 67h13m-11-140h13m-12 40h13m-13 34h13m-13 489h13m-11-424h13m-12 8h13m-11 273h13m-12-22h13m-12-76h13m-11-122h13m-12-1h13m-13 190h13m-13 118h13m-11 19h13m-11-444h13m-13 201h13m-11 116h13m-11-413h13m-13 594h13m-11-174h13m-12-413h13m-13 87h13m-13 258h13m-12-365h13m-13 49h13m-12 17h13m-12 373h13m-12-415h13m-13 264h13m-13 266h13m-11-565h13m-13 515h13m-12 84h13m-11-490h13m-12 490h13m-11-557h13m-13 136h13m-13 310h13m-12-197h13m-12-265h13m-12-21h13m-13 510h13m-12-480h13m-13 242h13m-13 204h13m-11-344h13m-13 95h13m-12-73h13m-12 106h13m-12 279h13m-11-534h13m-13 51h13m-12 181h13m-10-5h13m-13 196h13m-12 64h13m-11-484h13m-12 3h13m-13 16h13m-13 409h13m-12-164h13m-12-170h13m-13 26h13m-13 328h13m-11-237h13m-12-87h13m-13 25h13m-13 346h13m-12-384h13m-13 53h13m-11-108h13m-13 188h13m-13 12h13m-12-181h13m-13 7h13m-13 337h13m-13 20h13m-13 8h13m-12-435h13m-12 92h13m-13 327h13m-10-444h13m-13 191h13m-12-88h13m-12 18h13m-12 67h13m-11-48h13m-13 166h13m-12-328h13m-13 533h13m-12-538h13m-12 251h13m-13 32h13m-9-288h13m-13 187h13m-13 3h13m-12 117h13m-12-101h13m-13 7h13m-13 325h13m-10-366h13m-13 128h13m-12-34h13m-12 39h13m-12-76h13m-13 252h13m-10-280h13m-11 35h13m-11-189h13m-13 164h13m-13 239h13m-11 48h13m-12-265h13m-13 281h13m-11-456h13m-13 50h13m-13 51h13m-13 80h13m-13 11h13m-12 14h13m-11 27h13m-12-200h13m-12 181h13m-13 225h13m-12 29h13m-11-451h13m-12-81h13m-13 236h13m-12 252h13m-12-476h13m-13 278h13m-12 208h13m-12-293h13m-10 253h13m-12-246h13m-12 118h13m-12-74h13m-13 86h13m-12-278h13m-11 130h13m-12 132h13m-11-174h13m-13 89h13m-13 26h13m-12-219h13m-13 262h13m-11-110h13m-12 49h13m-12-26h13m-12-25h13m-13 20h13m-12-21h13m-12-176h13m-12 178h13m-12-48h13m-12 49h13m-13 141h13m-10-259h13m-13 224h13m-12-215h13m-12-24h13m-13 204h13m-12-157h13m-10-8h13m-7 125h13m-12-203h13m-13 49h13m-13 151h13m-12-181h13m-11 38h13m-13 149h13m-13 100h13m-12-324h13m-12 14h13m-13 33h13m-12 285h13m-11-327h13m-12 13h13m-13 182h13m-10-12h13m-13 14h13m-11-141h13m-13 232h13m-9-231h13m-10-68h13m-13 17h13m-13 236h13m-9 73h13m-10-79h13m-11-211h13m-13 277h13m-9-331h13m-13 26h13m-12 127h13m-13 15h13m-13 183h13m-11-53h13m-11-132h13m-13 24h13m-13 123h13m-10-114h13m-11-30h13m-13 170h13m-12-137h13m-12-41h13m-13 86h13m-12 57h13m-12-241h13m-13 287h13m-12-110h13m-13 39h13m-11-190h13m-13 20h13m-11-66h13m-12 187h13m-13 2h13m-12-176h13m-12 237h13m-11 7h13m-11-28h13m-12 87h13m-11-143h13m-11 115h13m-12-153h13m-9-14h13m-12-105h13m-10 202h13m-12-121h13m-11 38h13m-13 11h13m-13 7h13m-12-68h13m-12 118h13m-11 51h13m-12 27h13m-11-19h13m-12-209h13m-13 117h13m-12-174h13m-11 230h13m-9-20h13m-10-234h13m-11 56h13m-12-33h13m-6 0h13m-13 177h13m-8-36h13m-8-153h13m-13 8h13m-13 48h13m-12-37h13m-12 67h13m-8 17h13m-13 76h13m-8-82h13m-8 48h13m-12 24h13m-10-58h13m-12-106h13m-13 177h13m-12-13h13m-10-141h13m-12 70h13m-13 29h13m-8 38h13m-12-11h13m-12 33h13m-12-157h13m-13 60h13m-13 103h13m-12-18h13"/>
<path transform="scale(.1)" stroke="#f0b4a0" stroke-width="13" fill="none" d="M2595 2737h13m-5 50h13m-5-62h13m-9 24h13m10-42h13m-4 14h13m-12-23h13m-10 111h13m3-50h13m9 76h13m-11-77h13m-13 61h13m-2-45h13m-11-58h13m81 180h13m6-391h13m-7 399h13m-12-67h13m-2 11h13m-13 57h13m-11-61h13m-11-32h13m8 4h13m3-30h13m-8-237h13m-11 54h13m-7-89h13m-8 35h13m-5 265h13m-4 40h13m-12-113h13m-12-7h13m-9-26h13m-8-16h13m-10-36h13m-12 167h13m-6-265h13m-13 77h13m-10-110h13m-8 28h13m-13 68h13m-11 153h13m-9 15h13m-10-71h13m-11-97h13m-10 159h13m-11 15h13m-9-88h13m-12 20h13m-9-123h13m-8 75h13m-12-177h13m-13 161h13m-8-109h13m-13 114h13m-10-8h13m-11 66h13m-8-91h13m-13 86h13m-7-181h13m-4 114h13m-10-13h13m-12 65h13m9-186h13m-11 61h13m-13 107h13m-12-141h13m2-89h13m-11-63h13m-9 211h13m-9-5h13m-10 17h13m-12-147h13m-9-5h13m-12-57h13m-13 121h13m-13 79h13m-10-141h13m-11 219h13m-9-248h13m-12 131h13m-9-101h13m-13 24h13m-6 85h13m-13 43h13m-12-163h13m-12 78h13m-8 37h13m-11-164h13m-11 24h13m-2 109h13m-12 74h13m-5-1h13m-7-396h13m-10-33h13m-12 453h13m-8-216h13m-10-230h13m-13 280h13m-12-130h13m-2-135h13m-13 90h13m-12 4h13m-12 131h13m-7-81h13m-11 51h13m-11-18h13m-11 10h13m-9 2h13m-9-121h13m-12 142h13m-11 42h13m-10-176h13m-12-71h13m-11 256h13m-10-15h13m-10-184h13m-12-61h13m-6 212h13m-7-64h13m-9 109h13m-8-9h13m6-177h13m-10 31h13m-10 75h13m-12 13h13m1-68h13m-12 50h13m-11-70h13m-11-4h13m1 27h13"/>
<path transform="scale(.1)" stroke="#f0c8b4" stroke-width="13" fill="none" d="M2597 2812h13m18-43h13m-9 53h13m-5 5h13m-11-139h13m-12 19h13m-9-7h13m-7 154h13m-10-80h13m-3-49h13m-13 154h13m-3-209h13m-10 120h13m-12 92h13m10-73h13m-6 63h13m-3-106h13m-9-74h13m-7 21h13m-13 81h13m-6-43h13m-10 35h13m-7 22h13m-3-227h13m-10 177h13m-12-150h13m-2 53h13m-11 133h13m-5 36h13m0-149h13m-5 168h13m-6-72h13m-10-98h13m-11-135h13m-9 261h13m-12-267h13m-9 354h13m-9-11h13m-12-276h13m-8 288h13m-12-364h13m-13 57h13m-13 140h13m-9-193h13m-1 275h13m-5-214h13m-13 165h13m-1 80h13m-12-117h13m-5-161h13m-9-19h13m-7 268h13m-13 34h13m-5-78h13m-11 71h13m-11-327h13m-11 90h13m-9 205h13m-12 23h13m-2-320h13m-10 26h13m-12 191h13m-10-201h13m-12 250h13m-4-81h13m-7-41h13m-12 126h13m-6-24h13m-11-54h13m0-50h13m-9 99h13m-8-43h13m13-69h13m-11-37h13m-10 136h13m-4-64h13m-11-157h13m-12 21h13m-6 170h13m-1-72h13m-13 57h13m-11-142h13m-12-94h13m-11-79h13m-10 0h13m-13 48h13m-6 270h13m-11-301h13m-12 99h13m-11-93h13m1 10h13m-8 100h13m-13 162h13m-10 0h13m-3-207h13m-12 158h13m-10-232h13m-9 134h13m-9-104h13m-11 232h13m-11-47h13m-10 17h13m-11-263h13m-10 92h13m-8-248h13m-13 8h13m-13 414h13m-12-110h13m-7-165h13m-6 62h13m-10-150h13m-9 82h13m-11 66h13m-11 69h13m-12-105h13m-12-31h13m-13 64h13m-12-171h13m-11 37h13m-9 78h13m-9-67h13m-8 71h13m-8 24h13m-12 63h13m-7-240h13m-8 252h13m-10-112h13m-7 30h13m-12-29h13m6-27h13m-12 102h13m-6-31h13m-11-104h13m-9 146h13m-13 21h13m-11-198h13m-5 26h13m-4-37h13m-13 38h13m-5 5h13m-9 82h13m-12-77h13"/>
<path transform="scale(.1)" stroke="#f0c8c8" stroke-width="13" fill="none" d="M2662 2808h13m2-8h13m13-59h13m-8-47h13m-12-61h13m-13 30h13m-6-4h13m-9 191h13m-12-200h13m-11-28h13m-11 187h13m-9-21h13m-11-157h13m-10 269h13m-10-165h13m-5-135h13m6-6h13m-13 251h13m-10-256h13m-12 195h13m-12-149h13m-10 42h13m-3 196h13m-11-212h13m-9 218h13m-11-183h13m-11-104h13m-13 101h13m-4-144h13m-13 72h13m-13 102h13m-12 126h13m-8-49h13m-12-292h13m-10 36h13m-10 230h13m-11-258h13m-12 371h13m1-199h13m-13 26h13m-6 151h13m-12-326h13m-11 330h13m-8-345h13m-10 101h13m-5 32h13m-10 78h13m-13 53h13m-10-241h13m-13 27h13m-12 310h13m-11-295h13m-6 246h13m-10-262h13m-7 32h13m1 257h13m-8-323h13m-10 277h13m-10-141h13m-11-117h13m-13 56h13m-12 173h13m-2-146h13m-12 119h13m-12 82h13m-12-136h13m-7-171h13m-13 62h13m-12 128h13m-13 101h13m-12-281h13m-3 106h13m-10 0h13m-12-115h13m-10 219h13m0-198h13m-7 78h13m-12 125h13m-12-146h13m-13 142h13m-1-161h13m-13 26h13m-11 99h13m-9-102h13m-13 26h13m-8 37h13m-12 30h13m-12-31h13m-7-51h13m-10 11h13m-9 66h13m-4-102h13m-12-103h13m7-36h13m-6 203h13m-11-110h13m-10 117h13m-9-242h13m-8 88h13m-10 152h13m-12-99h13m-1-135h13m-11 68h13m-5 32h13m-10 124h13m-11-32h13m-8-120h13m-12-94h13m-13 87h13m-9-269h13m-5-15h13m-13 25h13m-12 104h13m-13 97h13m-5-32h13m-11 84h13m1-175h13m-10-131h13m-7 51h13m4 39h13m-8 96h13m-13 96h13m-11-211h13m-13 175h13m-9-77h13m3 13h13m-12-62h13m-13 4h13m-11 48h13m-9 77h13m-10 6h13m-11-216h13m-6 40h13m11-24h13m-13 32h13m-12 98h13m-1 13h13"/>
<path transform="scale(.1)" stroke="#f0b4b4" stroke-width="13" fill="none" d="M2678 2682h13m-7 14h13m-3 40h13m-12-117h13m-9 97h13m-6-78h13m-13 165h13m47 63h13m-10-44h13m7-214h13m-4 24h13m-8-46h13m7-9h13m30 240h13m-9-17h13m-12 13h13m-2-305h13m-13 72h13m-8 200h13m-13 17h13m-12-209h13m-1 15h13m-10-15h13m6 266h13m-12-120h13m1-217h13m2 70h13m-10 188h13m-4-237h13m-7 93h13m-13 129h13m-11-96h13m3-158h13m7 28h13m-10 190h13m-11 6h13m-8-85h13m14 36h13m-12-9h13m-8-90h13m-12 43h13m-9-181h13m-13 221h13m-13 7h13m-11-235h13m-13 72h13m-3 7h13m-12 101h13m-11-98h13m-13 127h13m-9-32h13m1 57h13m-10-78h13m1-297h13m-9 304h13m-7-285h13m-4 156h13m2-159h13m21-73h13m4 101h13m-2 82h13m-1-120h13m15 28h13m-3 49h13m-4-98h13m-12 59h13m-4 49h13"/>
<path transform="scale(.1)" stroke="#f0f0ff" stroke-width="13" fill="none" d="M2652 2676h13m14 1h13m8-9h13m-3 110h13m-3-107h13m-7-27h13m-6 175h13m-12-26h13m-12-112h13m-5-342h13m-13 537h13m-11-530h13m-12 244h13m-13 150h13m-9-60h13m-12-92h13m-13 216h13m-7-339h13m-13 434h13m-6-63h13m-12-38h13m-10-396h13m-10-1h13m-11-27h13m-9-17h13m-7 415h13m-10 55h13m-12-480h13m-12 99h13m-11-52h13m-9 402h13m-12-507h13m-13 448h13m-13 31h13m-10-441h13m-13 428h13m-11-76h13m-10-462h13m-9 387h13m-12-238h13m-5-1h13m-12-2h13m-11 16h13m-10-62h13m-13 424h13m-11-451h13m-10 125h13m-11-84h13m-13 63h13m-12-146h13m-13 61h13m-13 184h13m-10 215h13m-12-209h13m-8-301h13m-4 240h13m-10 222h13m-12-462h13m-6 290h13m-12 209h13m-10-339h13m-12-39h13m-12 29h13m-12 79h13m-13 33h13m-12-68h13m-13 245h13m-11-212h13m-11 292h13m-12-339h13m-12 254h13m-9 72h13m-6-412h13m-13 6h13m-12-102h13m-13 31h13m-5 190h13m-13 42h13m-11-297h13m-7 39h13m-12 224h13m-12-79h13m-9 275h13m-4-375h13m-11 197h13m-12-92h13m-8-153h13m-11 41h13m-11 72h13m-8 74h13m-6 76h13m-11-193h13m-8 174h13m-10-166h13m-11 126h13m-13 29h13m-9-248h13m-10 67h13m-11 40h13m-7 160h13m-12-101h13m-3-133h13m-13 136h13m-9-159h13m-12 260h13m-9 13h13m-11-273h13m-5 254h13m-12-262h13m-12 97h13m-10-88h13m-13 206h13m-13 58h13m-9-204h13m-12-103h13m-13 328h13m-6-330h13m-12 260h13m-11-19h13m-12-5h13m-10 37h13m-10 5h13m-5-241h13m-11-35h13m-13 343h13m-4-196h13m-7-16h13m-11-91h13m-7 167h13m-6-157h13m-12-8h13m-7 64h13m-9-31h13m-12 128h13m-4-127h13m-2 104h13"/>
<path transform="scale(.1)" stroke="#f08c78" stroke-width="13" fill="none" d="M2584 2810h13m-3 10h13m-11 3h13m11-31h13m-7-83h13m-7 96h13m-8-9h13m1 16h13m-11 18h13m2-62h13m-9-56h13m-13 70h13m3-15h13m-11-73h13m-13 59h13m-7 120h13m144-331h13m40 17h13m6 24h13m-12 22h13m121-83h13m9 73h13m3-328h13m-12-19h13m-12-46h13m-7-18h13m-11 7h13m-10 293h13m2-120h13m-7-68h13m11 64h13m-11-24h13m-10-56h13m-10 163h13m9-132h13m-13 146h13m-5-148h13m-10 165h13m-10-130h13m-12-127h13m-10 59h13m0 91h13m-8 41h13m-8-6h13m-1 27h13m3-43h13m-10-110h13m-11 43h13m-5-15h13"/>
<path transform="scale(.1)" stroke="#f0a08c" stroke-width="13" fill="none" d="M2582 2785h13m5 19h13m-8-14h13m-8 49h13m-5-37h13m-12-11h13m-9-84h13m-4 74h13m-12 47h13m-9-71h13m-11 63h13m-7-104h13m-13 151h13m0-76h13m-5 19h13m-3-71h13m-12 68h13m-8-99h13m-10 17h13m-10 114h13m66 72h13m8-8h13m-11-29h13m12 0h13m-10-365h13m-10 62h13m-12 330h13m-8-84h13m-8-217h13m6-19h13m-8 220h13m-10-229h13m-6-35h13m0 273h13m-11-41h13m-12 44h13m-12-79h13m-12-192h13m-13 241h13m-12 60h13m-5-312h13m-13 302h13m-4-256h13m-8 172h13m-12-174h13m-13 197h13m-9-238h13m-13 232h13m-5-84h13m-11-178h13m-13 242h13m-4-223h13m-11 238h13m-7-98h13m-12 46h13m-8-203h13m-3 226h13m-8-108h13m-13 61h13m-11-28h13m-12-72h13m-12 53h13m-13 99h13m-12-54h13m-6-91h13m-6-83h13m-5 13h13m-11 197h13m-9-63h13m-1-22h13m-11 39h13m-1-90h13m-13 94h13m-6-84h13m-8 27h13m-8-72h13m-13 157h13m-12-110h13m-11 103h13m-9-147h13m-12 43h13m-10-77h13m-9-3h13m-12 116h13m-10-107h13m-13 141h13m5-143h13m-13 96h13m-4 56h13m-12-67h13m-11-80h13m-13 149h13m-6-21h13m-8-172h13m-10-285h13m-13 345h13m-11-237h13m-13 180h13m-12-274h13m-5 90h13m-13 95h13m-13 103h13m-11-155h13m-13 240h13m-12-329h13m-3 157h13m-11-162h13m-12 53h13m-12 66h13m-11 105h13m-11-262h13m-11-22h13m-11 307h13m-4-269h13m-11 184h13m-6-130h13m-10 7h13m-11-89h13m-6 137h13m-12-93h13m-13 122h13m-10-128h13m-9 57h13m-8 155h13m-8 2h13m-8-230h13m-10 132h13m-9 63h13m-12 42h13m-11-212h13m-9 79h13m-12-88h13m-13 68h13m-13 157h13m-10-9h13m-2-122h13m-11-75h13m-13 5h13m-8 91h13m-12-35h13m-8 29h13m11-64h13m-6 120h13m-9-58h13m-11 33h13m-12-30h13m-11-35h13"/>
<path transform="scale(.1)" stroke="#f0dcdc" stroke-width="13" fill="none" d="M2645 2685h13m32-24h13m28 71h13m-11-140h13m-4 303h13m-6-31h13m9-175h13m-1 135h13m11-277h13m-13 64h13m-10-47h13m-9 182h13m-10 53h13m4 84h13m-12-98h13m-3-44h13m-12-14h13m-13 175h13m-10-40h13m-8-259h13m-2-7h13m-9 30h13m2 77h13m-13 51h13m-10-152h13m-6 58h13m-7 129h13m-11-128h13m-8 169h13m-7-44h13m-10-143h13m-12 195h13m-10-311h13m-6 310h13m24-187h13m-8 14h13m-4 67h13m-1-26h13m-6-91h13m-2-27h13m-4-3h13m-9-17h13m-9 38h13m1-219h13m-5 39h13m-6 152h13m-9-114h13m-5 28h13m-9-117h13m-11 9h13m-12 16h13m-1 45h13m-8 153h13m-12-20h13m-3-217h13m-12-172h13m-13 57h13m-10 346h13m-8-147h13m-11 7h13m-9-183h13m-5 109h13m21-151h13m13 199h13m8-102h13m-7 117h13m-2-152h13"/>
<path transform="scale(.1)" stroke="#dcdcf0" stroke-width="13" fill="none" d="M2668 2656h13m4-7h13m-9 22h13m7 45h13m-11-110h13m-3 183h13m3 91h13m-10-497h13m-13 12h13m-7 468h13m-12 47h13m-7-114h13m-12-507h13m-13 422h13m-11-316h13m-13 380h13m-8-481h13m-13 467h13m-7-309h13m-12-125h13m-12 89h13m-9 353h13m-12-483h13m-8 100h13m-12-76h13m-12 167h13m-12 375h13m-12-540h13m-13 40h13m-11-28h13m-10 285h13m-10-125h13m-12-185h13m-13 110h13m-12 320h13m-12-415h13m-13 343h13m-6 162h13m-12-237h13m-13 217h13m-10-342h13m-13 134h13m-12-109h13m-9 148h13m-12-395h13m-13 219h13m-12-100h13m-12 105h13m-12-154h13m-12 444h13m-10-487h13m-12 194h13m-13 5h13m-12-256h13m-13 97h13m-13 7h13m-11-6h13m-13 114h13m-11-214h13m-11 122h13m-13 14h13m-13 141h13m-12-250h13m-12 162h13m-13 320h13m-12-272h13m-13 196h13m-13 118h13m-12-136h13m-11-361h13m-13 121h13m-12-192h13m-11 56h13m-13 253h13m-12-192h13m-12 1h13m-12-55h13m-13 124h13m-11 104h13m-9-197h13m-6 108h13m-11-168h13m-13 86h13m-12 320h13m-12-362h13m-13 100h13m-12 44h13m-13 78h13m-12-187h13m-10-57h13m-13 20h13m-6 160h13m-12 10h13m-11-226h13m-13 143h13m-12 308h13m-12-424h13m-13 177h13m-12 67h13m-12-216h13m-12-59h13m-11 217h13m-12-201h13m-7 57h13m-13 29h13m-12-38h13m-13 4h13m-12-17h13m-10 399h13m-11-283h13m-8-91h13m-13 182h13m-13 160h13m-12-446h13m-12 15h13m-12 109h13m-11 16h13m-10 31h13m-13 18h13m-12-55h13m-8-143h13m-13 31h13m-9 93h13m-12-15h13m-12 204h13m-11-181h13m-7 2h13m-12-61h13m-12 211h13m-11-219h13m-11 43h13m-11 181h13m-13 27h13m-12-95h13m-12-150h13m-5 29h13m-13 178h13m-12-220h13m-13 174h13m-12 13h13m-10-127h13m-12-50h13m-13 92h13m-12 111h13m-10-130h13m-12 49h13m-12-144h13m-12 74h13m-13 189h13m-11-333h13m-13 38h13m-9 2h13m-13 12h13m-13 56h13m-13 13h13m-12-119h13m-12 71h13m-12-26h13m-10 122h13m-12-128h13m-11 279h13m-11-264h13m-12 56h13m-13 82h13m-13 126h13m-12-162h13m-11 91h13m-13 68h13m-12-144h13m-12-134h13m-10 237h13m-11-219h13m-12-20h13m-12 300h13m-9-57h13m-10-193h13m-9 88h13m-13 135h13m-12-88h13m-12 83h13m-13 31h13m-12-151h13m-12 83h13m-12-167h13m-10-73h13m-13 243h13m-12-27h13m-11-160h13m-10-63h13m-10 287h13m-11-287h13m-12 9h13m-11 250h13m-11-110h13m-12-99h13m-12 189h13m-13 27h13m-13 7h13m-10-234h13m-12 249h13m-11-53h13m-12-22h13m-12 2h13m-11-98h13m-13 88h13m-5-145h13m-7 25h13m-13 2h13m-12-72h13m-12 28h13m-12 17h13m1-39h13m-11 68h13m-10 17h13m-11 43h13m-8-12h13m-10-46h13m-12-37h13m-12-46h13m-11 145h13m-13 40h13m-12-57h13m-10 43h13m-12-43h13m-11-11h13m-11-10h13m-9-48h13"/>
<path transform="scale(.1)" stroke="#fff0f0" stroke-width="13" fill="none" d="M2663 2673h13m-8-19h13m44 231h13m2-253h13m7 145h13m2-171h13m1-49h13m-4 125h13m40 83h13m-5-53h13"/>
<path transform="scale(.1)" stroke="#f0dcf0" stroke-width="13" fill="none" d="M2692 2649h13m-11 17h13m7 14h13m-11 161h13m8 28h13m0-108h13m6-127h13m-8-312h13m-13 155h13m-8 215h13m-11-199h13m-12-229h13m-10 107h13m-5 21h13m-13 412h13m-12-309h13m-11 229h13m5-436h13m-7-94h13m-7 194h13m-12-149h13m-11 47h13m-7-26h13m-6 463h13m10-401h13m6-110h13m-11 426h13m-6-6h13m-6-273h13m6-99h13m-7 137h13m-12-139h13m-13 215h13m-11-15h13m8-299h13m-7 186h13m1-76h13m-3 196h13m1-174h13m-9 73h13m-8 87h13m-5-120h13m-5 39h13m-12-153h13m-1 45h13m-11 136h13m-10-79h13m-2-124h13m1-33h13m5 26h13m-8 16h13m-8-13h13"/>
<path transform="scale(.1)" stroke="#f0a0a0" stroke-width="13" fill="none" d="M2635 2706h13m49 66h13m109 75h13m-4-241h13m-3 252h13m-7-306h13m-1 1h13m-12 218h13m-3-19h13m9-247h13m-10 66h13m-11-22h13m-10-4h13m8 139h13m-13 27h13m-8 35h13m-7 78h13m-13 21h13m0-325h13m4 33h13m20-45h13m-13 182h13m10 12h13m24-127h13m-12-15h13m-6-13h13m-5 100h13m9-111h13m4-1h13m14-232h13m-1 139h13m2-167h13m13 141h13m-13 60h13m-5-126h13m21-2h13m1-11h13"/>
<path transform="scale(.1)" stroke="#f0dcc8" stroke-width="13" fill="none" d="M2664 2677h13m30 201h13m-12-194h13m3 11h13m-4 210h13m1-113h13m-8-119h13m-6-44h13m-3-54h13m-1 24h13m-7 148h13m-9-75h13m-9-7h13m-9 43h13m-1 148h13m-9-108h13m-4-213h13m-3 18h13m-8 196h13m7 0h13m-12-161h13m0-35h13m-12 22h13m-10 189h13m-7 103h13m-6-31h13m-3-336h13m-5 27h13m-12-11h13m4 210h13m-8 77h13m-11-81h13m-12-155h13m2 175h13m2-117h13m-6 4h13m-10-3h13m-8 90h13m-7-83h13m-8-29h13m9-43h13m-10 57h13m28-223h13m-9 120h13m-13 38h13m-9-3h13m-3-121h13m-12 188h13m-4-82h13m-9 118h13m-10-162h13m-11 74h13m-10-147h13m-11-166h13m-4 7h13m-12 207h13m-4 171h13m-5-299h13m-11 111h13m-5-136h13m-4 19h13m-2-17h13m-11-100h13m40 125h13m-3 30h13m-7-147h13m9 183h13"/>
<path transform="scale(.1)" stroke="#f07864" stroke-width="13" fill="none" d="M2581 2765h13m-4-7h13m3-38h13m0-17h13m-13 60h13m-8-62h13m-6 1h13m-1 66h13m1 51h13m-7 7h13m-13 21h13m-12 26h13m-6-174h13m-8 179h13m-12-157h13m-10 21h13m-4-18h13m-10 51h13"/>
<path transform="scale(.1)" stroke="#fff0dc" stroke-width="13" fill="none" d="M2749 2821h13m10 1h13m-9-51h13m-6-21h13m14-165h13m-12-10h13m16 49h13m24 23h13m2 28h13"/>
<path transform="scale(.1)" stroke="#ffdcdc" stroke-width="13" fill="none" d="M2724 2767h13m-8-182h13m-1 57h13m51 102h13m-10 6h13m-8 49h13m-9-26h13m-4-78h13m-7-69h13m-13 83h13m-11-51h13m-12 133h13m-4-87h13m220-207h13"/>
<path transform="scale(.1)" stroke="#f08c8c" stroke-width="13" fill="none" d="M2585 2783h13m242-182h13m67-31h13m41-42h13m-9-8h13m120-276h13m-11 8h13m116 31h13"/>
<polygon points="46.8,341.6 52.2,339.7 60.1,338.3 71,337.2 82.8,336.6 114.1,336.6 116.8,338.5 118,348.1 118,363.5 117.2,371.2 115.7,375.1 46,375.1 42.4,372.4 40.5,367.4 39.7,359.7 40.1,352.8 41.7,347.4 43.6,343.9" fill="#9c8bc6"/>
<path transform="scale(.1)" stroke="#dcc8f0" stroke-width="15" fill="none" d="M383 3548h15m-9-16h15m-4 70h15m-12-62h15m-3 196h15m-6-69h15m-10-154h15m-14-72h15m-14 172h15m-13-130h15m-15 200h15m-12-188h15m-11-35h15m-12 44h15m-14-75h15m-14 214h15m-11-169h15m-12 260h15m-12-266h15m-13-54h15m-8 309h15m-12 21h15m-6-54h15m-9-133h15m-14-108h15m-15 47h15m-12 105h15m-9-37h15m-12-105h15m-12 194h15m-14-227h15m-10 268h15m-14-248h15m-14 138h15m-11 9h15m-12-136h15m-13-6h15m-9 311h15m-10-312h15m-14-7h15m-12 208h15m-14-133h15m-15 196h15m-12-271h15m-15 47h15m-14 137h15m-12-213h15m-14 79h15m-12-49h15m-12 299h15m-13 0h15m-12-269h15m-13 233h15m-12-105h15m-10 97h15m-13-181h15m-5 204h15m-13-39h15m-13-86h15m-1-208h15m-14 113h15m-15 119h15m-14 79h15m-12-6h15m-14 22h15m-13-46h15m-12-47h15m-14-83h15m-12-48h15m-12 18h15m-13 10h15m-13-58h15m-15 179h15m-13-19h15m-15 75h15m-14-145h15m-14 197h15m-13-364h15m-14 286h15m-9 68h15m-14-138h15m-12 153h15m-12-69h15m-11 7h15m-14 50h15m-15 20h15m-10-125h15m-12-74h15m-12 100h15m2 75h15m-15 1h15m-11-363h15m-15 258h15m-13-180h15m-13 18h15m-15 289h15m-13-301h15m-15 156h15m-13-44h15m-14-8h15m-14-161h15m-14 296h15m-9-189h15m-15 3h15m-10-150h15m-13 388h15m-9-332h15m-12 179h15m-14 18h15m-11 55h15m-13-197h15m-14 101h15m-10-78h15m-15 216h15m-13 23h15m-14-189h15m-8-185h15m-15 361h15m-13-229h15m-15 56h15m-13 162h15m-11-151h15m-8-72h15m-15 128h15m-11-94h15m-8 223h15m-14-233h15m-14 38h15m-13 68h15m-15 39h15m-14-228h15m-14 241h15m-7-289h15m-13 99h15m-14 152h15m-14-188h15m-15 300h15m-14-220h15m-6-151h15m-13 7h15m-12 17h15m-15 110h15m-7-100h15m-9 279h15m-14-80h15m-14-11h15m-15 47h15m-15 93h15m-12-63h15m-13-161h15m-15 48h15m-13-71h15m-14-95h15m-12 63h15m-10 47h15m-14-11h15m-15 154h15m-15 43h15m-10-302h15m-10 40h15m-13-17h15m-12 69h15m-11 206h15m-15 24h15m-14-65h15m-14-243h15m-14-33h15m-8 325h15m-13-88h15m-11-203h15m-14-32h15m-8 360h15m-14-20h15m-13 1h15m-9-261h15m-14 107h15m-13 86h15m-12 21h15m-14 65h15m-8-311h15m-13 138h15m-15 145h15m-13-231h15m-6 236h15m-12-343h15m-14 241h15m-13 99h15m-9 26h15m-14-166h15m-13 124h15m-13-233h15m-12 45h15m-15 119h15m-7 33h15m-11-183h15m-12-59h15m-15 142h15m-13 179h15m-14-214h15m-15 165h15m-9-324h15m-15 130h15m-15 183h15m-13-167h15m-13-29h15m-15 141h15m-12 124h15m-15 4h15m-13-339h15m-15 17h15m-9 307h15m-14-280h15m-13-60h15m-13-7h15m-1 350h15m-13-252h15m-15 135h15m-6-135h15m-15 77h15m-11 113h15m-14-171h15m-14 191h15m-14-22h15m-9-174h15m-14 57h15m-12-139h15m-13 186h15m-11 32h15m-11-213h15m-14 281h15m-11-277h15m-13-57h15m-12 179h15m-14 99h15m-12 11h15m-11 62h15m-14-243h15m-14 227h15m-10-243h15m-15 25h15m-14 176h15m-10-100h15m-14 159h15m-6-331h15m-12 284h15m-14-179h15m-14-130h15m-14 201h15m-15 51h15m-14-79h15m-9 55h15m-14 115h15m-12-26h15m-4-61h15m-12-15h15m-14 71h15m-15 49h15m-14-340h15m-15 383h15m-13-269h15m-15 197h15m-12 50h15m-12-151h15m-13 161h15m-14-346h15m-15 53h15m-15 212h15m-15 9h15m-15 15h15m-14 29h15m-13-179h15m-12 120h15m-12-243h15m-15 244h15m-13-184h15m-15 123h15m-14 4h15m-8-131h15m-14-60h15m-15 113h15m-15 101h15m-14 69h15m-14-276h15m-14 235h15m-10-15h15m-11-195h15m-15 148h15m-8-143h15m-13-42h15m-13 79h15m-14-111h15m-15 189h15m-11-69h15m-15 201h15m1-280h15m-15 336h15m-12-268h15m-13 239h15m-12-80h15m-5-109h15"/>
<path transform="scale(.1)" stroke="#7850b4" stroke-width="15" fill="none" d="M405 3699h15m-7-252h15m-13 119h15m6-88h15m6 170h15m-14-38h15m-13-195h15m-6 48h15m-11 292h15m-2-4h15m-2-59h15m-7-183h15m-11-55h15m-12-33h15m-7-10h15m8 92h15m-4 38h15m-9-142h15m-14 106h15m-5 24h15m9 175h15m2-131h15m-12 51h15m-10 33h15m1-243h15m-15 87h15m-3-101h15m-12 215h15m-3-184h15m3 4h15m-9 88h15m8-52h15m-12 141h15m-14-225h15m3 162h15m6-112h15m2 173h15m-9-171h15m45 324h15m1-94h15m-6-206h15m-9 229h15m5-130h15m-7-114h15m23-59h15m-13-19h15m-12 178h15m12 201h15m7-294h15m-5 26h15m6 140h15m2-140h15m-12-104h15m-7 302h15m-9-158h15m-15 107h15m-1-107h15m-6-59h15m18 17h15m0-67h15m-15 222h15m9 25h15m-13-211h15m-8 309h15m-9-225h15m-12 202h15m2-110h15"/>
<path transform="scale(.1)" stroke="#c8c8f0" stroke-width="15" fill="none" d="M405 3570h15m-4-89h15m-15 135h15m-12 25h15m-13-162h15m-15 258h15m-13-215h15m-13 61h15m-9 75h15m-15 3h15m-12-126h15m-11-45h15m-2 252h15m-12-3h15m-5-82h15m-13 91h15m-10-225h15m-12 222h15m-14-308h15m-15 162h15m-11-155h15m-15 224h15m-13-80h15m-6-29h15m-14 139h15m-13-168h15m-15 136h15m-14-246h15m-15 316h15m-14-113h15m-14-181h15m-10 191h15m-13-192h15m-9 242h15m-11-81h15m4 119h15m-6-320h15m-7-11h15m-11 9h15m-15 145h15m-14 70h15m-15 144h15m-7-41h15m-12-310h15m-9 292h15m-11-315h15m-15 153h15m-13 18h15m-14-75h15m-13 284h15m-12-233h15m-14-149h15m-8 72h15m-3-50h15m-14 210h15m-12-134h15m-15 268h15m-12-120h15m-11-108h15m-13 33h15m-10 3h15m-11-76h15m-11-49h15m-15 23h15m-15 249h15m-14-104h15m4-106h15m-12 236h15m-2-279h15m-15 185h15m-11-12h15m-13-222h15m-12 241h15m-12-145h15m-10 114h15m-14 51h15m-9-12h15m-14-225h15m-15 89h15m-7 44h15m-14 74h15m-7-104h15m-10 225h15m-7-257h15m-13 194h15m-8 59h15m-13-236h15m-14-26h15m-6-7h15m-15 200h15m-13-233h15m-9-83h15m-14 195h15m-11-105h15m-11-19h15m-12 26h15m-3-53h15m-13 37h15m-13 270h15m-13 43h15m-8-91h15m-13-246h15m-14 99h15m-14-73h15m-14-71h15m-14 75h15m-14 144h15m-10-128h15m-10 280h15m-10-320h15m-15 224h15m-14 72h15m-12-83h15m-6 68h15m-14-268h15m-10 238h15m-8 81h15m-12-267h15m-5 25h15m-12 57h15m-9-107h15m-12 42h15m-14-38h15m-13 10h15m-10 90h15m-5-112h15m-14-61h15m-9 60h15m-14 76h15m-15 80h15m-11 139h15m-13-12h15m-11-90h15m-6-64h15m-13-161h15m-14 216h15m-14 103h15m-8-385h15m-15 374h15m-13-151h15m-14 59h15m-10-52h15m-14-195h15m-10-26h15m-14 102h15m-14-89h15m-15 254h15m-11-220h15m-13 138h15m-13-152h15m-4 216h15m-13-120h15m-13-57h15m-13 39h15m-14 101h15m-15 34h15m-10-138h15m-15 221h15m-10-150h15m-15 207h15m-14-101h15m-13-296h15m-14 123h15m-8-104h15m-14 40h15m-9 27h15m-15 23h15m-5 183h15m-14-33h15m-8 107h15m-13-348h15m-15 23h15m-10-12h15m-15 243h15m-14 106h15m3-379h15m-10 121h15m-12 193h15m-13-89h15m-12-78h15m-12 237h15m-14-311h15m-14 52h15m-13-51h15m-15 46h15m-14-109h15m-13 225h15m15 1h15m-8-153h15m-9-46h15m-12 363h15m-3-374h15m-8 203h15m-4 113h15m-11-75h15m-10-74h15m-13-94h15m-15 202h15m-10-115h15m-15 13h15m-12 154h15m-14-194h15m-14 140h15m-5 53h15m-6-78h15m-14 18h15m-14-29h15m-10 17h15m-13-34h15m-10 28h15"/>
<path transform="scale(.1)" stroke="#8c78b4" stroke-width="15" fill="none" d="M387 3647h15m23-29h15m-3-169h15m-15 30h15m2 175h15m-9-189h15m-9 165h15m-10-219h15m-8 191h15m1-56h15m-7 197h15m-7-156h15m-13 172h15m-11-116h15m-5-142h15m-13 39h15m19 139h15m5-227h15m26 262h15m3-327h15m10 324h15m-8 15h15m-7-248h15m-1 259h15m-1-228h15m-8-41h15m-8-67h15m-10 53h15m-12 104h15m16-89h15m-5 206h15m2 55h15m-14-289h15m-7-7h15m2 57h15m-15 47h15m-9-163h15m16 376h15m-6-196h15m-14 159h15m30-299h15m-5 106h15m-11 79h15m-5-119h15m6 12h15m-4 46h15m-13 78h15m-10-160h15m-13-94h15m-15 74h15m-7 63h15m-12 171h15m-5-12h15m-2-152h15m-8 125h15m5-185h15m-7 308h15m20-237h15m-11-159h15m-15 233h15m11 144h15m-6-19h15m7-170h15m-13 33h15m4 41h15m-9-234h15m-10 160h15m-9-161h15m-6 109h15"/>
<path transform="scale(.1)" stroke="#7864b4" stroke-width="15" fill="none" d="M386 3554h15m-15 90h15m-6 28h15m-12 1h15m-14-128h15m-9-50h15m-9 145h15m-15 13h15m-10-56h15m-14-44h15m-15 49h15m-7-61h15m-3-48h15m-6 70h15m-15 27h15m-8 42h15m-8-33h15m1 95h15m-13-281h15m-15 121h15m-8-111h15m-12 3h15m-12 120h15m-14-30h15m-13 28h15m-14-104h15m-9 198h15m-9-43h15m-12-2h15m-13 90h15m4-37h15m-7-163h15m-5 30h15m-10 66h15m-14 110h15m-15 29h15m-8-286h15m-15 151h15m-13-144h15m-15 74h15m-11-122h15m-6 59h15m-15 26h15m-12 124h15m-13 106h15m-13-54h15m-13-215h15m-13 105h15m-10 209h15m-11-233h15m-15 110h15m-8 117h15m-9-63h15m-12 71h15m-10-280h15m-9-81h15m-14 4h15m-9 38h15m-14 44h15m-13-72h15m-14 25h15m-10 235h15m-15 82h15m-11-117h15m-14 108h15m-13-72h15m-4-174h15m-9-122h15m-11 103h15m-10 60h15m-13 188h15m-14-184h15m-13-74h15m-15 128h15m-10-210h15m1 265h15m-1-113h15m-13 50h15m-15 112h15m-14-315h15m-11 117h15m-13 98h15m-14 107h15m-8-94h15m-14-78h15m-11-102h15m-15 199h15m-5-125h15m-13 190h15m-9-309h15m-14 339h15m-11-191h15m-14-79h15m-14 198h15m-11 80h15m-11-66h15m-14-215h15m-13 140h15m-15 10h15m-14-177h15m-13 80h15m-11-57h15m-15 62h15m-10-91h15m-14 98h15m-15 74h15m-15 103h15m-13-132h15m-8-25h15m-10 223h15m-14-258h15m-12-40h15m-14 122h15m-13-78h15m-15 60h15m-8-105h15m-7 277h15m-9-281h15m-15 23h15m-14-119h15m-11 86h15m-13 253h15m-14-127h15m-13 162h15m-12-191h15m-14-17h15m-12-25h15m-10 194h15m-10-276h15m-14 71h15m-14 95h15m-11-119h15m-15 42h15m-13 33h15m-14 92h15m-13 86h15m-13-8h15m-8-351h15m-15 149h15m-13 162h15m-9-269h15m-15 103h15m-14 163h15m-7-262h15m-13-23h15m-13 249h15m-9 17h15m-13-255h15m-9-23h15m-9 34h15m-14 181h15m-11 137h15m-12-339h15m-14 312h15m-15 40h15m-9-297h15m-6 62h15m-8-92h15m-11 63h15m-13-81h15m-6 368h15m-14-212h15m-12 33h15m-12-124h15m-12-66h15m-11 374h15m-14-267h15m-10-54h15m-15 45h15m-14 255h15m-9-156h15m-13-155h15m-5 329h15m-4-245h15m-14 244h15m-11-204h15m-15 124h15m-13 11h15m-14 41h15m-12-123h15m-9-167h15m-14-68h15m-6 325h15m-13-218h15m-7-30h15m-14-49h15m-14 158h15m-14 186h15m-9-208h15m-14 163h15m-10-250h15m-12-26h15m-7 103h15m-8 128h15m-11 69h15m-10-230h15m-12 250h15m-13-92h15m-10-168h15m-15 257h15m-14-73h15m-11-20h15m-11-159h15m-13 192h15m-14-46h15m-15 13h15m-13-90h15m-14 71h15m-11-119h15m-4 228h15m-11-154h15m-13 57h15m-12-266h15m-15 143h15m-11 183h15m-14-183h15m-9-117h15m-13 221h15m-14-75h15m-14 2h15m-11-170h15m-13 195h15m-10-51h15m-14 131h15m-14-17h15m2-25h15"/>
<path transform="scale(.1)" stroke="#a08cc8" stroke-width="15" fill="none" d="M397 3503h15m-7 87h15m-15 135h15m1-288h15m-14 276h15m-14-238h15m-14 125h15m-10 105h15m9-219h15m10 170h15m-10-199h15m-8 279h15m-6-310h15m10 159h15m4 103h15m-4-7h15m-13-296h15m-6 212h15m-14-189h15m-6 289h15m-8 20h15m-8-181h15m-10-29h15m-3 194h15m-8 2h15m-10 35h15m5-81h15m-12 20h15m4-283h15m-8 74h15m-13-63h15m1 216h15m-7-12h15m-14-240h15m-14 28h15m-11 255h15m1-263h15m-10 357h15m-12-14h15m-4-15h15m-9-311h15m7 11h15m-5 151h15m-15 10h15m-14 27h15m-11-215h15m-14-23h15m-15 288h15m-12-236h15m-12 77h15m-12 187h15m-11-142h15m-6 148h15m-8-112h15m-4 20h15m-2-2h15m6 18h15m-14 119h15m-11-38h15m6-19h15m-14-123h15m-7 121h15m9 36h15m-14-96h15m-8-1h15m-11-7h15m-9 1h15m5-22h15m-9 12h15m-13-61h15m-9-90h15m-12 54h15m-13-102h15m-15 163h15m-1 11h15m-2 64h15m-6-278h15m-11 108h15m-11-47h15m-7-11h15m-13 241h15m-6-289h15m-6 47h15m-12 215h15m-8-219h15m-1 208h15m-13 125h15m-8-344h15m-14 98h15m-11 18h15m-10 217h15m8-363h15m-9 365h15m-3-125h15m-14-83h15m-7-132h15m-13 100h15m-8 28h15m-12 110h15m-13 27h15m-13-69h15m-14 100h15m-7-214h15"/>
<path transform="scale(.1)" stroke="#6450a0" stroke-width="15" fill="none" d="M398 3678h15m0-197h15m6 185h15m45 17h15m-13-17h15m-10-127h15m-10 29h15m28 10h15m-11-196h15m22 193h15m-4 18h15m-10 84h15m-13-13h15m-10-109h15m-13 202h15m-14-191h15m-6 180h15m30-29h15m21-2h15m-12-315h15m-13 239h15m-13-214h15m-9 251h15m-10-198h15m-14-22h15m-9 183h15m-12 38h15m-2-100h15m-14-62h15m-5-42h15m-14 271h15m9-38h15m-9-318h15m-10 232h15m-7-110h15m14 31h15m-15 75h15m-10-235h15m-10 145h15m-8-56h15m-9 237h15m0-221h15m-1 138h15m-8-11h15m-11-240h15m-13 378h15m13-305h15m3 145h15m3-121h15m-7 259h15m-14 15h15m7 10h15m-12-93h15m-6-175h15m-7 188h15m16-295h15m-13 247h15m4 79h15m-5-122h15m-15 122h15m-13-239h15m4 246h15m-9-312h15m-13 64h15m5 61h15m-13-66h15m-13-45h15m-6 146h15m-13-64h15m-2 46h15m-2 199h15m2-288h15m-14 230h15"/>
<path transform="scale(.1)" stroke="#8c64b4" stroke-width="15" fill="none" d="M462 3753h15m0-167h15m31 155h15m20-108h15m-3-202h15m-5 45h15m-10 139h15m101-250h15m1 114h15m2 145h15m-15 96h15m61-166h15m19 123h15m18-99h15m-9 47h15m-4-192h15m-14-70h15m54 184h15m43 26h15m1 129h15m4-13h15m42-175h15m22 237h15"/>
<path transform="scale(.1)" stroke="#8c78c8" stroke-width="15" fill="none" d="M384 3617h15m-13-94h15m-9 145h15m4 50h15m-12-236h15m-9 143h15m-13-148h15m-13 147h15m-12-153h15m-15 240h15m-15 34h15m-13-210h15m-10 20h15m-14 47h15m-7-153h15m-6 4h15m-13 125h15m-15 172h15m-11-177h15m-12-126h15m-6 177h15m-15 60h15m-14-241h15m-15 27h15m-5 114h15m-6-171h15m-1 179h15m-14 49h15m-9-32h15m-10-165h15m-14 25h15m-5 106h15m-11-139h15m-13 258h15m-1-309h15m-15 257h15m-13-136h15m-12 248h15m-13-97h15m-14 48h15m-12-29h15m-13-179h15m-13-76h15m-15 232h15m-13-266h15m-14 110h15m-7 266h15m-13-96h15m-14-68h15m-7 29h15m-13-247h15m-7 8h15m-10 151h15m-15 172h15m-11-280h15m-10 94h15m-10 79h15m-14 124h15m-13-104h15m-12-207h15m-14 220h15m-14 27h15m-14 92h15m-9-312h15m-13-15h15m2 276h15m-14-106h15m-8-174h15m-13 57h15m-11 51h15m-11 125h15m-14 42h15m-14-163h15m-15 210h15m-10-61h15m-12-82h15m-15 79h15m-10 24h15m-13-264h15m-7 15h15m-15 151h15m-14-67h15m-9-137h15m-8 10h15m-13-30h15m-10 242h15m-13-228h15m-11 266h15m-14 30h15m-13-264h15m-15 39h15m-13-38h15m-11-7h15m-14 120h15m-9-43h15m-11-46h15m-8 188h15m-15 94h15m-9-48h15m-12-125h15m-13 155h15m-12-275h15m-14-51h15m-10 319h15m-12-206h15m2 1h15m-8-107h15m-13 82h15m-15 16h15m-12-39h15m-14 103h15m-14-29h15m-4-61h15m-14-108h15m-14 49h15m-12 215h15m-10-197h15m-12 195h15m-10 39h15m-5-70h15m-8-194h15m-5 313h15m-14-61h15m-10-14h15m-14-103h15m-9-24h15m-15 86h15m-13 142h15m-12-189h15m-10-94h15m-4-6h15m-15 10h15m-14 131h15m-14-66h15m-13-51h15m-15 172h15m-4-134h15m-11-72h15m-14-27h15m-1 190h15m-9-229h15m-13 171h15m-12 70h15m-14-121h15m-15 249h15m-14-339h15m-14 139h15m-12-90h15m-15 105h15m-15 7h15m-12-114h15m-9 78h15m-11 179h15m-2-146h15m-13 193h15m-12-296h15m-9 276h15m-14-65h15m7-54h15m-14-228h15m-13 262h15m-13-194h15m-10-67h15m-6 198h15m-10-70h15m-15 87h15m-12-224h15m-11 364h15m-3-81h15m0-195h15m-14 237h15m-13-284h15m-11-34h15m-13 92h15m-14-26h15m-14 215h15m-13-251h15m1-6h15m-11 110h15m-12 93h15m-1-201h15m-12-29h15m-11 253h15m-14-162h15m-14-17h15m-13 186h15m-13-122h15m-12 91h15m-12-180h15m-12 146h15m-15 148h15m-14-179h15m-2-126h15m-13 300h15m-14-33h15m-15 44h15m-11-73h15m-9-116h15m-11 212h15m-14-320h15m-4 124h15m-13-2h15m-4 9h15"/>
<path transform="scale(.1)" stroke="#6450b4" stroke-width="15" fill="none" d="M391 3535h15m-2 90h15m8-25h15m59-160h15m58-39h15m97 2h15m16 188h15m68-13h15m0-172h15m13 291h15m167 39h15"/>
<path transform="scale(.1)" stroke="#8c8cc8" stroke-width="15" fill="none" d="M744 3479h15m122-108h15m15-13h15m-4 177h15m23 26h15m123-38h15"/>
<polygon points="139.7,340.6 144.9,338.7 152.4,337.3 162.9,336.2 174.2,335.6 204.3,335.6 206.9,337.5 208,347.1 208,362.5 207.3,370.2 205.8,374 138.9,374 135.5,371.3 133.7,366.3 132.9,358.6 133.3,351.7 134.8,346.3 136.7,342.9" fill="#9c8bc6"/>
<path transform="scale(.1)" stroke="#dcc8f0" stroke-width="15" fill="none" d="M1318 3651h15m-9 20h15m-4-128h15m-12 121h15m-14-4h15m-15 47h15m-11-21h15m-7 1h15m0-219h15m-15 95h15m-15 157h15m-8-17h15m-10-180h15m-15 226h15m-14-195h15m-11 131h15m-14-268h15m-13 71h15m-14 95h15m-14 68h15m-12-30h15m-11 53h15m-13 62h15m-11-343h15m-13 266h15m-12-208h15m-11 46h15m-12-13h15m-10 50h15m-10 77h15m-12-203h15m-9 229h15m-14-204h15m-13 7h15m-11 35h15m-14 31h15m-7 97h15m-11-135h15m-8-17h15m-15 71h15m-15 195h15m-12-156h15m-12-28h15m-9 124h15m-11-285h15m-11 312h15m-14-234h15m-1-18h15m-13-26h15m-14 152h15m-12-144h15m-14 165h15m-15 151h15m-13-355h15m-14 83h15m-14 18h15m-12 0h15m-14 41h15m-14 62h15m-14-62h15m-15 47h15m-14 140h15m-14-110h15m-13-186h15m-2 271h15m-11-8h15m-9 49h15m-13-296h15m-15 233h15m-13-293h15m-14 113h15m-9 176h15m-14-55h15m-12-51h15m-12 78h15m-14-63h15m-14-134h15m-14-31h15m-11 173h15m-13 21h15m-11-223h15m-15 350h15m-9 17h15m-15 5h15m-14-359h15m-15 7h15m-13 239h15m-14-44h15m-15 99h15m-9-130h15m-12-23h15m-11-43h15m-14 53h15m-10-3h15m-13 142h15m-12-71h15m-13 77h15m-13-39h15m-13-82h15m-11-198h15m-12 96h15m-13 42h15m-11 58h15m-15 108h15m-14-1h15m-14-161h15m-12 27h15m-14 25h15m-13-7h15m-14-11h15m-14 204h15m-12-220h15m-9-167h15m-15 209h15m-15 184h15m-11-347h15m-14 92h15m-15 219h15m-12-94h15m-14 71h15m-1-331h15m-14 276h15m-10-213h15m-15 49h15m-13-63h15m-14 150h15m-14-210h15m-14 356h15m-8-312h15m-13 63h15m-9-2h15m-14 218h15m-7-9h15m-14-241h15m-15 300h15m-13-70h15m-12 63h15m-14-187h15m-11-164h15m-13 111h15m-12-84h15m-15 161h15m-7-43h15m-1 16h15m-14-109h15m-14-70h15m-10 398h15m-13-136h15m-13-49h15m-10-200h15m-14 31h15m-15 61h15m-13 204h15m-14-202h15m-15 8h15m-14 107h15m-14-190h15m-15 350h15m-14-21h15m-14-316h15m-14-3h15m-15 110h15m-13 28h15m-12 67h15m-15 57h15m-14-202h15m-14 35h15m-13-38h15m-14 270h15m-14-56h15m-15 69h15m-12-282h15m-13 289h15m-14-173h15m-13 152h15m-13-246h15m-14 40h15m-14 34h15m-12-44h15m-15 111h15m-11-224h15m-10-32h15m-15 129h15m-12-99h15m-13 295h15m-14-248h15m-13-6h15m-14 76h15m-13-135h15m-15 98h15m-11 202h15m-13-175h15m-15 6h15m-15 222h15m-14-287h15m-15 218h15m-15 17h15m-13-91h15m-14 90h15m-13-10h15m-14-250h15m-15 119h15m-14-80h15m4 264h15m-13-139h15m-15 102h15m-14-156h15m-13 1h15m-11-76h15m-12 41h15m-10-61h15m-14-18h15m-15 259h15m-14 45h15m-11-166h15m-14-9h15m-15 14h15m-14 9h15m-14-151h15m-11 54h15m-15 255h15m-6-205h15m-14-109h15m-14 339h15m-13-369h15m-14 163h15m-13-164h15m-15 56h15m-13-65h15m-10 55h15m-12 31h15m-14 63h15m-14 134h15m-14 6h15m-10-198h15m-14 76h15m-13-53h15m-9 262h15m-13-153h15m-15 43h15m-12 16h15m-12-28h15m-15 9h15m-14-260h15m-15 103h15m-15 189h15m-12-80h15m-12 113h15m-9-273h15m-15 216h15m-13-228h15m-10 82h15m-13-135h15m-8 143h15m-9 67h15m-10-120h15m-13 150h15m-8-79h15m-10 123h15m-7-98h15m-11-7h15m-11-84h15m-10-48h15m-14 13h15m-15 72h15m-13-122h15m-13 314h15m-11 48h15m-13-279h15m-13-76h15m-9-1h15m-15 253h15m-8-17h15m-9-124h15m-15 130h15m-14-73h15m-14-126h15m-10 225h15m-14-204h15m-14 160h15m-15 11h15m-14-73h15m-11 92h15m-10-174h15m-13-4h15m-14-72h15m-4 216h15m-15 41h15m-15 25h15m-15 39h15m-13-165h15m-11-91h15m-11-24h15m-13 3h15m-8 13h15m-13 242h15m-14-149h15"/>
<path transform="scale(.1)" stroke="#7850b4" stroke-width="15" fill="none" d="M1316 3596h15m38-152h15m-2 75h15m-3-19h15m20 244h15m8-262h15m14 132h15m4-215h15m-2 221h15m-11 51h15m0 22h15m-13-220h15m23 265h15m-12-190h15m-7-108h15m3-20h15m15-68h15m-12 244h15m-5-234h15m-13 214h15m-8-123h15m-15 102h15m-9-113h15m-8 160h15m-3 68h15m-13-247h15m32 1h15m-12 208h15m-8 16h15m-13-18h15m-11-74h15m3 9h15m-11-167h15m-9 239h15m-1-63h15m-5-95h15m-11 194h15m4-297h15m22 240h15m1 71h15m-4-25h15m3-236h15m40 158h15m-7-52h15m-8 7h15m-2-118h15m-2-45h15m-10 249h15m36-127h15m-9-87h15m-3 98h15"/>
<path transform="scale(.1)" stroke="#c8c8f0" stroke-width="15" fill="none" d="M1316 3628h15m-9-90h15m-1-75h15m-15 106h15m-10 90h15m-12-14h15m-7 70h15m-10-97h15m-10 54h15m-1-254h15m-15 247h15m-11-183h15m-15 67h15m-12-27h15m-14 44h15m-12 78h15m-14 34h15m-13-71h15m-7-26h15m-14 48h15m-11-135h15m-13 1h15m-14 155h15m-14-199h15m-7 84h15m-10 153h15m-14-46h15m-9 15h15m-12 52h15m-11-98h15m2-207h15m-13 194h15m-14 124h15m4-284h15m-15 180h15m-14-53h15m-13-78h15m5 243h15m-13-110h15m-14-177h15m-14-7h15m-12 24h15m-14 15h15m-15 107h15m-14-95h15m-12 118h15m-15 104h15m-13 32h15m-13-198h15m-13 141h15m-13-171h15m-15 174h15m-4-78h15m-13-198h15m-12 102h15m-13 149h15m-13-29h15m-14-63h15m-14 181h15m-10-274h15m-8-64h15m-2 298h15m-10-26h15m-11-296h15m0 233h15m-15 89h15m-13-275h15m-14 83h15m-14 185h15m-9 32h15m-11-264h15m-13-9h15m-14-104h15m-15 103h15m-8-53h15m-15 99h15m-14-135h15m-15 274h15m-12-230h15m-15 7h15m-2 309h15m0-152h15m-15 73h15m-13-175h15m-13-22h15m-15 114h15m-14 98h15m-12 68h15m-8-283h15m-14 300h15m-12-357h15m-12-15h15m-12 28h15m-15 174h15m-15 5h15m-11-184h15m-13 38h15m-13-4h15m-14 153h15m-15 67h15m-14-46h15m-9-216h15m-9 196h15m-8 52h15m-15 101h15m-11-167h15m-13-82h15m-13 243h15m-14-284h15m-15 194h15m-11-255h15m-15 52h15m-13 252h15m-13-37h15m-6-251h15m-11 14h15m-14 195h15m-10 82h15m-11 40h15m-14-336h15m-14-26h15m-11 133h15m-10-154h15m-13 15h15m-11 12h15m-4 253h15m-14 64h15m-1-77h15m-3-262h15m-14 232h15m-12-195h15m-14 146h15m-9 156h15m-9-191h15m-12 212h15m-10-318h15m-8 336h15m-7-151h15m-14-113h15m-15 8h15m-15 63h15m-13-3h15m-14-190h15m-14 264h15m-14-126h15m-10-147h15m-15 136h15m-12-4h15m-14 40h15m-12-7h15m-14 189h15m-10-278h15m-12-61h15m0 330h15m-12 33h15m-11-189h15m-13-69h15m-14 134h15m-6 94h15m-14 42h15m-13-223h15m-14 9h15m-10-68h15m-12 209h15m-14-35h15m-12-126h15m-13 239h15m-14-65h15m-14-155h15m-11 10h15m-13-174h15m-8 116h15m-14 183h15m-14-52h15m-1 2h15m-13-139h15m-13 175h15m-14-74h15m-9 3h15m-11-210h15m-15 152h15m-13 167h15m4-164h15m-15 121h15m-10 78h15m-12-91h15m-15 88h15m-12-261h15m-12 244h15m-12-13h15m-14-33h15m-15 20h15m-12-317h15m-15 11h15m-15 12h15m-14 212h15m-11-9h15m-13-214h15m-14 307h15m-12-147h15m-11-62h15m-15 284h15m-13-120h15m-11-274h15m-15 279h15m-13-56h15m-14-139h15m-10 52h15m-12 132h15m-13-134h15m-15 219h15m-13 43h15m3-30h15m-11-261h15m-12 241h15m-15 49h15m-14-269h15m-15 19h15m-14-24h15m3 220h15m-9-117h15"/>
<path transform="scale(.1)" stroke="#8c64b4" stroke-width="15" fill="none" d="M1403 3582h15m113 86h15m9-248h15m1 107h15m0 18h15m76 103h15m13-170h15m13 44h15m15 78h15m-2 7h15m-7-149h15m1 223h15m31 24h15m16-217h15m13-120h15m-4 2h15m8 359h15m22-254h15m16 65h15m58-110h15"/>
<path transform="scale(.1)" stroke="#7864b4" stroke-width="15" fill="none" d="M1332 3461h15m-14 27h15m-2 131h15m-8 113h15m-9-46h15m-11-132h15m-7 198h15m-14-281h15m-5-18h15m-13 260h15m-11-226h15m-12 262h15m-14-344h15m-11 10h15m-8 163h15m-14-117h15m-11 248h15m-9-177h15m-10-6h15m-14 98h15m-10 55h15m-14-168h15m-13-21h15m-11 231h15m-5-93h15m-14-107h15m-13-28h15m-13 5h15m-15 0h15m-14-47h15m-10 230h15m-10 4h15m-14-304h15m-14 326h15m-12-240h15m4 45h15m-15 56h15m-11-83h15m-11 214h15m-14-317h15m-14 183h15m-12-133h15m-15 84h15m-9-137h15m-14 138h15m-13-25h15m-15 206h15m-13-113h15m-9-138h15m-10 188h15m-13-252h15m-13 330h15m-11-296h15m-15 237h15m-8-98h15m-11-137h15m-8 88h15m-15 220h15m-12-271h15m-12-81h15m-15 231h15m-10-101h15m-14-70h15m-14 61h15m-15 175h15m-15 13h15m-13 24h15m-14-95h15m-6 54h15m-14-266h15m-12 163h15m-13-169h15m-15 97h15m-11 35h15m-15 108h15m-14-58h15m-13 155h15m-12-90h15m-14-220h15m-12-8h15m-14 162h15m-14 19h15m-13-144h15m-13-54h15m-13 240h15m-11-57h15m-15 93h15m-14-272h15m-13 105h15m-10-66h15m-7-9h15m-15 145h15m-12-94h15m-14 192h15m-14-146h15m-15 54h15m-15 32h15m-13 56h15m-14-57h15m-13-20h15m-14 54h15m-14-193h15m-12 296h15m-11-177h15m-14-171h15m-12 43h15m-6 143h15m-13-168h15m-14 210h15m-9-56h15m-14-200h15m-11 354h15m-12-87h15m-4-237h15m-13 222h15m-6 20h15m-11-84h15m-12 180h15m-5-310h15m-14 192h15m-13-171h15m-15 252h15m-14-116h15m-12 18h15m-9-235h15m0-2h15m-6 382h15m-11-145h15m-9-172h15m-9 93h15m-12-166h15m-15 175h15m-9 211h15m-12-385h15m-13 211h15m-15 75h15m-12-56h15m-12 1h15m-13 99h15m-5-240h15m-15 129h15m-13-229h15m-7 278h15m-13-128h15m-14 28h15m-15 49h15m-10-45h15m-15 66h15m-13-34h15m-12 135h15m-6-238h15m-13-115h15m-12 312h15m-13 2h15m-15 33h15m-10 40h15m-9-81h15m-9 53h15m-2-297h15m-10-55h15m-3 63h15m-13-40h15m-14 227h15m-13-178h15m-10-72h15m-13 110h15m-13 164h15m-7-173h15m-9 221h15m-10-18h15m-11-219h15m-15 284h15m-8 4h15m-12-308h15m-11 116h15m-10 87h15m-11-173h15m-14 197h15m-13-36h15m-12 87h15m-13-333h15m-10 304h15m-11-135h15m-13 167h15m-5-224h15m-8 56h15m-11-92h15m-14 150h15m-9-210h15m-13 352h15m-7-221h15m-14 156h15m-14-71h15m-15 141h15m-14-244h15m-10 12h15m-15 224h15m-15 8h15m1-66h15m-13-236h15m-15 69h15m-14 0h15m-11-112h15m-8 267h15m-11-52h15m-13-256h15m-12 246h15m-12 114h15m-13-85h15m-10-56h15m-7-2h15m-1-125h15m-6 205h15m-10-16h15"/>
<path transform="scale(.1)" stroke="#8c78c8" stroke-width="15" fill="none" d="M1343 3722h15m-13-99h15m-11-82h15m-15 1h15m-13 170h15m-1-39h15m-13-168h15m0-48h15m-14 242h15m-14-154h15m-7-6h15m-13 45h15m-14 47h15m-14-9h15m-5-51h15m-9 104h15m-15 13h15m-1-198h15m-15 247h15m-13-294h15m-15 17h15m-12 156h15m-8 26h15m-12-110h15m-7 101h15m-12-60h15m-9 129h15m-14-246h15m-10 188h15m-13 57h15m-11-183h15m-13-45h15m-8-52h15m-11 81h15m-14 181h15m-10 35h15m-11 1h15m-14-287h15m-10 187h15m-8-175h15m-15 295h15m-13-326h15m-14 294h15m-13-308h15m-14 239h15m-11 4h15m-7-31h15m-13 22h15m-9-223h15m-13 277h15m3-66h15m-6-32h15m-14 88h15m-9-207h15m-14 273h15m-14-6h15m-10-122h15m-13 96h15m-6-159h15m-7-88h15m-4 168h15m-14-180h15m-13-52h15m-14 33h15m-13 303h15m-14-316h15m-15 280h15m-8-269h15m-15 198h15m-10-94h15m-14-100h15m-14 185h15m-8 85h15m-11-100h15m-13-160h15m-15 119h15m-15 90h15m-10 70h15m-13-220h15m-14 190h15m0 59h15m9-101h15m-14 71h15m-13-91h15m-10-201h15m3-51h15m-5 368h15m-2-314h15m-14-49h15m-14 74h15m-8 108h15m-13-164h15m-14 231h15m-11-222h15m-15 251h15m-14 23h15m-11-190h15m-11-62h15m-15 264h15m-12-303h15m-11 311h15m-5-152h15m-14-100h15m-15 197h15m-14-126h15m-10-4h15m-15 27h15m0 159h15m-13-54h15m-6-165h15m-9-5h15m-6-79h15m-12-30h15m-8 328h15m-14-37h15m-11 41h15m-14-320h15m-4 79h15m-13 7h15m-15 55h15m-15 146h15m-9-153h15m-14-41h15m-15 24h15m-11 83h15m-11-57h15m-14 196h15m-6-333h15m-15 196h15m-10-212h15m-13 88h15m-14-76h15m6 124h15m-10-92h15m-15 13h15m-14 293h15m-12-127h15m-14-215h15m-12 201h15m-7-106h15m-10 113h15m-11 130h15m-1-280h15m-13 42h15m-15 35h15m-7-12h15m-12 155h15m-6 64h15m-12-232h15m-12-125h15m-15 340h15m-10-20h15m-6-316h15m-15 126h15m-11 158h15m-10 60h15m-12 27h15m-13-98h15m-6-240h15m-14 187h15m-9 12h15m-10-40h15m-14-110h15m-14 294h15m-13-402h15m-4 387h15m-3-47h15m-14-100h15m-9 17h15m-4 31h15m-13-142h15m-15 73h15m-12-81h15m-9 3h15m-15 84h15"/>
<path transform="scale(.1)" stroke="#8c78b4" stroke-width="15" fill="none" d="M1359 3734h15m-11-59h15m1-28h15m-2-246h15m5 133h15m22 151h15m12-240h15m-13 144h15m8 99h15m18 19h15m-14-270h15m6 11h15m-4-56h15m-15 55h15m-10 292h15m-9-223h15m14 123h15m-9-19h15m-13 123h15m-1-182h15m-15 93h15m-12-9h15m-11 72h15m-5-150h15m-9 145h15m-7-175h15m-11 147h15m-14-186h15m-6 177h15m-10 54h15m-12-161h15m-4 128h15m-14-123h15m7-45h15m-14-69h15m-1 52h15m16-144h15m-15 105h15m-9-13h15m-7-31h15m-15 16h15m-15 198h15m-11-262h15m12 333h15m0-93h15m-10-60h15m-9-160h15m-9 223h15m-14-92h15m-2 175h15m-10 40h15m-11-272h15m-9 128h15m4-143h15m-15 263h15m-3-33h15m31-201h15m-15 133h15m-12 105h15m-13-76h15m-14-189h15m-13 198h15m-14 67h15m1-26h15m-5-299h15m-6 338h15m-14-29h15m-2-345h15m15 282h15m-9-98h15m-14 28h15m-14 97h15m16-16h15"/>
<path transform="scale(.1)" stroke="#6450a0" stroke-width="15" fill="none" d="M1336 3566h15m0-26h15m1 182h15m-13 16h15m13-246h15m-8 137h15m-10-64h15m-9 2h15m-2 85h15m-5-186h15m-12 24h15m15 1h15m-15 187h15m-5 71h15m0-155h15m12-199h15m0 40h15m-6-4h15m-4 79h15m-13 24h15m-12-63h15m-14-42h15m14-70h15m-12 258h15m10 68h15m-1 31h15m-11-167h15m-13 20h15m-5 71h15m-9-175h15m12-65h15m21 132h15m9-149h15m-10 51h15m-13-7h15m-12 156h15m-12-162h15m-6 167h15m-2-211h15m-14 158h15m2 33h15m-9 109h15m-7-317h15m1 289h15m5-66h15m0-142h15m-12-16h15m0 171h15m-2-124h15m17-70h15m-6 180h15m32 29h15m-11-14h15m4-105h15m-7 80h15m-13-196h15m7 45h15m-12 230h15m-12-102h15m-5 92h15m-10 94h15m-11-159h15m8-121h15"/>
<path transform="scale(.1)" stroke="#a08cc8" stroke-width="15" fill="none" d="M1326 3680h15m-5-109h15m-11-5h15m-15 83h15m-8 2h15m-10-111h15m-12 110h15m-8 27h15m22-127h15m-10 160h15m-13-289h15m11 182h15m-13-15h15m-12 140h15m-1-141h15m-2-186h15m-5 287h15m-2 20h15m-8-335h15m-15 115h15m1 175h15m-6-24h15m8-178h15m24 180h15m-10-273h15m-4 269h15m-12-80h15m4-187h15m-12 227h15m-9 99h15m-14-109h15m-13-15h15m-10-117h15m-14 57h15m-12-39h15m-14 125h15m-12 102h15m-9-337h15m-7 226h15m-13-64h15m-13 145h15m-14-146h15m-9-110h15m-14-18h15m-9-7h15m-15 309h15m-4-332h15m-12 3h15m-11 93h15m-14 185h15m-14-214h15m-11 16h15m-9 269h15m-12-211h15m-4 175h15m7-78h15m-11 93h15m4 15h15m-14-257h15m-9 61h15m-14 137h15m5-272h15m6 191h15m23 7h15m-2-39h15m-12 141h15m-13-22h15m-11-190h15m-7 41h15m-13-44h15m-14-71h15m-12-12h15m-4 246h15m-15 59h15m-9-310h15m-13 91h15m-3 168h15m7-245h15m-15 299h15m-6-276h15m-2-21h15m-12 83h15m-3 30h15m-13 152h15m-4 63h15m-14-118h15m-8-99h15m-14 75h15m-12-77h15m-12 159h15m-3-311h15m5 258h15m-8-239h15m-9 363h15m-10-330h15m8 258h15"/>
<path transform="scale(.1)" stroke="#6450b4" stroke-width="15" fill="none" d="M1341 3523h15m131 169h15m110-112h15m2-43h15m12 124h15m102-158h15m251-109h15"/>
<path transform="scale(.1)" stroke="#8c8cc8" stroke-width="15" fill="none" d="M1333 3460h15m28 155h15m529-57h15"/>
<polygon points="227.7,339.8 233.2,337.8 241,336.5 252,335.3 263.7,334.7 295.1,334.7 297.8,336.7 299,346.5 299,362.2 298.2,370.1 296.7,374 226.9,374 223.4,371.2 221.4,366.1 220.6,358.3 221,351.2 222.6,345.7 224.5,342.2" fill="#f3aa90"/>
<path transform="scale(.1)" stroke="#f08c78" stroke-width="15" fill="none" d="M2191 3608h15m-7-17h15m-14-24h15m4 47h15m-6-139h15m-13 188h15m-13-136h15m-15 41h15m-10 50h15m-12-165h15m-13 54h15m-15 115h15m-11-66h15m-14 25h15m-7-83h15m-15 206h15m-14-82h15m-11-130h15m-13-7h15m-14 212h15m-13 55h15m-11-242h15m-8-9h15m-8 207h15m-11-101h15m-13-180h15m-15 292h15m-8-102h15m-13-18h15m-12-106h15m-11-35h15m-10 268h15m-5 4h15m-14-319h15m-14 81h15m-14 62h15m-7-132h15m-14 75h15m-14 61h15m-12-56h15m-14-25h15m-15 3h15m-13 139h15m-15 6h15m-11-178h15m-12 253h15m-5-59h15m-10-124h15m-15 51h15m-11 136h15m-14-211h15m-14-31h15m-13 224h15m-14-325h15m-8 248h15m-10 11h15m-15 131h15m-14-178h15m-13 74h15m-11-272h15m-15 317h15m-12-91h15m-14-174h15m-6-68h15m-14 302h15m-14-40h15m-13 85h15m-13 12h15m-12-321h15m-15 184h15m-14 17h15m-10 140h15m-12-151h15m-12-69h15m-11 87h15m-15 14h15m-5-158h15m-15 272h15m-12-73h15m-13-70h15m-11-184h15m-15 203h15m-12-44h15m-4 58h15m-14-256h15m-7 58h15m-15 236h15m-5-40h15m-12-213h15m-15 313h15m-10-67h15m-14-153h15m-15 45h15m-11-48h15m-14 90h15m-11-149h15m-12 206h15m-10 84h15m-12-376h15m-11 288h15m-11-189h15m-14-14h15m-13 90h15m-4-132h15m-14-7h15m-9-27h15m-6 288h15m-10-98h15m-14-135h15m-15 139h15m-7 7h15m-13-94h15m-9-70h15m-13-29h15m-11 242h15m-13 19h15m-12-84h15m-14-110h15m-15 211h15m-13-67h15m-15 157h15m-14-73h15m-11-249h15m-11 215h15m-13-231h15m-13 259h15m-11-314h15m-12 212h15m-15 174h15m-11-11h15m-3-41h15m-10-301h15m-13 288h15m-13-227h15m-14 5h15m-14 292h15m-12-130h15m-10-38h15m-11 162h15m-12-37h15m-10-263h15m-10-26h15m-15 24h15m-13 204h15m-8-233h15m-10 207h15m-14-116h15m-14 18h15m-9-30h15m-14-44h15m-8-55h15m-15 183h15m-12-207h15m-12 60h15m-14 216h15m-15 29h15m-12 59h15m-12-369h15m-14 80h15m-11 104h15m-14-134h15m-12-32h15m-15 51h15m-14 110h15m-12-172h15m-13 324h15m-11-207h15m-3-78h15m-14 17h15m-14 53h15m-13 195h15m-13-314h15m-13 134h15m-13 81h15m-2 138h15m-13-255h15m-9-107h15m-14 365h15m3-291h15m-10-40h15m-13 234h15m-15 8h15m-10-238h15m-12 156h15m-15 214h15m-9-270h15m-8-35h15m-11 115h15m-11-134h15m-14 46h15m-15 198h15m-8-98h15m-11-155h15m-15 181h15m-12 48h15m-15 17h15m-7-264h15m-14 105h15m-14 207h15m-13-208h15m-14 110h15m-13 50h15m-14-175h15m-15 217h15m-6 29h15m-7-318h15m-12-10h15m-8 12h15m-11 83h15m-13 43h15m-15 32h15m-15 140h15m-13-204h15m-10 12h15m-11-13h15m-14 161h15m-14 18h15m-13 43h15m-6-249h15m-15 188h15m-14 76h15m-8-376h15m-11 324h15m-14-29h15m-12 72h15m-11-194h15m-12 135h15m-13-218h15m-1-95h15m-3 308h15m-12-252h15m-15 98h15m-1 107h15m-14 87h15m-14-337h15m-9-7h15m-2 299h15m-11-211h15m-15 149h15"/>
<path transform="scale(.1)" stroke="#f0b4a0" stroke-width="15" fill="none" d="M2216 3584h15m-10-46h15m23 162h15m-3-104h15m-4-56h15m-7-107h15m2 240h15m-13 61h15m-5-355h15m3 239h15m-2-184h15m-1 245h15m-14-74h15m13-46h15m-1 114h15m-9-84h15m-14-201h15m-11 73h15m8 233h15m-11-315h15m-9 30h15m-15 254h15m-5-245h15m-15 210h15m-13 59h15m2-228h15m1-93h15m17 168h15m-4-167h15m-10 32h15m-1 203h15m-8 100h15m-13-15h15m-10-106h15m-8-24h15m-1 37h15m-14-50h15m-14 116h15m-14-243h15m-12 279h15m-7 50h15m-10-159h15m-6-218h15m-5 277h15m-8 85h15m-10-360h15m46 64h15m4 227h15m-3 83h15m-5-254h15m13-87h15m-10 319h15m-14-214h15m-12-126h15m-11 173h15m-12 31h15m-7-103h15m-5-3h15m-10 199h15m-9-266h15m-7 145h15m-7 92h15m-8-126h15m-4 53h15m-10 144h15m-9-179h15m-12-17h15m-11-181h15m-3 47h15m33 182h15m19 80h15m0 36h15"/>
<path transform="scale(.1)" stroke="#f07864" stroke-width="15" fill="none" d="M2202 3483h15m-4 211h15m61-64h15m-14-218h15m-13 330h15m-13-354h15m2 60h15m18-7h15m24-9h15m-7 142h15m-5-187h15m26 98h15m-7 125h15m-10-168h15m-12 142h15m78-81h15m-5-52h15m-14 241h15m-11-88h15m-1 119h15m-12-61h15m-10-72h15m-10 31h15m-13-157h15m-14 118h15m-8-87h15m-8-146h15m-8 210h15m25-216h15m-3 306h15m-9-271h15m-15 256h15m-10-72h15m-14-54h15m-3 86h15m-7-191h15m-15 302h15m-12-233h15m-3-41h15m-13-92h15m-10 206h15m10 111h15m-2-135h15m-1-83h15m-9 206h15m0-265h15m-7-29h15m-14 46h15m-1 27h15m-14 40h15m29 161h15m-3-16h15m4 92h15m-4-115h15m-7-92h15m-12 254h15m-10-343h15m6 146h15m7-5h15m-13-184h15m-5 186h15m-13 8h15"/>
<path transform="scale(.1)" stroke="#f0a08c" stroke-width="15" fill="none" d="M2204 3499h15m-11 14h15m-4 139h15m-10-201h15m-10 4h15m-14 118h15m-9-71h15m-13 137h15m-13 23h15m-7-211h15m-15 37h15m-9-63h15m-15 214h15m-13 57h15m-12-159h15m-13 22h15m-15 187h15m-14-121h15m-12-162h15m-15 171h15m-12 15h15m-13-98h15m-14-29h15m-14-68h15m-14-11h15m-12 115h15m-13-48h15m-12 230h15m-14-180h15m-14-54h15m-6 221h15m-13-2h15m-13 7h15m-13-286h15m-11-67h15m-13 354h15m-13 15h15m-13-52h15m-13 2h15m-6-294h15m-11-7h15m-13 178h15m-9-180h15m-12-7h15m-14 115h15m-13-124h15m-12 239h15m-12-118h15m-4 53h15m-15 187h15m-7-319h15m-5 129h15m-9 142h15m-14-61h15m-11-110h15m-12-13h15m-14-132h15m-12-17h15m-15 350h15m-14-167h15m-11 69h15m-13-23h15m-14-225h15m-7 105h15m-13 219h15m-9-250h15m-14 242h15m-14-36h15m-15 79h15m-14-136h15m-9-192h15m-15 76h15m-11 38h15m-14-37h15m-13 18h15m-14 37h15m-10 16h15m-14-155h15m-15 152h15m-15 127h15m-13-224h15m-13 158h15m-14-26h15m-14-213h15m-13 190h15m-6-64h15m-12 17h15m-15 120h15m-13 73h15m-14-176h15m-6-93h15m-10 108h15m-15 24h15m-15 161h15m-10-165h15m-14-68h15m-13 132h15m-11-164h15m-14 246h15m-9-193h15m-11-30h15m-13-115h15m-14 230h15m-14-43h15m-12 202h15m-14-248h15m-13-13h15m-15 148h15m-12-52h15m-12-39h15m-13 97h15m-12-235h15m-15 175h15m-13 118h15m-11-61h15m-14-127h15m-13 124h15m-12-175h15m-15 31h15m-11-103h15m-11 128h15m-13-50h15m-14 128h15m-12-246h15m-15 201h15m-13-17h15m-14-87h15m-15 16h15m-12 79h15m-12 98h15m-9-262h15m-5 20h15m-15 104h15m-11 213h15m-14-74h15m-8-211h15m-13 116h15m-14 24h15m-13 16h15m-12 148h15m-12-293h15m-14 238h15m-15 27h15m-13-359h15m-11 378h15m-9-286h15m-13 107h15m-15 76h15m-12-118h15m-15 113h15m-12-212h15m-14 57h15m-15 138h15m-14 39h15m-14-303h15m-11 293h15m-14-75h15m-11 183h15m-13-226h15m-15 25h15m-11 33h15m-12-37h15m-14 125h15m-11-313h15m-14 73h15m-15 72h15m-15 20h15m-12 145h15m-12-128h15m-10-118h15m-15 342h15m-11-300h15m-14 267h15m-14-260h15m-13-116h15m-15 365h15m-12-334h15m-15 26h15m-14 15h15m-14 84h15m-12 177h15m-11-204h15m-13-21h15m-15 178h15m-14-181h15m-14 148h15m-15 7h15m-14 33h15m-14-275h15m-13 368h15m-13-228h15m-15 93h15m-12 72h15m-11-11h15m-13-264h15m-15 297h15m-14-245h15m-13 200h15m-13-67h15m-15 135h15m-14-323h15m-15 142h15m-13 79h15m-14-165h15m-15 190h15m-13-120h15m-10 222h15m-14-341h15m-12 142h15m-14 33h15m-12 161h15m-13-62h15m-14-313h15m-15 78h15m-15 96h15m-12 142h15m-14-69h15m-11 22h15m-10-237h15m-12-19h15m-12 244h15m-15 90h15m-13-62h15m-14 110h15m-11-98h15m-13 25h15m-12-250h15m-13 291h15m-10-233h15m-14 84h15m-15 108h15m-15 31h15m-13-79h15m-11 55h15m-8-325h15m-15 65h15m-15 256h15m-12-147h15m-10-27h15m-12 19h15m-11 44h15m-14-73h15m-14 193h15m-14 24h15m-13-98h15m-13-176h15m-14 254h15m-14 47h15m-14-341h15m-14 343h15m-13-34h15m-11-355h15m-5 127h15m-7 85h15m-8-65h15m-15 239h15m-14-321h15m-14 15h15m-15 77h15m-13 52h15m-15 91h15m-11 98h15m-9-26h15m-14-382h15m2 373h15m-14-256h15m-10 195h15m-15 40h15m-12-255h15m-14 59h15m-14-150h15m-13 2h15m-15 229h15m-15 55h15m-12-268h15m-10 261h15m-10-76h15m-15 58h15m-14-136h15m-14-18h15m-15 78h15m-12 71h15m-12-267h15m-14 22h15m-12 23h15m-7 359h15m-14-157h15m-13 18h15m-14-129h15m-11 169h15m-8-16h15m-14-109h15m-13-169h15m-14 201h15m-13 28h15m-14-197h15m-15 141h15m-11-23h15m-11-121h15m-13 225h15m-15 102h15m-14-232h15m-15 15h15m-14 101h15m-12-229h15m-15 382h15m-12-234h15m-12 12h15m-12 210h15m-11-116h15m-13-202h15m-11-6h15m-14 190h15m-13 38h15m-15 3h15m-5 67h15m-12-19h15m-8-48h15m-10 57h15m-11-26h15m-13-180h15m-14 132h15"/>
<path transform="scale(.1)" stroke="#f0b48c" stroke-width="15" fill="none" d="M2216 3464h15m-14 157h15m-14 79h15m-13 6h15m-14-134h15m15 77h15m-10-226h15m-8-20h15m-7 277h15m4-220h15m-15 55h15m-7-114h15m-9 192h15m-8-175h15m-11 174h15m8 116h15m13 28h15m-14-102h15m-13 116h15m-12-245h15m17 168h15m38-115h15m17-72h15m9-123h15m-15 99h15m11 227h15m4-22h15m-14-228h15m-9 283h15m-14-13h15m-4-9h15m-4-101h15m-9 89h15m-11-79h15m-9-143h15m4 224h15m-7-80h15m-13-189h15m-14 97h15m-13-112h15m-13-47h15m-15 255h15m-13 37h15m18-299h15m-8 365h15m-14 28h15m2-40h15m21-128h15m3 31h15m-15 100h15m-4-4h15m-3-268h15m-7 212h15m-1 95h15m-12-343h15m-3 112h15m-1-135h15m-13 233h15m-14-9h15m61 123h15m48-287h15m-6-75h15"/>
<path transform="scale(.1)" stroke="#ffdcc8" stroke-width="15" fill="none" d="M2190 3597h15m-13-36h15m-9 25h15m-15 35h15m-11-124h15m-4-22h15m-13 117h15m-13-124h15m-5 8h15m-13 223h15m-12-238h15m-15 221h15m-13-82h15m-15 101h15m-14-3h15m-13-56h15m-14-156h15m-15 149h15m-14-115h15m-14-63h15m-15 239h15m-11-4h15m-14-181h15m-15 30h15m-14-32h15m-14-51h15m-11-24h15m-15 277h15m-14-50h15m-12-259h15m-12 197h15m-14-180h15m-15 19h15m-15 258h15m-14-199h15m-13 67h15m-13 27h15m-13-158h15m-14 107h15m-12 142h15m-13-106h15m-13 81h15m-13-256h15m-13 176h15m-15 15h15m-13 89h15m-14-257h15m-11 94h15m-15 202h15m-6-18h15m-10-134h15m-14-6h15m-15 119h15m-13-7h15m-14-157h15m-14-121h15m-15 46h15m-11 194h15m-14-7h15m-8 97h15m-13-108h15m-10-9h15m-15 31h15m-14-223h15m-15 233h15m-14-125h15m-12 227h15m-10-188h15m-15 23h15m-15 116h15m-12-22h15m-11 65h15m-12-3h15m-11-258h15m-13 186h15m-14-178h15m-13-23h15m-13 108h15m-14-33h15m-14-80h15m-12-42h15m-11 63h15m-15 127h15m-14-121h15m-13-15h15m-14 227h15m-14-46h15m-14-137h15m-15 195h15m-15 32h15m-6-353h15m-10 274h15m-11 32h15m-14-35h15m-12-85h15m-12 73h15m-13-202h15m-11 57h15m-10-93h15m-15 151h15m-15 124h15m-14-45h15m-12-84h15m-14-25h15m-15 110h15m-14-101h15m-14-190h15m-14 352h15m-14-111h15m-14-241h15m-15 11h15m-12 208h15m-15 80h15m-11-51h15m-15 35h15m-14-234h15m-10 136h15m-14-120h15m-14 248h15m-14 62h15m-14-257h15m-10-12h15m-14 8h15m-14 56h15m-9-125h15m-13 19h15m-10 27h15m-15 193h15m-12-221h15m-15 251h15m-12 21h15m-14-253h15m-10 215h15m-14-254h15m-13 184h15m-15 8h15m-14 104h15m-14-73h15m-10-267h15m-15 6h15m-15 121h15m-9-2h15m-11-91h15m-15 35h15m-15 150h15m-14 58h15m-14-278h15m-14 302h15m-14-18h15m-14-287h15m-15 223h15m-15 140h15m-11-81h15m-13 83h15m-14-239h15m-15 73h15m-12 34h15m-15 156h15m-14-333h15m-13 27h15m-14 159h15m-15 83h15m-9-324h15m-15 347h15m-15 43h15m-14-170h15m-15 163h15m-14-214h15m-14 188h15m-11-286h15m-11-49h15m-14 298h15m-14-287h15m-14 126h15m-15 33h15m-15 183h15m-14-127h15m-13 26h15m-14-244h15m-15 197h15m-14 21h15m-13-22h15m-15 16h15m-13-41h15m-13-179h15m-10 264h15m-15 47h15m-12-337h15m-15 159h15m-14 134h15m-14-169h15m-15 38h15m-13 207h15m-14-71h15m-14-237h15m-15 30h15m-14-27h15m-15 59h15m-14-7h15m-9-84h15m-14 14h15m-13-49h15m-14 239h15m-9 22h15m-14-106h15m-10 44h15m-14 178h15m-14-135h15m-15 117h15m-13-222h15m-14 265h15m-11-68h15m-14-32h15m-14-14h15m-14-270h15m-14 211h15m-15 90h15m-15 39h15m-14-284h15m-14 253h15m-10-167h15m-11 63h15m-15 179h15m-14-27h15m-12-302h15m-15 20h15m-15 284h15m-14-92h15m-13 29h15m-12-99h15m-14 2h15m-13-141h15m-15 197h15m-13-242h15m-14 48h15m-15 59h15m-14-23h15m-15 132h15m-12 134h15m-9-335h15m-15 18h15m-13-64h15m-15 228h15m-15 9h15m-14 53h15m-14 104h15m-14-339h15m-14-53h15m-15 126h15m-10-70h15m-13 5h15m-14 122h15m-12 168h15m-15 8h15m-12-5h15m-13-324h15m-14 255h15m-14-220h15m-8 131h15m-14 34h15m-12-170h15m-11 95h15m-15 88h15m-12 17h15m-14-154h15m-13 259h15m-13-368h15m-12 306h15m-15 38h15m-14-280h15m-15 132h15m-14-99h15m-13-1h15m-14 1h15m-14 16h15m-14 68h15m-15 96h15m-12-129h15m-11-81h15m-13-17h15m-15 339h15m-6-163h15m-14 171h15m-14-176h15m-12 94h15m-10-38h15m-14-191h15m-12 205h15m-15 41h15m-15 5h15m-14-121h15m-14-149h15m-15 74h15m-15 248h15m-14-257h15m-11-121h15m-13 251h15m-13-245h15m-13 196h15m-15 161h15m-14-51h15m-11-253h15m-14-13h15m-13 28h15m-14 118h15m-14-83h15m-15 115h15m-11 149h15m-14-199h15m-10-82h15m-7 111h15m-13-149h15m-15 181h15m-14 150h15m-14-395h15m-15 221h15m-13-25h15m-15 204h15m-14-324h15m-15 210h15m-15 123h15m-14-159h15m-14 53h15m-13-7h15m-14-262h15m-12 332h15m-11-214h15m-14-26h15m-15 257h15m-13-358h15m-15 101h15m-13 273h15m-14-9h15m-9-115h15m-12 19h15m-10-77h15m-15 162h15m-14-99h15m-13-69h15m-12-29h15m-14-125h15m-9 73h15m-15 20h15m-10-144h15m-14 178h15m-13 57h15m-12 130h15m-11-224h15m-13 200h15m-15 39h15m-13-338h15m-15 32h15m-15 212h15m-13-8h15m-13-247h15m-14 90h15m-11-100h15m-12-16h15m-15 45h15m-13-59h15m-14 128h15m-14 114h15m-15 27h15m-13-266h15m-14 13h15m-14 152h15m-14 206h15m-14 18h15m-14-366h15m-14 86h15m-15 223h15m-13-110h15m-15 136h15m-12-26h15m-14-230h15m-14 71h15m-15 59h15m-14-168h15m-15 52h15m-15 161h15m-13-20h15m-14-211h15m-13-20h15m-10 118h15m-15 27h15m-12-134h15m-15 322h15m-13-272h15m-10 212h15m-14-205h15m-13 17h15m-15 207h15m-14-313h15m-15 118h15m-15 219h15m-14-43h15m-10-142h15m-14 169h15m-14 7h15m-13-227h15m-13 176h15m-14-250h15m-15 317h15m-14-249h15m-14-102h15m-14 100h15m-14 160h15m-15 143h15m-12-153h15m-12 45h15m-14 85h15m-13-214h15m-9 115h15m-11 76h15m-14-279h15m-13 97h15m-13-49h15m-15 202h15m-12-155h15m-14-140h15m-14 195h15m-13-24h15m-14 20h15m-15 11h15m-13-38h15m-15 142h15m-13-302h15m-15 220h15m-14 142h15m-13-78h15m-11-128h15m-15 169h15m-14-213h15m-13-119h15m-13 181h15m-15 111h15m-15 52h15m-13-356h15m-15 113h15m-7-112h15m-15 308h15m-12-253h15m-15 6h15m-14-27h15m-14 128h15m-12 63h15m-14-22h15m-15 141h15m-14-21h15m-15 1h15m-8-286h15m-15 66h15m-11 275h15m-14-384h15m-13 90h15m-14 50h15m-14 58h15m-15 163h15m-14-239h15m-15 156h15m-9-91h15m-15 126h15m-14-154h15m-15 132h15m-12-62h15"/>
<path transform="scale(.1)" stroke="#f08c64" stroke-width="15" fill="none" d="M2195 3596h15m-6 39h15m-12-156h15m17 21h15m0 36h15m-15 7h15m2-116h15m31 171h15m-7 13h15m-10-171h15m-6 4h15m33 95h15m-10-68h15m-6 263h15m31 5h15m-14-80h15m-8-35h15m11-140h15m-4 197h15m4-73h15m-4 89h15m-4-155h15m1 52h15m-2 16h15m70-89h15m0 198h15m4-318h15m-8 105h15m-8 37h15m3-76h15m-15 121h15m58 66h15m-6-280h15m-9 137h15m-5 98h15m5 89h15m-6-215h15m-3 172h15m-12-3h15m-12-40h15m-3 92h15m-2-52h15m29 100h15m-10-329h15m-14 60h15m-12 26h15m-15 226h15"/>
<path transform="scale(.1)" stroke="#f0a078" stroke-width="15" fill="none" d="M2277 3621h15m36-205h15m269 61h15m102-35h15"/>
<polygon points="46.8,417.6 52.4,415.6 60.3,414.2 71.4,413.1 83.3,412.5 115,412.5 117.8,414.4 119,424.2 119,439.8 118.2,447.6 116.6,451.5 46.1,451.5 42.5,448.8 40.5,443.7 39.7,435.9 40.1,428.9 41.7,423.4 43.7,419.9" fill="#fdf3f0"/>
<path transform="scale(.1)" stroke="#f0dcdc" stroke-width="14" fill="none" d="M410 4262h14m6 12h14m-13-29h14m-14 72h14m11 163h14m-12-207h14m-8-21h14m-13 235h14m2-261h14m11-6h14m-5 58h14m-11 145h14m-10-124h14m-13 39h14m-10 64h14m-14 21h14m4 27h14m-9-293h14m-13 365h14m-13-70h14m-8-106h14m-11-7h14m-4 48h14m-11-136h14m1 135h14m-14 127h14m-10 6h14m-6-73h14m-10-41h14m-11 36h14m-9 16h14m12-114h14m6 168h14m-2-39h14m-5-162h14m-6 81h14m-10-21h14m-8 95h14m-11-124h14m-9 117h14m17 32h14m-6-87h14m3 6h14m-10-70h14m21 48h14m-10 141h14m-13-324h14m-14 168h14m-11-17h14m-1 38h14m-7-1h14m-9-70h14m-3 5h14m8 97h14m-13-66h14m-11 57h14m-8 96h14m-6-319h14m-14 234h14m-10 79h14m10-100h14m-12 81h14m-11 17h14m-6-140h14m-9 90h14m-9 23h14m-7-253h14m-10 221h14m7 77h14m-9-117h14m4-70h14m-9-91h14m-13 129h14m-4 4h14m-13-127h14m13 125h14m-11 35h14m-5 88h14m-8-131h14m-3-104h14m-5 128h14m-3-81h14m6-124h14m-9 166h14m2 65h14m-3-164h14m-14 130h14m-6 123h14m-9-366h14m-13 263h14m-10-169h14m-13 204h14m12-75h14m-9-17h14"/>
<path transform="scale(.1)" stroke="#ffdcdc" stroke-width="14" fill="none" d="M399 4362h14m3 101h14m16-108h14m-8 93h14m1-26h14m-13-62h14m-3 20h14m-9 93h14m-12-180h14m-10 233h14m19-6h14m2-98h14m-6-271h14m-8 197h14m-12-78h14m-8-67h14m-12 197h14m0-159h14m2 263h14m19-164h14m3 184h14m-5-370h14m20 76h14m0-38h14m7 260h14m0-331h14m9 63h14m-9 163h14m-14 134h14m-10 44h14m-9-97h14m17-305h14m-12 357h14m-12 12h14m-10-271h14m-13 177h14m34-79h14m41-113h14m34 109h14m-2 149h14m9-320h14m-7 354h14m-10-88h14m13-206h14m-2 123h14m-4 73h14m-6-198h14m-5 298h14m-9-335h14m-14 127h14m-8 141h14m35-80h14m21 149h14"/>
<path transform="scale(.1)" stroke="#f0b4a0" stroke-width="14" fill="none" d="M388 4380h14m2 58h14m-2-63h14m-7-166h14m-13 288h14m-6 9h14m0-96h14m-1-181h14m-11 233h14m-13-35h14m-12 23h14m-11-69h14m-8 36h14m-12-180h14m-4 182h14m8-252h14m-5 346h14m0-139h14m-10-6h14m13 153h14m-11-285h14m-13 236h14m-6-231h14m-1 214h14m-8-194h14m-14 256h14m-12-259h14m-13-14h14m-11-75h14m-11 159h14m-10-34h14m-2 82h14m-2-162h14m-10 265h14m8-236h14m-6-43h14m-14 180h14m-3 98h14m-5-299h14m-14 315h14m-5-100h14m3 9h14m-6-13h14m0-82h14m-12 157h14m14-238h14m-4 114h14m-13 185h14m6-9h14m1-114h14m-1-52h14m0 138h14m-3-240h14m4 233h14m3-51h14m-10-230h14m2 9h14m0 265h14m-10-61h14m-13 27h14m-13-44h14m-12-21h14m-13-20h14m-7 136h14m5 32h14m-13-115h14m-10-50h14m-9 40h14m8 116h14m-3-18h14m17-262h14m-8 124h14m-14 125h14m-12-102h14m-10 5h14m-11 3h14m-11 136h14m7-321h14m18 110h14m-4-27h14m-12 118h14m-13 68h14m-4-283h14m-14 269h14m-11 25h14m-14 20h14m-14 17h14m-9-31h14m2-276h14m-8 215h14m-13-266h14m8 312h14m-5-113h14m-12-197h14m-11 245h14m-12-12h14m-14 37h14m-12 17h14"/>
<path transform="scale(.1)" stroke="#fff0dc" stroke-width="14" fill="none" d="M424 4325h14m-7 3h14m30 67h14m5-38h14m-6 94h14m-5 75h14m8-5h14m3-193h14m-8-175h14m36 282h14m42-38h14m-11-149h14m4 258h14m-7-30h14m-12-139h14m-8-141h14m0 281h14m-8 15h14m-8 20h14m0-374h14m19 72h14m-7 37h14m16-125h14m-11 181h14m10-2h14m10 200h14m-12-56h14m-10-292h14m-5 346h14m15-324h14m-8 281h14m24-208h14m-11 153h14m13-206h14m-10 237h14m52-232h14m-12 315h14m-10-254h14m-8 28h14m-6 188h14m40 5h14m-7-24h14m0-326h14m0 236h14"/>
<path transform="scale(.1)" stroke="#f0b4b4" stroke-width="14" fill="none" d="M388 4403h14m-7-52h14m14 115h14m6-107h14m-9-150h14m-7 219h14m-3-60h14m4 101h14m-13 53h14m-10-157h14m2-207h14m-14 239h14m-14 20h14m-11-45h14m3 95h14m-13-114h14m-13 51h14m-13-157h14m-13 258h14m-11-55h14m-6-90h14m-12 15h14m-12-108h14m-1 201h14m5-206h14m-7 103h14m-5 156h14m-2-88h14m5 43h14m21 23h14m-9-311h14m-5-17h14m-5 213h14m5 13h14m-7-12h14m-4-88h14m0 86h14m0 111h14m-10-159h14m-12 130h14m5-118h14m-8-40h14m-9 108h14m-11-192h14m-9 112h14m-12 129h14m-8-153h14m-13 214h14m-10-109h14m-4-57h14m-8-176h14m-8 214h14m-11-160h14m15 285h14m-7-73h14m9 43h14m-10-10h14m-11 14h14m-12-113h14m-5 116h14m-11-261h14m-13 184h14m-12-48h14m-6 70h14m-8-145h14m0 219h14m-7-277h14m-10 137h14m-5-70h14m-10 53h14m-11 144h14m-8-35h14m-11-355h14m-13 71h14m-12 263h14m7-264h14m-10-37h14m-3 191h14m-1-20h14m-12 171h14m-2-368h14m-10 317h14m-10-308h14m-13 364h14m-7-102h14m-5 89h14m-9-291h14m6 90h14m6 121h14m-5-44h14m15 117h14m8-43h14m-8 88h14m-12-67h14m-13-255h14m-10-14h14m-13 192h14m-12 79h14"/>
<path transform="scale(.1)" stroke="#f0dcc8" stroke-width="14" fill="none" d="M415 4364h14m-13-24h14m-7-97h14m-13 18h14m3-45h14m-6 291h14m3-315h14m-13 262h14m-4-198h14m-3 152h14m-13 60h14m-9-112h14m0-1h14m-12 37h14m-14 108h14m8 25h14m5-193h14m-10 56h14m-13 93h14m-1 45h14m-7-309h14m-3 137h14m9 7h14m11 111h14m28-127h14m-5 64h14m-5 74h14m-4-291h14m-4 253h14m-13 51h14m-7-62h14m-11-141h14m27 209h14m-9-211h14m-10 19h14m17-19h14m8 41h14m-6-98h14m-1 52h14m12 226h14m-5-290h14m-8-105h14m-4 354h14m-12-46h14m7-142h14m-11-56h14m-14 189h14m-5 84h14m-8-86h14m-10-283h14m-10 171h14m-3-144h14m6 363h14m-12-121h14m-10-62h14m2-202h14m-9 232h14m9-64h14m-1 102h14m6-68h14m-12-13h14m18 152h14m-5-244h14m-14 54h14m-13 70h14m-13 120h14m-10-142h14m-8-202h14m-4 269h14m-6 34h14m-4 70h14m-4-1h14m-9-163h14m-7 48h14m-5-207h14"/>
<path transform="scale(.1)" stroke="#fff0f0" stroke-width="14" fill="none" d="M406 4450h14m-7-153h14m3-7h14m-10 2h14m-1-23h14m3 213h14m-8-249h14m-8 107h14m-11 21h14m-10 24h14m-13-3h14m20-49h14m6-168h14m-1 235h14m-8 25h14m0-47h14m-13 50h14m4-277h14m-1 39h14m-2 201h14m0-185h14m-9-18h14m-14 232h14m21-145h14m-4 109h14m-8 94h14m0-69h14m8 72h14m-4-98h14m46 138h14m6-339h14m5 121h14m49 101h14m0 83h14m-8-52h14m70-142h14m15 51h14m-10 62h14m2-194h14m8-71h14m-6 35h14m-8 97h14m-12-158h14m-9 160h14m-7 205h14m36-171h14m-12-79h14m-13 31h14m-10 181h14m-3-45h14m-7-204h14m-6 296h14m-13-159h14m-13-176h14"/>
<path transform="scale(.1)" stroke="#f0f0f0" stroke-width="14" fill="none" d="M433 4253h14m34 40h14m104 162h14m87-210h14m32-71h14m-9 126h14m-8-51h14m1 110h14m40-142h14m24-64h14m15 137h14m188-108h14m21 38h14m-6 68h14"/>
<path transform="scale(.1)" stroke="#f0dcf0" stroke-width="14" fill="none" d="M822 4210h14m206-94h14m23 142h14"/>
<path transform="scale(.1)" stroke="#f0c8c8" stroke-width="14" fill="none" d="M397 4383h14m-2 6h14m-13 111h14m-9-68h14m-8-163h14m0 104h14m-11 67h14m-12 62h14m-9-4h14m-8-206h14m-10 99h14m0-140h14m-14 95h14m-14 87h14m-10 82h14m-7-120h14m-8-127h14m-8 110h14m-7 58h14m-12-139h14m-10 67h14m-10 70h14m-3-210h14m-14 274h14m-5-151h14m-3 154h14m-12-62h14m-11-226h14m-11-61h14m-8 318h14m-12-303h14m-13 188h14m-13 74h14m-10-134h14m-5 14h14m-2 38h14m-2 25h14m-8 70h14m-14 84h14m-1-1h14m-12-248h14m-4 234h14m-3-27h14m-5-128h14m-12-125h14m-12-92h14m-12 267h14m-14 38h14m-11-113h14m-12-81h14m-8-120h14m-14 359h14m-13-233h14m2 50h14m-10 152h14m7-190h14m-14 29h14m-12 204h14m-7-211h14m-1 161h14m-12-34h14m-11-67h14m-11 77h14m18-232h14m-9 106h14m-5 135h14m-14 73h14m-7-127h14m0 67h14m-13-176h14m-8 172h14m-10 44h14m0-89h14m-12 39h14m-7 11h14m-12 11h14m-12 43h14m-9-97h14m-11 45h14m2-182h14m-14 2h14m-14 138h14m-9-56h14m-6 68h14m-9 44h14m-14 55h14m-13-224h14m-1 46h14m-3 174h14m-6-103h14m-12 98h14m-6-191h14m-12 203h14m-2-151h14m-2 117h14m-11-120h14m-12 139h14m-12-100h14m-5-72h14m-2 54h14m-10-119h14m8-63h14m-14 153h14m0 128h14m-12-93h14m-12-37h14m-13 133h14m-13-60h14m-14 19h14m-13-268h14m-4 231h14m-5-137h14m-8 229h14m-13-350h14m-13 251h14m-11-242h14m-6 355h14m-4-112h14m8-118h14m-8-73h14m-10 234h14m-10-235h14m-8-35h14m-8 3h14m6-27h14m-12 242h14m-4 91h14m-12-186h14m-7 170h14m-10 1h14m-12-134h14m9-40h14"/>
<path transform="scale(.1)" stroke="#f0c8b4" stroke-width="14" fill="none" d="M390 4422h14m-8-22h14m-2 61h14m3-238h14m-7 154h14m10 124h14m-11-13h14m-12-12h14m-2-43h14m-11-48h14m-10 98h14m4-34h14m17 29h14m4-183h14m-10 136h14m-9 36h14m-9-176h14m-13-52h14m-13 86h14m-7-176h14m-9 363h14m-12-252h14m-4 183h14m30-71h14m-14 2h14m-4-99h14m-13 164h14m-2-108h14m-12 158h14m-10-9h14m-13-17h14m-10-55h14m-8-240h14m2 200h14m-7-231h14m-3 277h14m-13-2h14m-12 19h14m-12 24h14m1-194h14m-10 110h14m-4 96h14m-6-309h14m3 53h14m-11 314h14m4-144h14m-4-176h14m28 83h14m-4 27h14m-13 49h14m-2 129h14m14-332h14m-6 287h14m-11-12h14m16 44h14m8-158h14m-11-19h14m-12 29h14m-11 9h14m2 155h14m-1-264h14m8 274h14m-6-1h14m-5-128h14m-12-12h14m-9-171h14m-6 31h14m-14 178h14m-1-15h14m4 73h14m-10 48h14m8-124h14m-8-88h14m-13-42h14m-5 259h14m-4-191h14m1 126h14m-13-13h14m6-44h14m-10-115h14m-14 80h14m-13-220h14m-7 103h14m4 174h14"/>
<path transform="scale(.1)" stroke="#dcc8f0" stroke-width="14" fill="none" d="M461 4451h14m67-298h14m193 34h14m175-57h14m60 250h14m51-165h14"/>
<path transform="scale(.1)" stroke="#dcdcf0" stroke-width="14" fill="none" d="M463 4295h14m-11 34h14m49-122h14m68 17h14m13-52h14m-10 40h14m43-19h14m33 21h14m163 115h14m-12 170h14m8-365h14m19 32h14m0 27h14m-7 73h14m19 61h14m0-54h14m-13-40h14m2-109h14m-11-7h14m3 205h14m7-108h14m-12 9h14m63 201h14m-11-235h14"/>
<path transform="scale(.1)" stroke="#c8c8f0" stroke-width="14" fill="none" d="M414 4387h14m121-10h14m121 8h14m-7-88h14m57 130h14m14-212h14m-10-80h14m2 205h14m17-130h14m90-50h14m-11 118h14m-12-20h14m3-32h14m95 11h14m42 139h14"/>
<polygon points="137.1,416.6 142.8,414.7 151,413.3 162.5,412.2 174.8,411.6 207.6,411.6 210.5,413.5 211.7,423.3 211.7,438.8 210.9,446.6 209.2,450.5 136.3,450.5 132.6,447.8 130.5,442.7 129.7,434.9 130.1,427.9 131.8,422.5 133.8,419" fill="#fefbfa"/>
<path transform="scale(.1)" stroke="#f0c8c8" stroke-width="14" fill="none" d="M1298 4359h14m15 94h14m9-147h14m-12 212h14m32-52h14m-4-107h14m4-105h14m-5 6h14m17 85h14m3-110h14m-10 228h14m-7-166h14m33-15h14m-8 78h14m-13-197h14m5 177h14m-11-85h14m-13-89h14m-14 291h14m-12-223h14m-7 266h14m-5-58h14m2 10h14m-13-273h14m-14 24h14m-5 173h14m-4-46h14m1 104h14m-7-11h14m-9 24h14m-10-323h14m-8 322h14m1-111h14m29 75h14m-7-52h14m1-159h14m0 213h14m-12-296h14m-10 46h14m-10 277h14m-8-258h14m-2 136h14m-7 113h14m-7-218h14m-10 38h14m7-60h14m-12 133h14m-4-171h14m-2 210h14m-3-225h14m-13 370h14m-6-224h14m15-145h14m15 171h14m-7 126h14m-6 67h14m-9-65h14m-12-99h14m18 63h14m-9-161h14m41 219h14m-12-147h14m-6 28h14m-9 86h14m1-206h14m-11 206h14m5-144h14m7 0h14m-12 163h14"/>
<path transform="scale(.1)" stroke="#f0b4b4" stroke-width="14" fill="none" d="M1293 4402h14m-7 49h14m2 28h14m10-60h14m-5-251h14m-4 54h14m-9 89h14m0-36h14m-4-111h14m-13 238h14m4-35h14m-6 108h14m36-240h14m-7 98h14m-14 45h14m20-210h14m1 323h14m-6-297h14m7 297h14m-1-182h14m5-48h14m19-4h14m23 112h14m35-101h14m0-145h14m-4 10h14m11 220h14m1-24h14m5-46h14m19 235h14m-9-270h14m-6 165h14m-2-298h14m65 180h14m2-43h14m-7 186h14m-13 32h14m-11-289h14m3 28h14m-3 255h14m5-173h14m-14 127h14m3-35h14m-7-254h14m-10 356h14m28-79h14m-2 37h14m-12-98h14m-7 7h14m-7-111h14m-10 210h14"/>
<path transform="scale(.1)" stroke="#f0c8b4" stroke-width="14" fill="none" d="M1303 4396h14m-8 19h14m-11-11h14m14-100h14m-10 125h14m0 54h14m-8-106h14m-3-26h14m17-185h14m4 275h14m8-228h14m11 259h14m16-320h14m4 140h14m0 221h14m-9-101h14m-10-178h14m74-2h14m-14 178h14m-7 27h14m-13-221h14m-1 120h14m1-220h14m-6 285h14m-12 100h14m1-114h14m22 53h14m-8-77h14m-12 122h14m-10-139h14m23-108h14m10 165h14m-9 97h14m12 6h14m-7-198h14m-5 28h14m2 129h14m4-110h14m5 78h14m17-140h14m-8 144h14m1-184h14m-2 234h14m5-30h14m4-271h14m-6 303h14m9-113h14m-10-59h14m7-64h14m-8-30h14m-7 168h14m-1 106h14m-13-224h14m-3 7h14m4 30h14m-6-22h14"/>
<path transform="scale(.1)" stroke="#f0b4a0" stroke-width="14" fill="none" d="M1311 4223h14m-8 15h14m-6 70h14m-9 136h14m-5-38h14m1-132h14m4-40h14m-14 150h14m14-232h14m-11 292h14m-14 57h14m-5-63h14m-10-50h14m20-76h14m1 175h14m1-23h14m-10-16h14m-6-294h14m-13 31h14m-8 160h14m-3 112h14m-8-158h14m5-50h14m-9 156h14m-10-117h14m-6-148h14m11 10h14m21 353h14m-3-215h14m-2-16h14m-4-124h14m5 363h14m-13-237h14m-12-83h14m-1 81h14m-6 113h14m-13 97h14m11-36h14m-1-28h14m-8 9h14m-10-69h14m1 33h14m-11-115h14m-8-14h14m-2 101h14m-13-114h14m-3 205h14m-8-97h14m-13 120h14m24-22h14m-11-35h14m2-182h14m33 277h14m0-32h14m-6-307h14m-13 6h14m-13-24h14m-5 240h14m2 90h14m-8-287h14m3 267h14m-5 14h14m-12-125h14m-1-97h14m-13-34h14m-12 243h14m-4-108h14m-4 13h14m-7-43h14m8 104h14m-6-30h14m-3-52h14m27 32h14m-5 6h14m-10-29h14"/>
<path transform="scale(.1)" stroke="#f0dcdc" stroke-width="14" fill="none" d="M1312 4310h14m4-13h14m-14 43h14m-10-36h14m-13 0h14m3 190h14m2-21h14m13-106h14m18 94h14m-6-63h14m-13-179h14m-11-60h14m12 72h14m-10 19h14m-10 63h14m-13 91h14m-6-25h14m11-56h14m-4-168h14m5 300h14m5 32h14m5-358h14m-8 238h14m-14 43h14m-13-67h14m-4 51h14m-10-135h14m-6-55h14m-11 120h14m2-142h14m7 268h14m56-34h14m-2-91h14m-3-120h14m-9 181h14m7-197h14m-4-15h14m-6 238h14m-11-191h14m-9 124h14m3-141h14m-13 301h14m-11-213h14m-1-99h14m-14 241h14m-7-247h14m-7 81h14m19-76h14m-13 134h14m23 9h14m25 48h14m0-221h14m-12-55h14m0 59h14m-8 202h14m-12 71h14m-4 5h14m-11-7h14m2-93h14m-10 97h14m10-73h14m-1 55h14m-14 1h14m-13 1h14m-5 2h14m-13 11h14m-13-43h14m-10-6h14m-14 92h14m4-200h14m11-54h14m-13 71h14"/>
<path transform="scale(.1)" stroke="#f0a08c" stroke-width="14" fill="none" d="M1293 4386h14m-2-119h14m-10-4h14m12 26h14m4 182h14m-10-197h14m-7 64h14m-5-170h14m-8 311h14m-3-109h14m-2-70h14m-6-74h14m-11 221h14m12-143h14m-12 25h14m-12 112h14m-10 44h14m-1-187h14m-9 172h14m-10-68h14m-12 25h14m-13 27h14m-5-68h14m7 7h14m19-91h14m18-137h14m-5 26h14m12 208h14m16 61h14m-6 44h14m2 13h14m-12-255h14m-14 108h14m0-128h14m15 142h14m2 29h14m-8-144h14m16 201h14m-2-96h14m-13 83h14m-14 52h14m-4-192h14m-13 82h14m-9-174h14m-10 223h14m-13-25h14m-3 5h14m-8 90h14m21-386h14m13 251h14m-3-267h14m-14 197h14m-12-103h14m-10 127h14m2 109h14m13 46h14m6-72h14m-1-50h14m-14 18h14m-10 25h14m-4-173h14m3 142h14m-9-116h14m-10 59h14m-6-134h14m-7 162h14m-12 157h14m-1-109h14m-12-180h14m-14 169h14m-8-136h14m-3-38h14m27-61h14m-12 265h14m-6-56h14"/>
<path transform="scale(.1)" stroke="#f08c78" stroke-width="14" fill="none" d="M1694 4346h14m325-13h14m64 141h14"/>
<path transform="scale(.1)" stroke="#f0dcc8" stroke-width="14" fill="none" d="M1323 4425h14m4-77h14m-13-47h14m-13 208h14m-8-54h14m-10-196h14m4 194h14m21-1h14m-12-305h14m2 197h14m37-193h14m29 334h14m5-260h14m-8 235h14m-13-207h14m0 27h14m-13 97h14m-13 90h14m24-159h14m-6 173h14m7-44h14m-2-59h14m-10 7h14m38-84h14m-11 156h14m-10 29h14m22-290h14m-11 90h14m34 207h14m22-237h14m-14 189h14m-13-172h14m-14 39h14m-12-44h14m13-124h14m2 154h14m-3 65h14m-10-76h14m-5 89h14m32-29h14m23 164h14m5-59h14m2-338h14m-10 49h14m7 97h14m28-126h14"/>
<path transform="scale(.1)" stroke="#f0a0a0" stroke-width="14" fill="none" d="M1375 4464h14m-3-272h14m83 269h14m98-12h14m65-238h14m-7 204h14m2 26h14m-11-79h14m-10-62h14m-7-40h14m0-98h14m-7 134h14m10 16h14m-6-173h14m21 342h14m-7-305h14m7 217h14m-12 18h14m20 80h14m-10-78h14m48 73h14m1-170h14m72 107h14m-13-25h14m-9-56h14m43-68h14m-7 177h14"/>
<path transform="scale(.1)" stroke="#fff0f0" stroke-width="14" fill="none" d="M1308 4311h14m56-129h14m49 100h14m-6 21h14m95-161h14m19 78h14m41-24h14m23 152h14m-8-17h14m51 63h14m121-12h14m44 133h14m11-204h14m20 113h14m-8-11h14m-9-150h14m72 204h14m-8-27h14"/>
<path transform="scale(.1)" stroke="#fff0dc" stroke-width="14" fill="none" d="M1308 4345h14m19-74h14m-6 11h14m37-18h14m10-8h14m-3 61h14m-14 39h14m12 69h14m-6 20h14m94-62h14m-8 8h14m-9 67h14m118-21h14m9-114h14m-11-44h14m0 130h14m33-41h14m15-89h14m10-116h14m8 238h14m40 47h14m-2-32h14m26-142h14m89-112h14m6 211h14m-9-69h14"/>
<path transform="scale(.1)" stroke="#f08c8c" stroke-width="14" fill="none" d="M1434 4508h14m-10-14h14m-4-278h14m48 8h14m-2 51h14m-8 23h14m2 218h14m0-303h14m51 22h14m2-89h14m46 104h14m-6 43h14m13 137h14m-10 71h14m63-6h14m61-49h14m-5-249h14m-13 161h14m-5 131h14m129-49h14m35-19h14"/>
<path transform="scale(.1)" stroke="#ffdcdc" stroke-width="14" fill="none" d="M1369 4489h14m126-83h14m30-70h14m49-58h14m7 116h14m159 99h14m250-116h14"/>
<polygon points="226.5,415.8 236.4,413.7 256.9,411.7 287.3,411.7 293.9,414.1 298.8,419 302.1,428 302.1,437 298.8,445.1 293.9,450 289,452.5 224.9,452.5 221.6,447.6 219.9,437 219.9,428 222.4,419.9" fill="#fbfafd"/>
<path transform="scale(.1)" stroke="#a08cdc" stroke-width="14" fill="none" d="M2195 4411h14m5-193h14m0 172h14m86-193h14m-12 58h14m5 37h14m20-157h14m3 261h14m7-98h14m-11 50h14m12 122h14m-1-15h14m11-20h14m-1-257h14m-10 315h14m-9-48h14m-6-213h14m28 300h14m24-143h14m52-214h14m1-6h14m22 114h14m8-122h14m0 260h14m-6-133h14m52-48h14m-5 18h14m-2-108h14m-6 228h14m3 89h14m-11-16h14m-7-202h14m-12 153h14m10-95h14m-2-183h14m-6 191h14m0-77h14m26 71h14m6 6h14"/>
<path transform="scale(.1)" stroke="#b4a0dc" stroke-width="14" fill="none" d="M2184 4298h14m14-62h14m-6 91h14m5 175h14m-11-267h14m11-42h14m5 44h14m17 138h14m-8-123h14m-2 21h14m46-19h14m11 267h14m-6-270h14m2-87h14m-13 273h14m-10-140h14m-4 176h14m1-187h14m16 191h14m25-210h14m-14 12h14m-10 197h14m17-283h14m-6 113h14m-13 24h14m14 70h14m6 21h14m-5-46h14m-11-99h14m-8 128h14m-7-8h14m1-187h14m4 289h14m-11-106h14m-10 93h14m48-170h14m-8 91h14m16 132h14m8-252h14m-11 186h14m-13 10h14m-7-236h14m4 42h14m19-58h14m-11 22h14m-13 247h14m-1-287h14m7 13h14m39 225h14m-6-212h14m-14 76h14"/>
<path transform="scale(.1)" stroke="#b4b4dc" stroke-width="14" fill="none" d="M2246 4484h14m-3-10h14m-7-311h14m-6 212h14m44 24h14m-10-82h14m2 199h14m10 11h14m-12-306h14m-8 20h14m-2 56h14m8 31h14m-10 131h14m-7-258h14m11-38h14m-3 338h14m27-150h14m-6 109h14m-6-163h14m12 192h14m7-214h14m-9 52h14m-6 54h14m9-180h14m-13-94h14m-6 22h14m-11 10h14m1 232h14m-11-15h14m38-204h14m0 75h14m5 185h14m35-221h14m16 163h14m-13-52h14m83-145h14m-14 41h14m-9 21h14m-13-78h14m0 259h14m-12-62h14m-6-153h14m29 163h14m21-73h14"/>
<path transform="scale(.1)" stroke="#a08cc8" stroke-width="14" fill="none" d="M2209 4434h14m99-231h14m-12 140h14m14-166h14m49 289h14m-1-327h14m30 377h14m16-128h14m-3-217h14m1 22h14m-6 320h14m-8-255h14m-8-109h14m-13 151h14m-11 96h14m-8-201h14m-7-67h14m11 37h14m11 171h14m20 120h14m-12-279h14m0 3h14m-14 232h14m64 61h14m21-347h14m2 154h14m8-102h14m4 41h14m-7 244h14m46-218h14m43-81h14"/>
<path transform="scale(.1)" stroke="#c8b4dc" stroke-width="14" fill="none" d="M2268 4165h14m-13 37h14m-13 325h14m106-233h14m-10 6h14m-4-60h14m-8 148h14m7-121h14m34 87h14m18-234h14m-1 238h14m6 180h14m32-333h14m-3 245h14m-7-303h14m-13-12h14m-7 67h14m-4-72h14m-9 341h14m-11-98h14m-14 109h14m18-8h14m26-329h14m-2 229h14m-7-100h14m-10-33h14m19-26h14m-6 206h14m-3-253h14m-7 23h14m-2 289h14m-13-269h14m0-17h14m-7-41h14m-13 312h14m-3-76h14m-7-134h14m-12-136h14m2 191h14m-4 84h14m-3-192h14m15 117h14m3 67h14m30-115h14m14 13h14"/>
<path transform="scale(.1)" stroke="#c8c8f0" stroke-width="14" fill="none" d="M2266 4380h14m0-72h14m-2 63h14m128-190h14m15 23h14m14 147h14m-10-128h14m1 125h14m6 133h14m-4-144h14m35-71h14m3 199h14m-10 24h14m-9-167h14m115 195h14m7-242h14m0 218h14m7-292h14m-10 302h14m-11-153h14m12-165h14m-7 176h14m44-31h14m-6-112h14m-1 128h14m-12-108h14m-14 25h14m-12-83h14m7 154h14"/>
<path transform="scale(.1)" stroke="#8c78c8" stroke-width="14" fill="none" d="M2205 4495h14m21 9h14m-12-94h14m-8-121h14m13 138h14m-11-272h14m11 299h14m-4 65h14m-8-180h14m-12 4h14m32-174h14m-12-19h14m-14 4h14m-13 176h14m-7 113h14m-1-307h14m-6 155h14m-12-29h14m-12 179h14m-13-314h14m-3 203h14m0 85h14m4 6h14m-6-303h14m-12 305h14m-3-15h14m-12-147h14m-10 81h14m-11 78h14m-6-272h14m-3 204h14m-10 138h14m5-346h14m-14 233h14m-3 97h14m-9-279h14m-12-47h14m24 60h14m-5-60h14m-2 343h14m-13-176h14m-12-196h14m-14 377h14m-8-343h14m-12 261h14m5-173h14m-12 67h14m5-78h14m-4 157h14m18-230h14m-14 9h14m2 67h14m-3 205h14m-2-65h14m-12-167h14m-13 132h14m3-207h14m-8 372h14m-11-102h14m-7-135h14m-6 194h14m26-268h14m10 84h14m-12-166h14m-2 241h14m-10-146h14m-2 311h14m3-32h14m-10-96h14m-6-157h14m-14 95h14m-13-157h14m-11 193h14m17 46h14m-2-179h14m47 96h14m-8-93h14m-11 47h14m-10 7h14"/>
<path transform="scale(.1)" stroke="#c8c8dc" stroke-width="14" fill="none" d="M2369 4481h14m224-191h14m7 161h14m30-136h14m80-142h14m38 319h14m44-141h14"/>
<path transform="scale(.1)" stroke="#a0a0dc" stroke-width="14" fill="none" d="M2213 4226h14m6 204h14m1-200h14m-10 259h14m14-15h14m-13-24h14m1-99h14m-5-39h14m19 173h14m-4-294h14m-9-41h14m-6 309h14m-8-34h14m25-23h14m-5 74h14m-8-103h14m2-193h14m-9 109h14m18 201h14m14-267h14m-10-67h14m31 170h14m5 211h14m27-263h14m95 168h14m36-43h14m-12-140h14m-5 260h14m-14 18h14m-9-377h14m-4 188h14m-4 0h14m4-104h14m-12-112h14m-12 139h14m-12-102h14m-10 365h14m-6-289h14m-3 130h14m-4 28h14m-9-177h14m8 129h14m-8-93h14m-12 236h14m-8-160h14m-11 47h14m-8-233h14m-14 156h14m19 83h14m14-184h14m-9-26h14"/>
<path transform="scale(.1)" stroke="#8c8cc8" stroke-width="14" fill="none" d="M2246 4405h14m10-124h14m37-111h14m29 62h14m-13-101h14m-9 346h14m49-156h14m5 66h14m0-75h14m-7 37h14m-8-204h14m15 85h14m48 188h14m27-97h14m109-114h14m-11 109h14m36-111h14m19 128h14m72-156h14m42 40h14"/>
<path transform="scale(.1)" stroke="#7864c8" stroke-width="14" fill="none" d="M2189 4327h14m-8-38h14m60 231h14m19 7h14m25-79h14m27-317h14m50 405h14m4-173h14m3-133h14m82 31h14m-9 163h14m21-238h14m11 139h14m9-121h14m-11 46h14m0-114h14m27 184h14m30-85h14m-12 229h14m-5-69h14m-8-137h14m-12-96h14m-13 17h14m9 344h14m-9-330h14m14 160h14m27 144h14m-10-100h14m18 37h14m52-237h14"/>
<path transform="scale(.1)" stroke="#7878c8" stroke-width="14" fill="none" d="M2205 4331h14m19-9h14m57 143h14m17-46h14m1-8h14m128-164h14m54 70h14m132 142h14m73-80h14m15-1h14m76 30h14m-2-135h14m39-39h14"/>
<text x="19.4" y="193" font-size="6.8" textLength="14.6" lengthAdjust="spacingAndGlyphs">chr14</text>
<defs><linearGradient id="g1"><stop offset="0" stop-color="#3f2688"/><stop offset="0.3" stop-color="#6f5cb2"/><stop offset="0.55" stop-color="#cfc8e6"/><stop offset="0.67" stop-color="#faf6f6"/><stop offset="0.8" stop-color="#fbcfbd"/><stop offset="1" stop-color="#f29a78"/></linearGradient></defs>
<rect x="37.8" y="186.7" width="42" height="8.1" fill="url(#g1)"/>
<text x="46.3" y="199.5" font-size="5.2" text-anchor="end" transform="rotate(-45 46.3 199.5)">0.90</text>
<text x="57.8" y="199.5" font-size="5.2" text-anchor="end" transform="rotate(-45 57.8 199.5)">0.95</text>
<text x="68.8" y="199.5" font-size="5.2" text-anchor="end" transform="rotate(-45 68.8 199.5)">1.00</text>
<text x="80.3" y="199.5" font-size="5.2" text-anchor="end" transform="rotate(-45 80.3 199.5)">1.05</text>
<text x="91.7" y="193" font-size="6.8" textLength="15.4" lengthAdjust="spacingAndGlyphs">chr1q</text>
<defs><linearGradient id="g2"><stop offset="0" stop-color="#dcd7ec"/><stop offset="0.16" stop-color="#fbf8fa"/><stop offset="0.35" stop-color="#f9d3c3"/><stop offset="0.65" stop-color="#ee7a5c"/><stop offset="1" stop-color="#dc2e1c"/></linearGradient></defs>
<rect x="111" y="186.7" width="41.3" height="8.1" fill="url(#g2)"/>
<text x="123.6" y="199.5" font-size="5.2" text-anchor="end" transform="rotate(-45 123.6 199.5)">1.00</text>
<text x="134.5" y="199.5" font-size="5.2" text-anchor="end" transform="rotate(-45 134.5 199.5)">1.05</text>
<text x="145.5" y="199.5" font-size="5.2" text-anchor="end" transform="rotate(-45 145.5 199.5)">1.10</text>
<text x="156.5" y="199.5" font-size="5.2" text-anchor="end" transform="rotate(-45 156.5 199.5)">1.15</text>
<text x="171.7" y="193" font-size="6.8" textLength="20" lengthAdjust="spacingAndGlyphs">chr11q</text>
<defs><linearGradient id="g3"><stop offset="0" stop-color="#9a90c8"/><stop offset="0.25" stop-color="#d9d4ec"/><stop offset="0.36" stop-color="#faf7fa"/><stop offset="0.5" stop-color="#fbdccf"/><stop offset="1" stop-color="#dc341e"/></linearGradient></defs>
<rect x="194.8" y="186.7" width="40.4" height="8.1" fill="url(#g3)"/>
<text x="207.6" y="199.5" font-size="5.2" text-anchor="end" transform="rotate(-45 207.6 199.5)">1.00</text>
<text x="219.2" y="199.5" font-size="5.2" text-anchor="end" transform="rotate(-45 219.2 199.5)">1.05</text>
<text x="230.1" y="199.5" font-size="5.2" text-anchor="end" transform="rotate(-45 230.1 199.5)">1.10</text>
<text x="261" y="193" font-size="6.8" textLength="15.6" lengthAdjust="spacingAndGlyphs">chr6q</text>
<defs><linearGradient id="g4"><stop offset="0" stop-color="#c8c0e2"/><stop offset="0.2" stop-color="#d8d2ea"/><stop offset="0.3" stop-color="#f8f6fa"/><stop offset="0.42" stop-color="#fbdccf"/><stop offset="1" stop-color="#dc2e1c"/></linearGradient></defs>
<rect x="280.2" y="186.7" width="39.6" height="8.1" fill="url(#g4)"/>
<text x="282.3" y="199.2" font-size="5.3" text-anchor="end" transform="rotate(-45 282.3 199.2)">0.85</text>
<text x="289.3" y="199.2" font-size="5.3" text-anchor="end" transform="rotate(-45 289.3 199.2)">0.9</text>
<text x="299.1" y="199.2" font-size="5.3" text-anchor="end" transform="rotate(-45 299.1 199.2)">0.95</text>
<text x="305.4" y="199.2" font-size="5.3" text-anchor="end" transform="rotate(-45 305.4 199.2)">1.0</text>
<text x="311.8" y="199.2" font-size="5.3" text-anchor="end" transform="rotate(-45 311.8 199.2)">1.05</text>
<text x="319.3" y="199.2" font-size="5.3" text-anchor="end" transform="rotate(-45 319.3 199.2)">1.10</text>
<text transform="translate(6.8 195.6) scale(1.13 1)" font-size="11.5" font-weight="bold" fill="#000">C</text>
<text x="14.4" y="252.7" font-size="8.6" text-anchor="middle" textLength="24" lengthAdjust="spacingAndGlyphs" transform="rotate(-90 14.4 252.7)">PT10B</text>
<text transform="translate(6.6 320.2) scale(1.13 1)" font-size="11.5" font-weight="bold" fill="#000">D</text>
<text x="44" y="315.6" font-size="6.6" textLength="16.2" lengthAdjust="spacingAndGlyphs">chr14</text>
<defs><linearGradient id="g5"><stop offset="0" stop-color="#3c2585"/><stop offset="0.4" stop-color="#6a58b0"/><stop offset="0.6" stop-color="#c9c2e4"/><stop offset="0.72" stop-color="#fbf8f8"/><stop offset="0.88" stop-color="#f8b59c"/><stop offset="1" stop-color="#f4a286"/></linearGradient></defs>
<rect x="62.9" y="310.1" width="39" height="7.3" fill="url(#g5)"/>
<text x="64.6" y="322.5" font-size="4.9" text-anchor="end" transform="rotate(-45 64.6 322.5)">0.85</text>
<text x="72.9" y="322.5" font-size="4.9" text-anchor="end" transform="rotate(-45 72.9 322.5)">0.90</text>
<text x="81.6" y="322.5" font-size="4.9" text-anchor="end" transform="rotate(-45 81.6 322.5)">0.95</text>
<text x="91.1" y="322.5" font-size="4.9" text-anchor="end" transform="rotate(-45 91.1 322.5)">1.00</text>
<text x="99.8" y="322.5" font-size="4.9" text-anchor="end" transform="rotate(-45 99.8 322.5)">1.05</text>
<text x="132" y="315.6" font-size="6.6" textLength="15.5" lengthAdjust="spacingAndGlyphs">chr13</text>
<defs><linearGradient id="g6"><stop offset="0" stop-color="#3a2288"/><stop offset="0.4" stop-color="#7766ba"/><stop offset="0.7" stop-color="#d4cfea"/><stop offset="0.85" stop-color="#fbf9fa"/><stop offset="1" stop-color="#f6cfc4"/></linearGradient></defs>
<rect x="150.9" y="310.1" width="38.6" height="7.3" fill="url(#g6)"/>
<text x="159.5" y="322.5" font-size="4.7" text-anchor="end" transform="rotate(-45 159.5 322.5)">0.85</text>
<text x="167.6" y="322.5" font-size="4.7" text-anchor="end" transform="rotate(-45 167.6 322.5)">0.90</text>
<text x="175.7" y="322.5" font-size="4.7" text-anchor="end" transform="rotate(-45 175.7 322.5)">0.95</text>
<text x="183.1" y="322.5" font-size="4.7" text-anchor="end" transform="rotate(-45 183.1 322.5)">1.00</text>
<text x="190.5" y="322.5" font-size="4.7" text-anchor="end" transform="rotate(-45 190.5 322.5)">1.05</text>
<text x="221" y="315.6" font-size="6.6" textLength="16.2" lengthAdjust="spacingAndGlyphs">chr1q</text>
<defs><linearGradient id="g7"><stop offset="0" stop-color="#ffffff"/><stop offset="0.25" stop-color="#fbdfd2"/><stop offset="0.5" stop-color="#f4a085"/><stop offset="1" stop-color="#dc2e1c"/></linearGradient></defs>
<rect x="240.6" y="310.1" width="39" height="7.3" fill="url(#g7)"/>
<text x="247.2" y="322.1" font-size="4.9" text-anchor="end" transform="rotate(-45 247.2 322.1)">1.0</text>
<text x="256" y="322.1" font-size="4.9" text-anchor="end" transform="rotate(-45 256 322.1)">1.05</text>
<text x="264.1" y="322.1" font-size="4.9" text-anchor="end" transform="rotate(-45 264.1 322.1)">1.1</text>
<text x="273.5" y="322.1" font-size="4.9" text-anchor="end" transform="rotate(-45 273.5 322.1)">1.15</text>
<text x="44" y="390.8" font-size="6.6" textLength="20.2" lengthAdjust="spacingAndGlyphs">chr19q</text>
<defs><linearGradient id="g8"><stop offset="0" stop-color="#a89ed2"/><stop offset="0.27" stop-color="#f8f6fa"/><stop offset="0.42" stop-color="#fbdccf"/><stop offset="0.95" stop-color="#e0321e"/><stop offset="1" stop-color="#c41410"/></linearGradient></defs>
<rect x="66.9" y="384.3" width="41.1" height="8.1" fill="url(#g8)"/>
<text x="72.3" y="397.2" font-size="5.0" text-anchor="end" transform="rotate(-45 72.3 397.2)">0.9</text>
<text x="84.4" y="397.2" font-size="5.0" text-anchor="end" transform="rotate(-45 84.4 397.2)">1.0</text>
<text x="95.9" y="397.2" font-size="5.0" text-anchor="end" transform="rotate(-45 95.9 397.2)">1.1</text>
<text x="108" y="397.2" font-size="5.0" text-anchor="end" transform="rotate(-45 108 397.2)">1.2</text>
<text x="132" y="391.4" font-size="6.6" textLength="16.2" lengthAdjust="spacingAndGlyphs">chr5p</text>
<defs><linearGradient id="g9"><stop offset="0" stop-color="#aaa0d0"/><stop offset="0.28" stop-color="#f8f6fa"/><stop offset="0.42" stop-color="#fbdccf"/><stop offset="0.95" stop-color="#e0321e"/><stop offset="1" stop-color="#c41410"/></linearGradient></defs>
<rect x="150.9" y="385.1" width="43.7" height="8.4" fill="url(#g9)"/>
<text x="155.6" y="397.9" font-size="5.0" text-anchor="end" transform="rotate(-45 155.6 397.9)">0.9</text>
<text x="168.4" y="397.9" font-size="5.0" text-anchor="end" transform="rotate(-45 168.4 397.9)">1.0</text>
<text x="180.5" y="397.9" font-size="5.0" text-anchor="end" transform="rotate(-45 180.5 397.9)">1.1</text>
<text x="194" y="397.9" font-size="5.0" text-anchor="end" transform="rotate(-45 194 397.9)">1.2</text>
<text x="219" y="391.4" font-size="6.6" textLength="16.2" lengthAdjust="spacingAndGlyphs">chr8p</text>
<defs><linearGradient id="g10"><stop offset="0" stop-color="#3a2288"/><stop offset="0.3" stop-color="#7a6ab8"/><stop offset="0.45" stop-color="#cdc6e6"/><stop offset="0.55" stop-color="#faf8fa"/><stop offset="0.75" stop-color="#f8c4ae"/><stop offset="1" stop-color="#e8603a"/></linearGradient></defs>
<rect x="237.9" y="385.1" width="45.1" height="8.4" fill="url(#g10)"/>
<text x="247.2" y="397.6" font-size="4.9" text-anchor="end" transform="rotate(-45 247.2 397.6)">0.9</text>
<text x="254.6" y="397.6" font-size="4.9" text-anchor="end" transform="rotate(-45 254.6 397.6)">0.95</text>
<text x="263.4" y="397.6" font-size="4.9" text-anchor="end" transform="rotate(-45 263.4 397.6)">1.0</text>
<text x="272.1" y="397.6" font-size="4.9" text-anchor="end" transform="rotate(-45 272.1 397.6)">1.05</text>
<text x="281.6" y="397.6" font-size="4.9" text-anchor="end" transform="rotate(-45 281.6 397.6)">1.10</text>
<text x="23.4" y="393.5" font-size="8.6" text-anchor="middle" textLength="19.3" lengthAdjust="spacingAndGlyphs" transform="rotate(-90 23.4 393.5)">PT03</text>
<path transform="scale(.1)" stroke="#eba6a5" stroke-width="23" fill="none" d="M3705 2886h23m-10-22h23m39-65h23m-23 43h23m-11-108h23m-23 43h23m-23 87h23m-10 65h23m-10-152h23m-23 44h23m-23 43h23m-11-22h23m-23 44h23m-11-542h23m-23 44h23m-23 43h23m-23 476h23m-23 44h23m-10-715h23m-23 520h23m-23 43h23m-23 43h23m-23 44h23m-10-152h23m-23 130h23m-11-368h23m-23 260h23m-23 130h23m-11-628h23m-23 476h23m-23 260h23m-10-282h23m-23 44h23m-10-455h23m-23 43h23m-23 347h23m-23 216h23m-11-628h23m-23 390h23m-23 43h23m-23 87h23m-23 173h23m-11-238h23m-23 43h23m-23 44h23m-23 86h23m-10-324h23m-23 173h23m-23 43h23m-23 130h23m-23 43h23m-23 44h23m-10-888h23m-23 649h23m-11-757h23m-23 43h23m-11 325h23m-23 259h23m-23 44h23m-23 86h23m-23 260h23m-10-1017h23m-23 43h23m-23 433h23m-23 87h23m-23 43h23m-23 43h23m-23 43h23m-23 260h23m-10-584h23m-23 216h23m-23 43h23m-23 130h23m-23 130h23m-23 130h23m-11-1017h23m-23 43h23m-23 520h23m-23 43h23m-23 43h23m-23 43h23m-23 304h23m-11-715h23m-23 346h23m-23 87h23m-10-671h23m-23 346h23m-23 217h23m-23 43h23m-23 43h23m-23 304h23m-10-412h23m-23 43h23m-23 347h23m-11-368h23m-23 43h23m-23 43h23m-23 44h23m-23 43h23m-23 87h23m-23 86h23m-11-368h23m-23 43h23m-23 44h23m-10-671h23m-23 563h23m-23 129h23m-23 174h23m-23 43h23m-23 173h23m-10-498h23m-23 43h23m-23 44h23m-11-628h23m-23 520h23m-23 86h23m-11-628h23m-23 606h23m-23 44h23m-23 43h23m-23 87h23m-23 260h23m-10-455h23m-23 43h23m-23 43h23m-23 217h23m-23 173h23m-10-1061h23m-23 563h23m-23 43h23m-23 44h23m-23 216h23m-11-324h23m-23 86h23m-23 43h23m-23 260h23m-23 130h23m-11-498h23m-23 43h23m-23 44h23m-23 303h23m-10-974h23m-23 43h23m-23 173h23m-23 347h23m-23 43h23m-23 43h23m-23 43h23m-23 174h23m-10-758h23m-23 433h23m-23 43h23m-23 43h23m-23 130h23m-11-368h23m-23 44h23m-23 43h23m-23 87h23m-23 43h23m-23 43h23m-23 130h23m-11-758h23m-23 130h23m-23 433h23m-23 43h23m-23 44h23m-23 303h23m-10-931h23m-23 520h23m-23 43h23m-23 86h23m-10-194h23m-23 86h23m-23 87h23m-23 43h23m-11-671h23m-23 476h23m-23 44h23m-23 43h23m-23 43h23m-11-628h23m-23 477h23m-23 43h23m-23 86h23m-10-627h23m-23 346h23m-23 217h23m-23 86h23m-23 43h23m-10-281h23m-23 87h23m-23 43h23m-23 43h23m-23 43h23m-23 44h23m-11-628h23m-23 130h23m-23 173h23m-23 173h23m-23 44h23m-23 43h23m-23 43h23m-23 130h23m-11-758h23m-23 477h23m-23 43h23m-23 43h23m-23 43h23m-23 44h23m-23 43h23m-10-628h23m-23 520h23m-23 43h23m-23 43h23m-10-671h23m-23 477h23m-23 43h23m-23 43h23m-23 87h23m-23 43h23m-11-368h23m-23 87h23m-23 43h23m-23 87h23m-23 43h23m-23 43h23m-11-411h23m-23 260h23m-23 43h23m-10-325h23m-23 260h23m-23 43h23m-23 260h23m-10-238h23m-23 43h23m-11-108h23m-23 43h23m-23 87h23m-23 130h23m-23 43h23m-11-281h23m-23 86h23m-10-454h23m-23 346h23m-23 43h23m-23 44h23m-23 173h23m-23 43h23m-10-325h23m-23 44h23m-23 86h23m-11-368h23m-23 217h23m-23 86h23m-23 44h23m-11-369h23m-23 44h23m-23 260h23m-10-152h23m-23 217h23m-10-325h23m-23 260h23m-11-152h23m-23 173h23m-11-325h23m-23 44h23m-23 43h23m-23 217h23m-23 43h23m-10-108h23m-23 43h23m-23 43h23m-10-65h23m-23 44h23m-11-282h23m-23 87h23m-23 43h23m-23 87h23m-23 86h23m-11-368h23m-10 282h23m-10-195h23m-23 216h23m-11-21h23m-23 43h23m-11-65h23m-10 22h23m-10-65h23m-23 43h23m-11-22h23"/>
<path transform="scale(.1)" stroke="#c8b8d6" stroke-width="23" fill="none" d="M3618 3081h23m27-44h23m27-130h23m39 22h23m2-87h23m-23 303h23m14-411h23m-23 43h23m-23 87h23m3-433h23m-23 476h23m-11-108h23m-23 43h23m-23 87h23m-11-152h23m-23 260h23m-10-541h23m-10 368h23m-11 152h23m-11 21h23m-10-151h23m-10-845h23m-23 260h23m-23 130h23m-23 476h23m-23 44h23m-11-195h23m2-606h23m-23 43h23m-23 606h23m-10-585h23m-23 304h23m-23 216h23m-23 87h23m-11-498h23m-11 584h23m-23 174h23m-10-1061h23m-23 563h23m-23 173h23m-10-715h23m-23 650h23m-23 86h23m-23 260h23m-11-454h23m-23 519h23m15-238h23m-11-325h23m-23 347h23m-23 130h23m-11-109h23m-10-887h23m-23 86h23m-23 780h23m-10-325h23m-23 216h23m-11-151h23m-11 411h23m3-563h23m-23 433h23m-23 87h23m-11-758h23m-23 476h23m-11-151h23m-10 325h23m-10-239h23m-11-238h23m27-389h23m27 130h23m-23 259h23m-11 412h23m-10-498h23m-23 260h23m14-152h23m-10-238h23m14 151h23m-23 130h23m-10-368h23m-23 433h23m2-43h23m-11-368h23m-23 43h23m-23 260h23m-10-152h23m2-129h23m-23 346h23m-11-368h23m3 303h23m-11-195h23m15 108h23"/>
<path transform="scale(.1)" stroke="#d9352f" stroke-width="23" fill="none" d="M3730 2886h23m-11 21h23m40-21h23m-10 65h23m-11-239h23m-11 109h23m-10-542h23m-23 87h23m-23 87h23m-23 259h23m-23 260h23m-10-801h23m-23 87h23m-23 86h23m-23 44h23m-11-238h23m-23 43h23m-23 43h23m-23 130h23m-11-238h23m-23 260h23m-23 43h23m-23 476h23m-10-714h23m-23 43h23m-23 43h23m-23 87h23m-23 303h23m-23 130h23m-10-585h23m-23 217h23m-23 520h23m-11-888h23m-23 87h23m-23 86h23m-23 130h23m-23 43h23m-23 44h23m-23 86h23m-23 303h23m-23 44h23m-11-715h23m-23 43h23m-23 87h23m-23 87h23m-23 86h23m-23 44h23m-23 43h23m-10-411h23m-23 43h23m-23 43h23m-23 43h23m-23 87h23m-23 87h23m-23 259h23m-10-498h23m-23 174h23m-23 130h23m-23 43h23m-23 43h23m-23 43h23m-23 390h23m-11-844h23m-23 173h23m-23 87h23m-23 43h23m-23 43h23m-23 130h23m-23 130h23m-23 130h23m-11-888h23m-23 87h23m-23 43h23m-23 43h23m-23 520h23m-23 173h23m-10-801h23m-23 433h23m-10-238h23m-23 650h23m-11-845h23m-23 44h23m-23 86h23m-23 43h23m-23 217h23m-11-455h23m-23 130h23m-23 87h23m-23 303h23m-10-455h23m-23 87h23m-23 43h23m-23 87h23m-23 43h23m-23 130h23m-23 303h23m-10-714h23m-23 173h23m-23 43h23m-23 217h23m-23 43h23m-11-541h23m-23 43h23m-23 43h23m-23 44h23m-23 86h23m-23 87h23m-23 43h23m-11-325h23m-23 217h23m-23 43h23m-23 87h23m-23 86h23m-23 607h23m-10-1018h23m-23 130h23m-23 43h23m-23 87h23m-23 86h23m-23 130h23m-10-498h23m-23 44h23m-23 43h23m-23 86h23m-23 44h23m-23 86h23m-23 174h23m-11-325h23m-23 43h23m-23 87h23m-23 43h23m-23 130h23m-11-411h23m-23 43h23m-23 173h23m-23 43h23m-23 87h23m-23 87h23m-23 476h23m-10-844h23m-23 86h23m-23 87h23m-23 43h23m-23 43h23m-10-324h23m-23 86h23m-23 43h23m-23 174h23m-23 43h23m-11-368h23m-23 87h23m-23 43h23m-23 130h23m-23 86h23m-23 44h23m-23 86h23m-11-368h23m-23 43h23m-23 87h23m-23 87h23m-23 86h23m-23 44h23m-10-368h23m-23 43h23m-23 173h23m-23 87h23m-23 86h23m-10-498h23m-23 44h23m-23 86h23m-23 87h23m-23 86h23m-23 87h23m-11-368h23m-23 43h23m-23 173h23m-23 87h23m-23 476h23m-11-757h23m-23 216h23m-23 43h23m-23 87h23m-10-325h23m-23 87h23m-23 43h23m-23 43h23m-23 217h23m-10-455h23m-23 44h23m-23 129h23m-23 44h23m-11-238h23m-23 130h23m-23 129h23m-23 44h23m-23 476h23m-11-671h23m-23 43h23m-23 43h23m-23 174h23m-23 86h23m-10-411h23m-23 43h23m-23 44h23m-23 129h23m-23 44h23m-23 130h23m-23 43h23m-10-455h23m-23 130h23m-23 87h23m-23 86h23m-23 130h23m-11-195h23m-23 174h23m-23 43h23m-11-368h23m-23 303h23m3-346h23m27 129h23m-11 195h23m15-65h23m139-65h23m-11 22h23"/>
<path transform="scale(.1)" stroke="#ec8a34" stroke-width="23" fill="none" d="M3830 2323h23m-23 43h23m-11-65h23m-10-108h23m-10 21h23m-23 260h23m-11-65h23m-23 303h23m-11-541h23m-23 130h23m-23 173h23m-10-324h23m-23 303h23m-10-368h23m-11 21h23m-23 217h23m-11-238h23m-23 43h23m-23 130h23m-10-152h23m-23 303h23m-10-238h23m-23 87h23m-11-22h23m-23 87h23m-23 86h23m-11 22h23m-23 130h23m-10-282h23m-10-238h23m-23 217h23m-23 86h23m-23 130h23m-23 87h23m-11-152h23m-23 44h23m-23 86h23m-11-454h23m-23 43h23m-23 260h23m-23 43h23m-23 43h23m-23 44h23m-10 21h23m-10-411h23m-23 43h23m-11 108h23m-23 217h23m-11-411h23m-23 259h23m-23 87h23m-10-152h23m-23 217h23m-10-195h23m-23 87h23m-23 86h23m-11-454h23m-23 86h23m-23 44h23m-11 21h23m-23 43h23m-23 44h23m-23 216h23m-10-411h23m-23 433h23m-10-238h23m-23 43h23m-23 217h23m-11-498h23m-23 86h23m-23 173h23m-23 217h23m-11-238h23m-23 86h23m-23 87h23m-10-152h23m-23 44h23m-23 86h23m-10-108h23m-23 87h23m-11-368h23m-23 173h23m-11-65h23m-23 86h23m-23 44h23m-23 130h23m-23 130h23m-10-498h23m-23 130h23m-23 173h23m-10-152h23m-23 260h23m-23 43h23m-11-368h23m-23 87h23m-23 260h23m-23 43h23m-11-152h23m-23 87h23m3-346h23m-23 216h23m1-87h23m-23 174h23"/>
<path transform="scale(.1)" stroke="#704c9c" stroke-width="23" fill="none" d="M3655 3059h23m64-195h23m3 43h23m-11-21h23m-11-65h23m-23 173h23m-10-195h23m-23 173h23m2-173h23m15-498h23m-23 390h23m-23 130h23m-23 130h23m1-260h23m-23 130h23m-23 43h23m-23 217h23m-10-672h23m-23 433h23m-23 87h23m-10-152h23m-23 217h23m-11-238h23m-23 173h23m-11-282h23m-23 304h23m-10-888h23m-23 433h23m-10 325h23m-23 43h23m-11-281h23m-23 43h23m-23 390h23m-11-65h23m-10-585h23m-23 43h23m-23 477h23m-10-715h23m39 22h23m-11-65h23m-23 86h23m15 412h23m-11-65h23m-10 238h23m-23 260h23m-10-238h23m-23 130h23m-23 43h23m-11 22h23m-11-975h23m-23 520h23m-10 498h23m2-909h23m2 259h23m-23 44h23m-23 86h23m-10-195h23m-23 477h23m1 86h23m-10-498h23m-23 130h23m2 217h23m2 43h23m14-411h23m3-130h23m-11 195h23m-23 130h23m65-239h23m-11 109h23m15-325h23m14 22h23"/>
<path transform="scale(.1)" stroke="#3a7db4" stroke-width="23" fill="none" d="M3555 3102h23m14-21h23m27 0h23m3-87h23m-11 22h23m-11 21h23m3 87h23m14-238h23m-10-65h23m-23 43h23m1 43h23m3-173h23m-23 433h23m-11-238h23m-11 65h23m-10-671h23m-10 454h23m-11 195h23m2-866h23m-23 910h23m14-325h23m-10-22h23m-23 390h23m-10-368h23m-11-585h23m-23 866h23m-11-498h23m-23 347h23m-23 173h23m15-238h23m-23 86h23m-23 44h23m-23 43h23m-23 43h23m-23 130h23m-11-498h23m-23 87h23m-23 86h23m-23 217h23m-23 173h23m-10-325h23m-23 87h23m2-520h23m-23 433h23m-11-65h23m-23 44h23m-23 130h23m-23 43h23m-10-368h23m-23 216h23m-23 130h23m-23 87h23m-10-325h23m-23 87h23m-23 86h23m-23 44h23m-23 43h23m-23 43h23m-23 44h23m-11-672h23m-23 44h23m-23 303h23m-23 43h23m-23 173h23m-23 130h23m-11-325h23m-23 260h23m-23 87h23m-10-845h23m-23 304h23m-23 259h23m-10-108h23m-23 130h23m-11-108h23m-23 173h23m-11-195h23m-23 43h23m-23 44h23m-23 43h23m-23 87h23m3-260h23m-11-152h23m-23 477h23m-23 43h23m-11-282h23m-23 174h23m-10-195h23m-10-195h23m-11 368h23m-11-844h23m-23 216h23m-23 303h23m-23 130h23m-23 130h23m-10-238h23m-23 173h23m-10-22h23m-23 87h23m-11-152h23m-23 130h23m-11-541h23m-23 476h23m-23 44h23m-10-758h23m-23 87h23m-23 173h23m-23 43h23m-23 43h23m-23 87h23m-23 43h23m-23 44h23m-23 173h23m-10-628h23m-23 43h23m-23 43h23m-23 87h23m-23 87h23m-23 43h23m-23 390h23m-11-758h23m-23 43h23m-23 87h23m-23 43h23m-23 43h23m-23 260h23m-23 260h23m-11-714h23m-23 86h23m-23 43h23m-23 87h23m-23 43h23m-23 87h23m-23 173h23m-10-498h23m-23 44h23m-23 43h23m-23 86h23m-23 87h23m-23 43h23m-23 44h23m-23 173h23m-10-541h23m-23 216h23m-23 43h23m-23 44h23m-23 433h23m-11-715h23m-23 44h23m-23 86h23m-23 43h23m-23 44h23m-23 43h23m-11-195h23m-23 43h23m-23 44h23m-23 130h23m-23 86h23m-23 303h23m-10-498h23m-23 44h23m-23 86h23m-23 44h23m-10-325h23m-23 43h23m-23 43h23m-23 87h23m-23 87h23m-11-238h23m-23 43h23m-23 86h23m-23 44h23m-23 43h23m-23 43h23m-23 87h23m-11-411h23m-23 43h23m-23 173h23m-23 87h23m-23 43h23m-23 130h23m-10-411h23m-23 43h23m-23 43h23m-23 87h23m-23 86h23m-23 44h23m-23 43h23m-10-368h23m-23 43h23m-23 43h23m-23 87h23m-23 87h23m-23 43h23m-23 43h23m-23 87h23m-11-455h23m-23 44h23m-23 43h23m-23 43h23m-23 87h23m-23 86h23m-11-324h23m-23 259h23m-23 44h23m-23 86h23m-10-368h23m-23 44h23m-23 43h23m-23 43h23m-23 87h23m-23 43h23m-23 43h23m-10-324h23m-23 173h23m-23 130h23m-11-282h23m-23 87h23m-23 86h23m-23 130h23m-11-195h23m-23 44h23m-23 130h23m-23 43h23m-23 43h23m-23 44h23m-10-282h23m-23 43h23m-23 44h23m-23 43h23m-23 43h23m-10-238h23m-23 43h23m-23 130h23m-23 44h23m-11-195h23m-23 173h23m-23 43h23m-11-151h23m-23 130h23m-23 86h23m-10-238h23m-23 87h23m-23 86h23m2-43h23"/>
<path transform="scale(.1)" stroke="#aacee0" stroke-width="23" fill="none" d="M3530 3016h23m-11-22h23m3-43h23m1 0h23m-10 21h23m-10 65h23m-11 65h23m2 0h23m2-173h23m-23 173h23m-11-108h23m-10 22h23m2-87h23m15 108h23m-23 87h23m1-173h23m15 194h23m15-108h23m-23 173h23m-11-65h23m-23 44h23m2-44h23m-10-64h23m-23 86h23m-11-108h23m2 43h23m27 0h23m-10-411h23m-23 390h23m-11-282h23m-23 346h23m-11-194h23m-23 173h23m3-260h23m77 217h23m-11-22h23m2-130h23m-23 43h23m14-238h23m-10-65h23m-23 130h23m-23 43h23m14-151h23m-10 151h23m40-195h23m14-584h23m-23 693h23m-10-628h23m-23 303h23m-23 87h23m14-152h23m2-260h23m2 173h23m40-108h23m1 173h23m-10-151h23m14 21h23m-23 130h23m-10-65h23"/>
<path transform="scale(.1)" stroke="#f2c27e" stroke-width="23" fill="none" d="M3842 2258h23m-10 151h23m2-86h23m-23 130h23m-11-239h23m3-86h23m-23 43h23m-23 87h23m-23 130h23m-23 86h23m-23 44h23m1-174h23m-23 87h23m-10 108h23m-10-454h23m-11 65h23m-23 129h23m-11-194h23m-23 216h23m-10 22h23m-10-238h23m1 129h23m-23 130h23m-10-194h23m-23 303h23m-10 21h23m-11-21h23m-11-282h23m-23 347h23m-10-412h23m-23 44h23m-23 216h23m-10-195h23m-23 390h23m14-368h23m-10-65h23m-23 216h23m-23 130h23m-11-238h23m-23 130h23m-11-281h23m-23 43h23m-10-22h23m-23 390h23m-10-282h23m-23 304h23m-11-195h23m-11 151h23m-10-108h23m-10-65h23m-11-65h23m-23 130h23m2-173h23m-10-65h23m-23 86h23m-11-108h23m-23 130h23m-23 87h23m-23 86h23m-11-151h23m-23 86h23"/>
<path transform="scale(.1)" stroke="#a95c3a" stroke-width="23" fill="none" d="M3818 2301h23m-11-22h23m27 0h23m-11 65h23m77-86h23m-23 260h23m-10-65h23m-10-22h23m27-217h23m-23 130h23m1 217h23m-10-108h23m-10-22h23m-11-152h23m2 260h23m90-151h23m1-130h23m15-108h23m-11-65h23m-23 389h23"/>
<path transform="scale(.1)" stroke="#449c40" stroke-width="23" fill="none" d="M3605 2929h23m-23 216h23m-10-21h23m14-152h23m27 87h23m-10-65h23m-11-152h23m-11 239h23m-10-152h23m-23 130h23m52-43h23m2 173h23m14-238h23m-23 259h23m-10-238h23m-23 217h23m-10-368h23m1 43h23m-23 130h23m-10-152h23m-10 152h23m-11-152h23m-23 44h23m2-44h23m-23 87h23m-23 87h23m-23 43h23m2 0h23m-11-238h23m-23 43h23m-23 173h23m-10-151h23m-23 173h23m-10-325h23m-23 87h23m-23 86h23m-23 44h23m-23 130h23m-11-152h23m-23 130h23m-11-325h23m-23 130h23m-23 43h23m-23 130h23m-10-281h23m-23 43h23m-23 217h23m-10-239h23m-23 347h23m-11-282h23m-23 87h23m-23 130h23m-11-195h23m-23 87h23m-10-195h23m-23 216h23m-10 65h23m-11-238h23m-23 43h23m-23 44h23m-11 21h23m-23 174h23m-10-325h23m-23 43h23m-23 43h23m-23 174h23m-10-282h23m-23 87h23m-23 43h23m-23 87h23m-23 86h23m-23 44h23m-11-325h23m-23 130h23m-23 86h23m-11-151h23m-23 43h23m-23 43h23m-10 65h23m-10-195h23m-23 130h23m-23 44h23m-11-239h23m-23 44h23m-23 86h23m-23 44h23m-11-109h23m-23 44h23m-10-65h23m-23 130h23m-10-152h23m-23 87h23m14-628h23m-23 43h23m-23 43h23m-23 174h23m-10-195h23m-23 86h23m-23 433h23m-11-454h23m-23 433h23m-11-628h23m-23 606h23m-23 43h23m3-606h23m-23 606h23m1-433h23m-10-108h23m-10 22h23m1-87h23m53 43h23m27 87h23m14 65h23m-10-108h23m1 130h23"/>
<path transform="scale(.1)" stroke="#b8d894" stroke-width="23" fill="none" d="M3505 3059h23m2 0h23m-11-22h23m-23 44h23m-10-109h23m-23 44h23m-23 43h23m-10-65h23m-23 43h23m-23 44h23m-23 43h23m-11-152h23m-23 44h23m-23 43h23m-23 43h23m-11-108h23m-23 43h23m-23 87h23m-10-108h23m-23 43h23m-23 43h23m-10-151h23m-23 43h23m-11-65h23m-23 43h23m-23 44h23m-23 43h23m-23 86h23m-11-194h23m-23 43h23m-23 43h23m-23 87h23m-23 43h23m-10-238h23m-23 87h23m-10-109h23m-23 44h23m-23 173h23m-11-238h23m-23 86h23m-23 173h23m-11-238h23m-23 44h23m-23 130h23m-23 43h23m-23 43h23m-10-238h23m-23 43h23m-23 130h23m-10-151h23m-23 86h23m-23 44h23m-11-109h23m-23 44h23m-23 43h23m-23 86h23m-23 44h23m-11-238h23m-23 43h23m-23 43h23m-23 87h23m-23 43h23m-10-325h23m-23 130h23m-23 44h23m-23 129h23m-10-194h23m-23 43h23m-23 87h23m-23 129h23m-11-238h23m-23 44h23m-23 43h23m-23 43h23m-23 43h23m-11-108h23m-23 44h23m-23 43h23m-23 43h23m-23 43h23m-10-454h23m-23 260h23m-23 86h23m-23 87h23m-10-282h23m-23 87h23m-23 87h23m-23 43h23m-11-65h23m-23 130h23m-11-152h23m-23 44h23m-23 43h23m-23 43h23m-23 43h23m-10-194h23m-23 129h23m-10-151h23m-23 130h23m-23 43h23m-11-108h23m-11 65h23m-10-238h23m-23 173h23m-23 43h23m-10-65h23m-23 87h23m-11 65h23m-11-108h23m-23 129h23m-10-21h23m-10-65h23m-23 86h23m-11-151h23m-23 130h23m-11-65h23m-23 43h23m-10-411h23m-23 389h23m-10-281h23m-23 260h23m-23 43h23m-11 22h23m2-87h23m-23 43h23m-10-21h23m-23 43h23m-11-22h23m-11-21h23m-10 21h23"/>
<text transform="translate(350 197.4) scale(1.13 1)" font-size="11.5" font-weight="bold" fill="#000">E</text>
<rect x="476.2" y="211.4" width="1.6" height="1.6" fill="#de2b2c"/>
<rect x="477.6" y="213" width="1.6" height="1.6" fill="#f08529"/>
<rect x="476" y="214.4" width="1.6" height="1.6" fill="#de2b2c"/>
<rect x="478.4" y="211" width="1.6" height="1.6" fill="#ef9a9a"/>
<text x="415" y="194" font-size="8.6" text-anchor="middle" textLength="24.2" lengthAdjust="spacingAndGlyphs">PT10B</text>
<text x="505.2" y="209.8" font-size="6.6" text-anchor="end" textLength="24.2" lengthAdjust="spacingAndGlyphs">Number</text>
<text x="500.8" y="216.9" font-size="6.6" text-anchor="end" textLength="15.6" lengthAdjust="spacingAndGlyphs">CNVs</text>
<circle cx="487.6" cy="224.1" r="2.2" fill="#aacee0"/>
<text x="492.8" y="226.5" font-size="6.8" textLength="7.6" lengthAdjust="spacingAndGlyphs">17</text>
<circle cx="487.6" cy="232.5" r="2.2" fill="#3a7db4"/>
<text x="492.8" y="234.9" font-size="6.8" textLength="7.6" lengthAdjust="spacingAndGlyphs">18</text>
<circle cx="487.6" cy="241" r="2.2" fill="#b8d894"/>
<text x="492.8" y="243.4" font-size="6.8" textLength="7.6" lengthAdjust="spacingAndGlyphs">21</text>
<circle cx="487.6" cy="249.4" r="2.2" fill="#449c40"/>
<text x="492.8" y="251.8" font-size="6.8" textLength="7.6" lengthAdjust="spacingAndGlyphs">24</text>
<circle cx="487.6" cy="257.9" r="2.2" fill="#eba6a5"/>
<text x="492.8" y="260.3" font-size="6.8" textLength="7.6" lengthAdjust="spacingAndGlyphs">25</text>
<circle cx="487.6" cy="266.3" r="2.2" fill="#c8b8d6"/>
<text x="492.8" y="268.7" font-size="6.8" textLength="7.6" lengthAdjust="spacingAndGlyphs">30</text>
<circle cx="487.6" cy="274.7" r="2.2" fill="#704c9c"/>
<text x="492.8" y="277.1" font-size="6.8" textLength="7.6" lengthAdjust="spacingAndGlyphs">37</text>
<circle cx="487.6" cy="283.2" r="2.2" fill="#d9352f"/>
<text x="492.8" y="285.6" font-size="6.8" textLength="7.6" lengthAdjust="spacingAndGlyphs">41</text>
<circle cx="487.6" cy="291.6" r="2.2" fill="#f2c27e"/>
<text x="492.8" y="294" font-size="6.8" textLength="7.6" lengthAdjust="spacingAndGlyphs">42</text>
<circle cx="487.6" cy="300.1" r="2.2" fill="#ec8a34"/>
<text x="492.8" y="302.5" font-size="6.8" textLength="7.6" lengthAdjust="spacingAndGlyphs">44</text>
<circle cx="487.6" cy="308.5" r="2.2" fill="#a95c3a"/>
<text x="492.8" y="310.9" font-size="6.8" textLength="7.6" lengthAdjust="spacingAndGlyphs">46</text>
<path transform="scale(.1)" stroke="#3f5a92" stroke-width="23" fill="none" d="M3505 3856h23m-23 174h23m-23 43h23m-10-325h23m-23 87h23m-11 151h23m-23 87h23m-11-281h23m-23 303h23m-10-325h23m-23 260h23m-10-282h23m-23 87h23m-23 216h23m-11-368h23m-23 87h23m-23 43h23m-23 43h23m-23 217h23m-11-368h23m-23 173h23m-23 43h23m-23 87h23m-23 43h23m-23 44h23m-23 43h23m-23 43h23m-10-411h23m-23 43h23m-23 43h23m-23 44h23m-23 130h23m-23 86h23m-10-454h23m-23 43h23m-23 43h23m-23 130h23m-23 87h23m-23 43h23m-23 87h23m-23 43h23m-23 43h23m1-433h23m-23 130h23m-23 130h23m-10-368h23m-23 87h23m2 303h23m-11 108h23m-10-411h23m-10-109h23m-23 44h23m-23 519h23m1 44h23m-10-628h23m-23 43h23m-23 87h23m-23 216h23m27-346h23m-23 86h23m-23 87h23m-10-108h23m-11-22h23m-23 563h23m-11-585h23m-10-21h23m-23 130h23m-10-109h23m-23 44h23m-23 43h23m1-87h23m-10 22h23m-23 43h23m-10-21h23m-23 43h23m127-43h23m-11 21h23m77-43h23m27 0h23m39-22h23m-10 22h23m52-43h23m2 43h23m2-43h23"/>
<path transform="scale(.1)" stroke="#b3dcd6" stroke-width="23" fill="none" d="M3568 3705h23m-23 303h23m-23 173h23m-11-454h23m-23 303h23m-23 86h23m-23 44h23m-23 43h23m-11-541h23m-23 86h23m-23 44h23m-23 173h23m-10-238h23m-23 346h23m-23 130h23m-10-411h23m-23 129h23m-23 304h23m-11-585h23m-11 65h23m-10-22h23m-10-65h23m-23 44h23m-11-22h23m-23 43h23m-11-65h23m-10 22h23m2 0h23m-23 43h23m-23 44h23m-11-22h23m-10-22h23m-10-65h23m-23 87h23m-11-108h23m-23 130h23m-11-109h23m-23 87h23m-10 22h23m-10-109h23m-23 87h23m-11-108h23m-23 86h23m-23 44h23m-11-65h23m-23 43h23m15-108h23m-23 43h23m-11 22h23m-23 43h23m-10-108h23m-10 21h23m-11-21h23m-23 43h23m-23 43h23m-11-65h23m-23 44h23m-23 43h23m-10-65h23m-10-22h23m-11 65h23m-11-21h23m-23 43h23m-10-108h23m-23 43h23m-10 65h23m-11-108h23m-23 43h23m-11-22h23m-23 44h23m15-65h23m15 21h23m-23 44h23m-11-22h23m2 0h23m-10-22h23m-23 44h23m-11-65h23m-23 86h23m-11-65h23m-10-21h23m-23 86h23m-10-65h23m-11-21h23m-23 86h23m-23 303h23m-11-368h23m-23 217h23m3-217h23m-23 44h23m-11-22h23m-23 476h23m-11 65h23m-10-281h23m-10-282h23m-23 44h23m1 476h23m-10-498h23m-23 87h23m-10-109h23m-23 44h23m1 0h23m-10-65h23m-10 21h23m-23 44h23m-11-22h23m2-43h23m-23 130h23m-10-109h23m-23 563h23m-11-541h23m-11-22h23m-10-21h23m-23 43h23m-23 390h23m-10-412h23m-23 174h23m-11-195h23m-23 259h23m-23 174h23m-11-412h23m-10-21h23m2 0h23m-23 43h23m-11-22h23m-10 22h23m-23 303h23m-10-238h23m27 303h23"/>
<path transform="scale(.1)" stroke="#e45a5f" stroke-width="23" fill="none" d="M3630 3683h23m-23 44h23m-23 476h23m-11-541h23m-23 433h23m-23 43h23m-10-282h23m-23 87h23m-10-151h23m-23 43h23m-23 130h23m-23 173h23m-23 43h23m-11-454h23m-23 173h23m-23 86h23m-23 87h23m-11-325h23m-23 87h23m-23 43h23m-23 43h23m-23 260h23m-10-498h23m-23 217h23m-23 86h23m-23 130h23m-10-324h23m-23 86h23m-23 87h23m-23 43h23m-23 87h23m-11-22h23m-23 43h23m-11-498h23m-23 44h23m-23 216h23m-23 173h23m-23 44h23m-23 43h23m-23 43h23m-10-281h23m-23 86h23m-10-324h23m-23 303h23m-23 216h23m-11-498h23m-23 347h23m-23 86h23m-11-281h23m-23 173h23m-23 43h23m-10-151h23m-10-152h23m-23 44h23m-23 129h23m-23 304h23m-11-239h23m-11-151h23m-23 346h23m-10-238h23m-23 87h23m-10-238h23m-23 43h23m-23 43h23m-23 43h23m-23 44h23m-23 43h23m-23 130h23m-11-455h23m-23 44h23m-23 259h23m-23 44h23m-23 130h23m-23 43h23m-11-368h23m-23 43h23m-23 130h23m-23 173h23m-10-454h23m-23 43h23m-23 43h23m-23 43h23m-23 130h23m-23 44h23m-23 130h23m-10-368h23m-23 43h23m-23 43h23m-23 87h23m-23 216h23m-11-454h23m-23 43h23m-23 43h23m-23 173h23m-23 44h23m-23 130h23m-23 43h23m-11-455h23m-23 87h23m-23 43h23m-23 87h23m-23 43h23m-23 43h23m-23 87h23m-23 87h23m-10-628h23m-23 86h23m-23 44h23m-23 43h23m-23 43h23m-23 43h23m-23 44h23m-23 43h23m-23 43h23m-23 87h23m-10-411h23m-23 43h23m-23 87h23m-23 129h23m-23 44h23m-23 43h23m-23 43h23m-23 87h23m-23 87h23m-11-455h23m-23 43h23m-23 43h23m-23 87h23m-23 87h23m-23 43h23m-23 43h23m-23 44h23m-11-368h23m-23 43h23m-23 43h23m-23 43h23m-23 44h23m-23 43h23m-23 130h23m-23 87h23m-10-542h23m-23 44h23m-23 86h23m-23 43h23m-23 217h23m-23 43h23m-23 44h23m-23 43h23m-10-585h23m-23 44h23m-23 86h23m-23 44h23m-23 86h23m-23 217h23m-11-412h23m-23 173h23m-23 87h23m-23 130h23m-23 87h23m-23 43h23m-11-411h23m-23 43h23m-23 43h23m-23 87h23m-23 86h23m-23 44h23m-23 43h23m-23 43h23m-23 44h23m-10-628h23m-23 43h23m-23 43h23m-23 44h23m-23 86h23m-23 87h23m-23 43h23m-23 173h23m-23 44h23m-23 43h23m-10-498h23m-23 43h23m-23 44h23m-23 86h23m-23 130h23m-23 130h23m-23 43h23m-23 44h23m-11-498h23m-23 43h23m-23 43h23m-23 87h23m-23 43h23m-23 87h23m-23 173h23m-11-585h23m-23 44h23m-23 43h23m-23 260h23m-23 43h23m-23 87h23m-23 43h23m-23 43h23m-23 44h23m-10-628h23m-23 43h23m-23 43h23m-23 217h23m-23 43h23m-23 43h23m-23 87h23m-23 43h23m-23 87h23m-10-498h23m-23 43h23m-23 44h23m-23 43h23m-23 43h23m-23 87h23m-23 43h23m-23 43h23m-23 130h23m-23 44h23m-11-628h23m-23 173h23m-23 43h23m-23 43h23m-23 44h23m-23 86h23m-23 44h23m-23 43h23m-23 43h23m-23 44h23m-23 43h23m-11-368h23m-23 43h23m-23 87h23m-23 86h23m-23 87h23m-23 87h23m-10-628h23m-23 130h23m-23 86h23m-23 43h23m-23 44h23m-23 43h23m-23 43h23m-23 130h23m-23 44h23m-23 43h23m-10-411h23m-23 86h23m-23 87h23m-23 43h23m-23 43h23m-23 87h23m-23 87h23m-11-498h23m-23 86h23m-23 43h23m-23 44h23m-23 43h23m-23 43h23m-23 44h23m-23 43h23m-23 87h23m-11-498h23m-23 43h23m-23 43h23m-23 44h23m-23 86h23m-23 43h23m-23 44h23m-23 43h23m-23 43h23m-23 44h23m-23 43h23m-23 43h23m-10-454h23m-23 86h23m-23 43h23m-23 87h23m-23 43h23m-23 44h23m-23 43h23m-23 43h23m-23 44h23m-23 43h23m-10-498h23m-23 43h23m-23 44h23m-23 43h23m-23 43h23m-23 43h23m-23 44h23m-23 43h23m-23 43h23m-23 44h23m-23 43h23m-23 43h23m-23 44h23m-11-498h23m-23 86h23m-23 87h23m-23 43h23m-23 87h23m-23 43h23m-23 43h23m-23 44h23m-23 43h23m-11-498h23m-23 43h23m-23 44h23m-23 86h23m-23 43h23m-23 87h23m-23 43h23m-23 44h23m-23 43h23m-23 87h23m-10-585h23m-23 43h23m-23 44h23m-23 43h23m-23 43h23m-23 87h23m-23 43h23m-23 43h23m-23 44h23m-23 86h23m-23 44h23m-23 43h23m-10-498h23m-23 43h23m-23 44h23m-23 43h23m-23 43h23m-23 43h23m-23 44h23m-23 43h23m-23 43h23m-23 44h23m-23 86h23m-11-584h23m-23 86h23m-23 44h23m-23 86h23m-23 43h23m-23 44h23m-23 43h23m-23 87h23m-23 43h23m-11-411h23m-23 43h23m-23 43h23m-23 44h23m-23 43h23m-23 43h23m-23 87h23m-23 43h23m-23 43h23m-23 44h23m-23 43h23m-23 87h23m-10-542h23m-23 44h23m-23 43h23m-23 43h23m-23 43h23m-23 87h23m-23 43h23m-23 44h23m-23 43h23m-23 43h23m-23 44h23m-23 43h23m-10-498h23m-23 43h23m-23 44h23m-23 43h23m-23 43h23m-23 43h23m-23 87h23m-23 43h23m-23 44h23m-23 86h23m-23 44h23m-11-628h23m-23 43h23m-23 43h23m-23 173h23m-23 44h23m-23 43h23m-23 43h23m-23 44h23m-23 43h23m-23 130h23m-11-585h23m-23 44h23m-23 43h23m-23 43h23m-23 44h23m-23 43h23m-23 43h23m-23 43h23m-23 44h23m-23 43h23m-23 43h23m-23 44h23m-23 86h23m-23 44h23m-10-628h23m-23 86h23m-23 87h23m-23 43h23m-23 43h23m-23 44h23m-23 43h23m-23 43h23m-23 44h23m-23 43h23m-23 43h23m-23 44h23m-23 43h23m-10-498h23m-23 43h23m-23 44h23m-23 43h23m-23 43h23m-23 43h23m-23 44h23m-23 43h23m-23 43h23m-23 44h23m-23 86h23m-23 44h23m-11-585h23m-23 43h23m-23 44h23m-23 43h23m-23 43h23m-23 43h23m-23 87h23m-23 43h23m-23 44h23m-23 43h23m-23 43h23m-23 44h23m-23 43h23m-11-585h23m-23 87h23m-23 43h23m-23 44h23m-23 43h23m-23 43h23m-23 43h23m-23 44h23m-23 43h23m-23 43h23m-23 44h23m-23 43h23m-23 43h23m-23 44h23m-10-498h23m-23 43h23m-23 43h23m-23 43h23m-23 44h23m-23 43h23m-23 43h23m-23 44h23m-23 43h23m-23 43h23m-23 44h23m-10-455h23m-23 43h23m-23 87h23m-23 43h23m-23 43h23m-23 87h23m-23 43h23m-23 44h23m-23 86h23m-11-498h23m-23 130h23m-23 43h23m-23 44h23m-23 43h23m-23 130h23m-23 43h23m-23 44h23m-23 43h23m-11-585h23m-23 44h23m-23 43h23m-23 43h23m-23 87h23m-23 43h23m-23 43h23m-23 44h23m-23 43h23m-23 43h23m-23 44h23m-23 43h23m-23 43h23m-23 44h23m-10-585h23m-23 43h23m-23 87h23m-23 43h23m-23 43h23m-23 44h23m-23 43h23m-23 43h23m-23 44h23m-23 43h23m-23 43h23m-23 44h23m-23 43h23m-10-541h23m-23 86h23m-23 44h23m-23 86h23m-23 130h23m-23 43h23m-23 44h23m-23 43h23m-23 87h23m-11-628h23m-23 86h23m-23 44h23m-23 43h23m-23 43h23m-23 43h23m-23 130h23m-23 44h23m-23 43h23m-23 43h23m-23 44h23m-23 43h23m-11-541h23m-23 43h23m-23 87h23m-23 86h23m-23 43h23m-23 44h23m-23 43h23m-23 43h23m-23 44h23m-23 43h23m-23 43h23m-23 44h23m-10-542h23m-23 44h23m-23 43h23m-23 86h23m-23 44h23m-23 43h23m-23 43h23m-23 87h23m-23 43h23m-23 44h23m-23 43h23m-10-541h23m-23 43h23m-23 43h23m-23 87h23m-23 43h23m-23 43h23m-23 44h23m-23 43h23m-23 43h23m-23 44h23m-23 43h23m-23 43h23m-23 44h23m-11-585h23m-23 43h23m-23 87h23m-23 43h23m-23 87h23m-23 43h23m-23 43h23m-23 87h23m-23 43h23m-23 44h23m-23 43h23m-11-541h23m-23 130h23m-23 43h23m-23 43h23m-23 43h23m-23 44h23m-23 43h23m-23 130h23m-23 43h23m-10-541h23m-23 43h23m-23 44h23m-23 43h23m-23 43h23m-23 43h23m-23 44h23m-23 43h23m-23 43h23m-23 44h23m-23 43h23m-23 43h23m-23 44h23m-23 43h23m-10-585h23m-23 87h23m-23 43h23m-23 44h23m-23 86h23m-23 43h23m-23 44h23m-23 43h23m-23 43h23m-23 44h23m-23 43h23m-23 43h23m-11-498h23m-23 87h23m-23 43h23m-23 43h23m-23 44h23m-23 43h23m-23 87h23m-23 43h23m-23 43h23m-23 87h23m-11-541h23m-23 43h23m-23 87h23m-23 43h23m-23 43h23m-23 43h23m-23 44h23m-23 43h23m-23 43h23m-23 87h23m-23 43h23m-10-454h23m-23 43h23m-23 86h23m-23 44h23m-23 86h23m-23 87h23m-23 43h23m-23 44h23m-10-542h23m-23 44h23m-23 86h23m-23 44h23m-23 43h23m-23 43h23m-23 130h23m-23 43h23m-23 87h23m-23 43h23m-11-541h23m-23 43h23m-23 44h23m-23 43h23m-23 86h23m-23 44h23m-23 43h23m-23 43h23m-23 44h23m-23 43h23m-23 43h23m-23 44h23m-11-498h23m-23 86h23m-23 44h23m-23 43h23m-23 43h23m-23 43h23m-23 44h23m-23 43h23m-23 43h23m-23 44h23m-23 43h23m-10-455h23m-23 44h23m-23 129h23m-23 44h23m-23 43h23m-23 87h23m-23 43h23m-23 43h23m-23 44h23m-10-455h23m-23 43h23m-23 44h23m-23 43h23m-23 86h23m-23 44h23m-23 86h23m-23 87h23m-11-455h23m-23 44h23m-23 43h23m-23 43h23m-23 43h23m-23 44h23m-23 43h23m-23 43h23m-23 44h23m-23 43h23m-23 43h23m-11-368h23m-23 44h23m-23 129h23m-23 44h23m-23 43h23m-23 43h23m-23 44h23m-10-325h23m-23 43h23m-23 43h23m-23 44h23m-23 43h23m-23 43h23m-23 44h23m-23 43h23m-10-195h23m-23 43h23m-23 87h23"/>
<path transform="scale(.1)" stroke="#5a1420" stroke-width="23" fill="none" d="M3630 3770h23m-23 43h23m-23 87h23m-23 86h23m-23 174h23m-11-325h23m-23 86h23m-23 44h23m-23 86h23m-23 174h23m3-520h23m-23 43h23m-23 347h23m-23 130h23m-11-282h23m-23 173h23m-23 87h23m-11-541h23m-23 43h23m-23 87h23m-23 173h23m-23 43h23m-10-238h23m-23 260h23m-23 173h23m-10-498h23m-23 346h23m-23 174h23m-11-412h23m-23 217h23m-11-238h23m-23 173h23m-10-195h23m-23 43h23m-23 260h23m-23 130h23m-10-282h23m-23 130h23m-11-411h23m-23 216h23m-23 217h23m-23 87h23m-11-498h23m-10-22h23m-23 390h23m-23 86h23m-10-238h23m-23 87h23m-23 43h23m-23 43h23m-23 130h23m-11-411h23m-23 43h23m-23 43h23m-23 44h23m-23 130h23m-23 86h23m-11-368h23m-23 130h23m-23 87h23m-23 43h23m-23 130h23m-10-498h23m-23 43h23m-23 87h23m-23 43h23m-23 87h23m-23 86h23m-23 130h23m-23 44h23m-10-412h23m-23 433h23m-23 44h23m-11-455h23m-23 43h23m-23 43h23m-23 87h23m-23 130h23m-11-281h23m-23 129h23m-23 44h23m-23 86h23m-23 44h23m-10-195h23m-23 173h23m-23 43h23m-23 87h23m-10-455h23m-23 173h23m-23 87h23m-23 43h23m-23 44h23m-23 43h23m-23 87h23m-11-369h23m-23 44h23m-23 43h23m-23 130h23m-23 43h23m-11-324h23m-23 303h23m-23 86h23m-10-151h23m-23 86h23m-23 44h23m-23 43h23m-10-455h23m-23 130h23m-23 303h23m-11-584h23m-23 43h23m-23 87h23m-23 173h23m-23 86h23m-23 217h23m-11-585h23m-23 433h23m-23 44h23m-10-195h23m-23 43h23m-23 43h23m-23 44h23m-10-65h23m-23 43h23m-23 130h23m-23 43h23m-23 44h23m-11-498h23m-23 43h23m-23 43h23m-23 87h23m-23 130h23m-23 86h23m-11-411h23m-23 216h23m-23 87h23m-10-238h23m-23 86h23m-23 174h23m-23 43h23m-10-455h23m-23 217h23m-23 86h23m-23 44h23m-23 86h23m-23 44h23m-11-455h23m-23 216h23m-23 130h23m-23 87h23m-23 43h23m-23 44h23m-11-412h23m-23 87h23m-23 43h23m-23 43h23m-10-194h23m-23 43h23m-23 43h23m-23 217h23m-23 130h23m-10-239h23m-23 217h23m-11-455h23m-23 44h23m-23 216h23m-11-325h23m-23 44h23m-23 43h23m-23 43h23m-23 44h23m-23 129h23m-23 87h23m-23 87h23m-10-412h23m-23 87h23m-23 260h23m-23 43h23m-10-368h23m-23 43h23m-23 87h23m-23 86h23m-23 174h23m-23 86h23m-11-65h23m-23 87h23m-11 22h23m-10-585h23m-23 130h23m-23 130h23m-10-238h23m-11 108h23m-11-108h23m-23 303h23m-23 216h23m-10-584h23m-23 476h23m-10 65h23m-23 87h23m-11-455h23m-23 216h23m-11-65h23m-10-324h23m-10 541h23m-11-368h23m-23 43h23m-23 303h23m-23 44h23m27-260h23m2-217h23m-23 520h23m-10-411h23m-23 173h23m-23 260h23m-11-498h23m-23 43h23m-23 260h23m-11-238h23m3-87h23m-23 216h23m-23 44h23m-11-65h23m-23 43h23m-11-195h23m-23 87h23m-10-22h23m2-86h23m-11-22h23m-23 43h23m-23 303h23m-23 44h23m3-433h23m-23 173h23m-11-108h23m-11 368h23m-10-65h23m-10-109h23m-23 44h23m-23 130h23m-11-282h23m-11-108h23m-10 65h23m-23 43h23m40 22h23"/>
<path transform="scale(.1)" stroke="#f1e9d8" stroke-width="23" fill="none" d="M3868 4051h23m-11-151h23m-23 216h23m-11-368h23m-10 195h23m14-22h23m27-173h23m-23 433h23m-10-411h23m-10 65h23m51-43h23m-23 259h23m3 44h23m1 86h23m15-411h23m-11 65h23m15 21h23m2 0h23m2 304h23m-23 43h23m15-238h23m-11-238h23m15 411h23m27 0h23m-11-152h23m15-151h23m89 151h23m-23 174h23m-11-412h23m-10-65h23m-23 130h23m27 173h23m-10-324h23m-23 216h23m-23 217h23m1-260h23m-23 43h23m3 87h23"/>
<path transform="scale(.1)" stroke="#ecb04a" stroke-width="23" fill="none" d="M3568 3792h23m-23 86h23m-23 87h23m-23 173h23m-11-238h23m-23 43h23m-23 43h23m-11-151h23m-23 390h23m-10-542h23m-23 477h23m-10-109h23m-11-195h23m-23 87h23m-23 87h23m-23 43h23m-23 43h23m-11-324h23m-23 389h23m-10-411h23m-23 43h23m-23 87h23m-23 86h23m-23 44h23m-23 43h23m-23 43h23m-23 44h23m-23 43h23m-10-325h23m-23 43h23m-23 87h23m-23 43h23m-11-281h23m-23 43h23m-23 43h23m-23 304h23m-11-109h23m-23 44h23m-23 130h23m-10-412h23m-23 43h23m-23 87h23m-23 130h23m-23 87h23m-10-412h23m-23 87h23m-23 86h23m-23 217h23m-11-368h23m-23 86h23m-23 44h23m-23 43h23m-23 43h23m-23 174h23m-23 43h23m-11-455h23m-23 87h23m-23 86h23m-23 87h23m-10-152h23m-23 174h23m-23 86h23m-23 44h23m-10-412h23m-23 44h23m-23 43h23m-23 43h23m-23 130h23m-23 87h23m-23 43h23m-23 87h23m-11-455h23m-23 43h23m-23 87h23m-23 43h23m-23 43h23m-23 217h23m-11-455h23m-23 44h23m-23 86h23m-23 43h23m-23 44h23m-23 130h23m-23 43h23m-23 43h23m-23 44h23m-10-412h23m-23 43h23m-23 87h23m-23 43h23m-23 87h23m-23 87h23m-23 43h23m-10-368h23m-23 260h23m-23 43h23m-11-195h23m-23 130h23m-23 87h23m-11-368h23m-23 129h23m-23 130h23m-23 44h23m-23 130h23m-10-369h23m-23 217h23m-23 130h23m-10-108h23m1 43h23m-23 87h23m53-390h23m-23 260h23m27-174h23m-23 130h23m-11-65h23m-11-238h23m-10 238h23m27-130h23"/>
<path transform="scale(.1)" stroke="#c4c4c4" stroke-width="23" fill="none" d="M3505 3770h23m-23 43h23m-23 87h23m-23 43h23m-23 43h23m-23 130h23m-10-324h23m-23 86h23m-23 43h23m-23 44h23m-23 43h23m-23 43h23m-23 44h23m-23 43h23m-11-411h23m-23 43h23m-23 43h23m-23 43h23m-23 44h23m-23 43h23m-23 87h23m-23 86h23m-23 44h23m-11-455h23m-23 43h23m-23 87h23m-23 43h23m-23 43h23m-23 44h23m-23 43h23m-23 43h23m-23 87h23m-23 43h23m-10-454h23m-23 86h23m-23 43h23m-23 44h23m-23 43h23m-23 43h23m-23 87h23m-23 43h23m-23 44h23m-23 43h23m-10-282h23m-23 174h23m14-152h23m-23 43h23m-10-151h23"/>
<text transform="translate(350 351.4) scale(1.13 1)" font-size="11.5" font-weight="bold" fill="#000">F</text>
<text x="413.5" y="348.7" font-size="8.6" text-anchor="middle" textLength="19.2" lengthAdjust="spacingAndGlyphs">PT03</text>
<text x="505.4" y="358.4" font-size="6.6" text-anchor="end" textLength="23.4" lengthAdjust="spacingAndGlyphs">Number</text>
<text x="501.8" y="365.8" font-size="6.6" text-anchor="end" textLength="16.2" lengthAdjust="spacingAndGlyphs">CNVs</text>
<circle cx="488.2" cy="374" r="2.1" fill="#5a1420"/>
<text x="492.8" y="376.4" font-size="6.8" textLength="7.4" lengthAdjust="spacingAndGlyphs">40</text>
<circle cx="488.2" cy="382.4" r="2.1" fill="#e45a5f"/>
<text x="492.8" y="384.8" font-size="6.8" textLength="7.4" lengthAdjust="spacingAndGlyphs">39</text>
<circle cx="488.2" cy="390.8" r="2.1" fill="#ecb04a"/>
<text x="492.8" y="393.2" font-size="6.8" textLength="7.4" lengthAdjust="spacingAndGlyphs">32</text>
<circle cx="488.2" cy="399.2" r="2.1" fill="#b3dcd6"/>
<text x="492.8" y="401.6" font-size="6.8" textLength="7.4" lengthAdjust="spacingAndGlyphs">25</text>
<circle cx="488.2" cy="407.6" r="2.1" fill="#3f5a92"/>
<text x="492.8" y="410" font-size="6.8" textLength="7.4" lengthAdjust="spacingAndGlyphs">15</text>
<text transform="translate(6.1 480) scale(1.13 1)" font-size="11.5" font-weight="bold" fill="#000">G</text>
<rect x="28.9" y="483.4" width="95.2" height="56.6" fill="#fff" stroke="#222" stroke-width="0.9"/>
<polygon points="38,491.9 44,488.5 49.6,486.6 65,487.2 83.5,487.7 100,488.6 113,489.8 119,493 119.4,496.2 117.3,504.6 120.5,517.3 118.4,525.8 113,532.1 100,535 89.8,536.4 72.9,535.3 55,534.8 43.3,534.2 37,530.4 35.9,517.3 34.8,506.7" fill="#93509f"/>
<path transform="scale(.1)" stroke="#703088" stroke-width="12" fill="none" d="M350 5122h12m-9-4h12m-7 91h12m-10-85h12m-11-120h12m-11 170h12m-11 4h12m-12 52h12m-6-182h12m-8 107h12m-9 72h12m-11-102h12m-12 39h12m-12 15h12m-11-238h12m-10 86h12m-12 1h12m-12 226h12m-4-210h12m-11-100h12m-12 96h12m-12 157h12m-10-8h12m-11-161h12m-12 6h12m-11-72h12m-9 75h12m-12 56h12m-11 142h12m-10 84h12m-8-247h12m-12 209h12m-11-10h12m-8-296h12m-8-9h12m-10 316h12m-10-310h12m-10 67h12m-12 48h12m-12 158h12m-12 87h12m-11-403h12m-11 88h12m-10 76h12m-9 200h12m-10-43h12m-9-227h12m-12 211h12m-10-338h12m-12 228h12m-9-214h12m-11 83h12m-12 140h12m-10-108h12m-12 47h12m-8 179h12m-9-353h12m-11 445h12m-10-360h12m-11 159h12m-12 112h12m-10-70h12m-11 18h12m-12 20h12m-11-203h12m-12 3h12m-11 216h12m-11-311h12m-12 396h12m-11-351h12m-11 295h12m-11-225h12m-11 293h12m-11-169h12m-12 75h12m-11 1h12m-11-325h12m-11 117h12m-12 303h12m-11-72h12m-11-92h12m-8-97h12m-11 32h12m-12 97h12m-12 16h12m-11-302h12m-11 112h12m-11-93h12m-12 41h12m-11 179h12m-10-102h12m-11 72h12m-9-169h12m-11 248h12m-11-231h12m-11 92h12m-12 44h12m-9 75h12m-11-126h12m-11-35h12m-12 229h12m-10-250h12m-11 268h12m-11-162h12m-12 78h12m-11-16h12m-12 118h12m-11-293h12m-12 156h12m-11-59h12m-8-53h12m-12 198h12m-11-197h12m-10 246h12m-10-190h12m-9-35h12m-11 201h12m-12 12h12m-11-353h12m-11 134h12m-9-94h12m-11 328h12m-9-345h12m-11 210h12m-10-284h12m-12 448h12m-11-274h12m-11-165h12m-12 62h12m-12 63h12m-10 295h12m-11-97h12m-12 14h12m-10-142h12m-12 63h12m-10 188h12m-11-217h12m-11 111h12m-8-152h12m-10 91h12m-11 47h12m-11-216h12m-12 305h12m-9-271h12m-10-104h12m-12 184h12m-9-66h12m-11 16h12m-11 231h12m-11-311h12m-10 14h12m-12 210h12m-11 2h12m-12 12h12m-11 105h12m-11-348h12m-11 314h12m-11 54h12m-8-299h12m-12 122h12m-11-1h12m-11-227h12m-11 40h12m-9-85h12m-11 295h12m-12 66h12m-11-297h12m-3-71h12m-12 43h12m-12 408h12m-11-264h12m-11-198h12m-12 165h12m-12 25h12m-12 35h12m-11-125h12m-12 45h12m-11 319h12m-6-180h12m-12 125h12m-11-360h12m-12 331h12m-10-172h12m-8-130h12m-11 110h12m-11-62h12m-10-108h12m-12 14h12m-11 266h12m-10 90h12m-11-81h12m-10-184h12m-8 331h12m-10-122h12m-10-298h12m-11 400h12m-10-120h12m-8-280h12m-12 30h12m-12 224h12m-11 71h12m-11-24h12m-11-156h12m-11-9h12m-8 152h12m-10-68h12m-9-103h12m-11-113h12m-12 408h12m-11-222h12m-10-121h12m-12 221h12m-11-176h12m-12 86h12m-12 201h12m-11-351h12m-9 274h12m-8-343h12m-12 273h12m-10-173h12m-12 200h12m-5-149h12m-11 267h12m-11-221h12m-11 165h12m-11-77h12m-11-169h12m-12 150h12m-7 100h12m-12 42h12m-11-120h12m-11 156h12m-11-57h12m-11-190h12m-11-111h12m-8 265h12m-10-206h12m-11 81h12m-10 152h12m-12 26h12m-10-163h12m-11-29h12m-11 107h12m-12 2h12m-11 99h12m-10-205h12m-12 15h12m-11 187h12m-10-406h12m-8-18h12m-12 346h12m-10-143h12m-11 121h12m-9-205h12m-12 149h12m-10-270h12m-11 221h12m-11-123h12m-3 115h12m-12 149h12m-7-227h12m-12 251h12m-11-252h12m-11 152h12m-9 73h12m-9 45h12m-11-319h12m-8 64h12m-12 133h12m-8 98h12m-6 85h12m-11 1h12m-10-257h12m-10 76h12m-11-144h12m-12 108h12m-11 53h12m-10-85h12m-8-169h12m-8 165h12m-11-76h12m-10-74h12m-12 13h12m-12 50h12m-12 67h12m-10 85h12m-7 37h12m-11-101h12m-11 116h12m-7 102h12m-11-377h12m-12 168h12m-10-89h12m-12 137h12m-8-143h12m-11 309h12m-11-404h12m-9 216h12m-12 86h12m-10-271h12m-12 182h12m-11 80h12m-12 93h12m-9-101h12m-12 94h12m-10-49h12m-8-355h12m-12 0h12m-11 79h12m-10 129h12m-10 251h12m-11-243h12m-9-95h12m-12 140h12m-12 84h12m-12 4h12m-11-300h12m-10 259h12m-9 1h12m-12 41h12m-10-137h12m-11 45h12m-12 74h12m-12 138h12m-10-126h12m-11 51h12m-10-378h12m-12 356h12m-11-310h12m-11 280h12m-10 120h12m-11-179h12m-7-207h12m-12 216h12m-10-207h12m-9 73h12m-9 305h12m-10-448h12m-9 51h12m-12 158h12m-11 49h12m-9-225h12m-12 342h12m-10-8h12m-8 29h12m-8-250h12m-12 36h12m-3 157h12m-12 91h12m-9-313h12m-10 133h12m-9-222h12m-12 102h12m-9 299h12m-12 2h12m-9-400h12m-10 31h12m-11 365h12m-11-369h12m-11-11h12m-10-36h12m-12 373h12m-12 75h12m-11-429h12m-10-23h12m-10 236h12m-9 35h12m-12 142h12m-7-89h12m-2-279h12m-11 93h12m-10-7h12m-12 179h12m-10-231h12m-11-15h12m-11 5h12m-6 343h12m-10-318h12m-11 123h12m-11-78h12m-12 26h12m-9 207h12m-10-131h12m-10 180h12m-12 1h12m-9-61h12m-11-284h12m-11 66h12m-10-104h12m-12 131h12m-11 165h12m-9-270h12m-12 264h12m-11 90h12m-11-366h12m-9 55h12m-12 218h12m-11-132h12m-11 188h12m-11-162h12m-8 18h12m-9-132h12m-11 251h12m-10-44h12m-11 96h12m-5-116h12m-12 143h12m-11-295h12m-9 118h12m-11-88h12m-6-83h12m-9-46h12m-12 162h12m-12 42h12m-12 87h12m-12 50h12m-11-64h12m-11-207h12m-10 47h12m-7 69h12m-12 24h12m-11-162h12m-1-100h12m-10 49h12m-11 92h12m-8 293h12m-11-256h12m-8 176h12m-12 51h12m-4-259h12m-11-47h12m-11-78h12m-12 323h12m-11 36h12m-9 58h12m-9-206h12m-10-121h12m-12 224h12m-10-112h12m-12 108h12m-9 7h12m-10 23h12m-11-205h12m-11 23h12m-11-146h12m-11-10h12m-12 107h12m-11-2h12m-11 219h12m-11 65h12m-6-3h12m-11-382h12m-12 207h12m-11 111h12m-11-224h12m-11 14h12m-11-41h12m-10 248h12m-11-210h12m-12 3h12m-11 74h12m-12 43h12m-12 82h12m-11-149h12m-12 63h12m-10 152h12m-10-176h12m-12 32h12m-11 41h12m-9-67h12m-11 121h12m-11-335h12m-12 68h12m-11 152h12m-8-123h12m-9 131h12m-10 27h12m-12 77h12m-10-259h12m-8-28h12m-7 116h12m-7-107h12m-12 87h12m-11 19h12m-11 166h12m-11-333h12m-11 312h12m-12 9h12m-11-269h12m-10 20h12m-10 158h12m-11-157h12m-11-51h12m-12 201h12m-8-102h12m-11 276h12m-11-196h12m-12 195h12m-11-307h12m-11 1h12m-12 231h12m-10 40h12m-11-348h12m-11-6h12m-12 104h12m-12 136h12m-10 111h12m-7-98h12m-11-212h12m-11-6h12m-11 148h12m-1 21h12m-11-9h12m-11-92h12m-12 94h12m-12 29h12m-9-165h12m-9-46h12m-12 63h12m-7 52h12m-11-68h12m-8 209h12m-11-191h12m-11 229h12m-6 39h12m-7-300h12m-7 199h12m-11-21h12m-10-185h12"/>
<path transform="scale(.1)" stroke="#a870b8" stroke-width="12" fill="none" d="M355 5083h12m-10 117h12m-12 2h12m-11 19h12m-9-128h12m-6-61h12m-11-57h12m-11 45h12m-11 83h12m-12 9h12m-11 12h12m-11-9h12m-10 90h12m-7 37h12m-11-310h12m-10 239h12m-12 117h12m-9-107h12m-10 32h12m-6-293h12m-12 243h12m-11-226h12m-12 377h12m-6-294h12m-12 239h12m-10 22h12m-11-8h12m-10-162h12m-9 215h12m-8-6h12m-11-77h12m-8-47h12m-12 71h12m-9-240h12m-11-88h12m-12 265h12m-11-167h12m-12 86h12m-11 14h12m-9-192h12m-11 51h12m-10 247h12m-8-149h12m-4-131h12m-7 371h12m-11-190h12m-5-29h12m-10 208h12m-4-436h12m-12 182h12m-2-183h12m-10 278h12m-7-57h12m-10-17h12m-9-3h12m-12 31h12m-11-228h12m-11 150h12m-10-21h12m-11 205h12m-11 48h12m-11-140h12m-11 95h12m-11-161h12m-11 80h12m-12 22h12m-11-27h12m-7 181h12m-9 4h12m-10-421h12m-12 156h12m-12 206h12m-11-337h12m-7 42h12m-9 258h12m-11-90h12m-7-209h12m-11 323h12m-12 85h12m-12 4h12m-11-35h12m-11-245h12m-12 122h12m-11-35h12m-12 37h12m-12 33h12m-9-121h12m-12 70h12m-11-2h12m-11-118h12m-11 49h12m-11 42h12m-12 187h12m-8-49h12m-8-8h12m-11 45h12m-10-39h12m-12 35h12m-11-293h12m-11 123h12m-10-79h12m-10-183h12m-10 80h12m-12 92h12m-12 168h12m-10 87h12m-10-346h12m-9 311h12m-9-107h12m-9 110h12m-9-335h12m-11 192h12m-9-155h12m-10 301h12m-6-55h12m-12 22h12m-9-23h12m-9-276h12m-10 220h12m-12 7h12m-7-141h12m-10 244h12m-12 42h12m-11-391h12m-12 78h12m-12 78h12m-6 205h12m-11-69h12m-8-271h12m-10 65h12m-9 176h12m-11-246h12m-11 300h12m-11 13h12m-11-170h12m-8 258h12m-11-21h12m-11-212h12m-12 48h12m-12 26h12m-11-150h12m-11 139h12m-11-158h12m-10 65h12m-11 184h12m-11-176h12m-10 147h12m-10-236h12m-10-118h12m-10 103h12m-8 214h12m-11-74h12m-10 218h12m-11-443h12m-12 224h12m-12 67h12m-8-48h12m-10-15h12m-11-160h12m-11-40h12m-11 280h12m-11 13h12m-10 11h12m-11-44h12m-10-293h12m-4 192h12m-11-172h12m-10 327h12m-5-208h12m-10-123h12m-11 215h12m-6 220h12m-11-9h12m-11-274h12m-12 77h12m-10-178h12m-12 56h12m-12 212h12m-12 40h12m-11-388h12m-12 424h12m-10 12h12m-5-72h12m-8 38h12m-7-349h12m-9 29h12m-9 119h12m-9 73h12m-12 13h12m-11-180h12m-11 117h12m-12 129h12m-11-334h12m-12 182h12m-11 131h12m-9-281h12m-12 146h12m-12 158h12m-11-103h12m-9 2h12m-12 21h12m-11 126h12m-6-256h12m-11 4h12m-12 95h12m-11-117h12m-11 126h12m-11 36h12m-11 32h12m-10-265h12m-11 40h12m-9 152h12m-12 72h12m-11 30h12m-8 67h12m-11-98h12m-11 75h12m-11-359h12m-12 181h12m-11-36h12m-12 51h12m-10 234h12m-8-145h12m-11-160h12m-12 188h12m-10-293h12m-9 57h12m-12 245h12m-12 98h12m-11-345h12m-7 261h12m-12 100h12m-11-394h12m-12 62h12m-12 36h12m-12 67h12m-12 168h12m-10-159h12m-10-193h12m-10 277h12m-9-37h12m-10-51h12m-12 115h12m-11-212h12m-9 172h12m-11-113h12m-11-60h12m-10-151h12m-10 254h12m-10-176h12m-10 67h12m-11-3h12m-11-5h12m-11-31h12m-12 258h12m-10-361h12m-12 425h12m-9-70h12m-11-265h12m-11 90h12m-7 157h12m-9-52h12m-9 3h12m-11 91h12m-8-248h12m-12 269h12m-11-268h12m-12 52h12m-11-171h12m-12 451h12m-10-231h12m-12 153h12m-10-210h12m-12 190h12m-8-246h12m-12 65h12m-11-119h12m-12 49h12m-11-34h12m-7 259h12m-8-337h12m-12 323h12m-11 145h12m-10-124h12m-12 123h12m-11-41h12m-10-238h12m-11 20h12m-11 53h12m-11-237h12m-9 166h12m-11-82h12m-12 103h12m-12 243h12m-11-100h12m-11-243h12m-11 64h12m-9 14h12m-12 133h12m-11-7h12m-12 126h12m-7-147h12m-9-105h12m-11-50h12m-6-45h12m-12 85h12m-11 216h12m-10-367h12m-12 73h12m-12 22h12m-11 303h12m-8-3h12m-10-80h12m-10 40h12m-10-27h12m-11-168h12m-11 212h12m-12 18h12m-10-286h12m-11 183h12m-9-19h12m-11-170h12m-9-46h12m-11 302h12m-10-109h12m-11-258h12m-9 249h12m-11 59h12m-11-246h12m-11 264h12m-9-286h12m-12 34h12m-10 166h12m-10-80h12m-12 80h12m-3-104h12m-12 244h12m-9-90h12m-9-278h12m-11 6h12m-12 285h12m-9-276h12m-12 218h12m-10 128h12m-10-382h12m-10 13h12m-9 2h12m-11 258h12m-11 161h12m-11 9h12m-7-232h12m-12 46h12m-12 159h12m-11-199h12m-11-140h12m-12 45h12m-12 330h12m-10-222h12m-9-144h12m-10-2h12m-10 267h12m-7-332h12m-7 107h12m-12 107h12m-12 215h12m-8-221h12m-11 104h12m-9 62h12m-8-268h12m-11 65h12m-11 245h12m-11-351h12m-11 365h12m-9-90h12m-9-173h12m-12 134h12m-12 111h12m-8-415h12m-12 338h12m-11-20h12m-10 102h12m-11-332h12m-11-62h12m-12 212h12m-11-18h12m-9-22h12m-12 143h12m-10-111h12m-8-175h12m-11-43h12m-11 144h12m-9-28h12m-11-92h12m-7 98h12m-11 228h12m-11-94h12m-12 81h12m-9-318h12m-12 154h12m-11 36h12m-10-43h12m-12 66h12m-11-162h12m-5 196h12m-6-199h12m-8-86h12m-5 321h12m-10-81h12m-9 71h12m-11-299h12m-7 183h12m-12 211h12m-10-382h12m-8 46h12m-9-30h12m-12 8h12m-11 12h12m-10 319h12m-11 7h12m-8-367h12m-12 257h12m-10-257h12m-12 194h12m-11-151h12m-12 324h12m-9-372h12m-7 199h12m-12 82h12m-11 86h12m-7-274h12m-12 141h12m-12 143h12m-11-122h12m-12 82h12m-11-291h12m-5 241h12m-8-285h12m-12 369h12m-10-268h12m-6 78h12m-6-167h12m-10 30h12m-12 180h12m-11-30h12m-9-163h12m-12 119h12m-10 211h12m-11-146h12m-7 128h12m-10-9h12m-10-238h12m-9 181h12m-10 56h12m2-263h12m-12 193h12m-11 52h12m-10-40h12m-9-257h12m-5 215h12"/>
<path transform="scale(.1)" stroke="#c090d0" stroke-width="12" fill="none" d="M358 5188h12m-5-163h12m-11-33h12m-6 301h12m-6-60h12m-10-253h12m-8 252h12m-6-157h12m-7-11h12m-8 20h12m-10 77h12m-10 20h12m-12 121h12m-11-263h12m-7 154h12m-12 114h12m-11-249h12m-12 45h12m-10-196h12m-12 407h12m-10-130h12m-9 114h12m-11-241h12m-11-151h12m-11 233h12m-10 172h12m-9-373h12m-10 377h12m-8-117h12m-12 92h12m-7-248h12m-7 216h12m-11-334h12m-7 19h12m-12 91h12m-11-56h12m-12 27h12m-11 88h12m-6 241h12m-11-431h12m-12 316h12m-11 57h12m-7-340h12m-11-29h12m-12 27h12m-9 153h12m-11-90h12m-9 328h12m-11 0h12m-11-194h12m-9 208h12m-10-347h12m-10 36h12m-12 177h12m-12 134h12m-11-429h12m-11-20h12m-7-20h12m-11 114h12m-7 176h12m-10 33h12m-10-33h12m-11-134h12m-7 134h12m-9-125h12m-10 124h12m-11 0h12m-9-54h12m-9-171h12m-11-27h12m-10 409h12m-9-290h12m-6 262h12m-11-311h12m-12 29h12m-6-55h12m-10 285h12m-12 52h12m-10-376h12m-9 308h12m-10-155h12m-6-172h12m-12 8h12m-10 186h12m-10 253h12m-11-308h12m-12 230h12m-5-266h12m-10 344h12m-11-441h12m-10 385h12m-6-337h12m-10 179h12m-11-41h12m-10 197h12m-11-234h12m-6 117h12m-10-295h12m-12 373h12m-10-103h12m-5-224h12m-12 274h12m-11-33h12m-10-66h12m-10-55h12m-11-127h12m-12 421h12m-3-412h12m-10 377h12m-9-379h12m-11 132h12m-12 217h12m-10-247h12m-11 328h12m-9-413h12m-10 68h12m-12 221h12m-10 70h12m-10-282h12m-7 197h12m-5 47h12m-12 7h12m-10-335h12m-12 112h12m-9-155h12m-8 139h12m-11 268h12m-7 22h12m-6-163h12m-8-250h12m-10 24h12m-11 217h12m-11-240h12m-9 27h12m-11 125h12m-12 294h12m-11-462h12m-12 336h12m-10-60h12m-10-22h12m-10-3h12m-9 1h12m-6 1h12m-11 61h12m-11-182h12m-11-59h12m-10 374h12m-11-231h12m-11 234h12m-11-107h12m-10-343h12m-11 94h12m-8-52h12m-9 164h12m-8 60h12m-10-28h12m-9-37h12m-8-197h12m-10 256h12m-5-182h12m-8-3h12m-12 189h12m-10 188h12m-11-433h12m-9 420h12m-10-280h12m-11-165h12m-12 279h12m-12 119h12m-11 52h12m-10-322h12m-11-40h12m-8 184h12m-10-89h12m-12 186h12m-10-19h12m-9-114h12m-12 86h12m-10-58h12m-11 176h12m-11-148h12m-8 19h12m-11-286h12m-9 82h12m-12 211h12m-12 76h12m-10-373h12m-12 65h12m-3-77h12m-10 36h12m-9-15h12m-12 162h12m-11-138h12m-9 331h12m-6-107h12m-12 189h12m-11-128h12m-10-124h12m-9 63h12m-10 137h12m-11-147h12m-11-51h12m-7-81h12m-7 287h12m-11-74h12m-12 76h12m-12 9h12m-7-416h12m-11 41h12m-12 102h12m-9 171h12m-12 76h12m-8-260h12m-10 132h12m-11-21h12m-10-2h12m-11-68h12m-11-60h12m-12 47h12m-10-172h12m-11 189h12m-11 85h12m-10-270h12m-6 227h12m-5 88h12m-11 13h12m-10 120h12m-11-166h12m-12 15h12m-11-223h12m-12 209h12m-11 178h12m-11-195h12m-11-237h12m-9 294h12m-10-48h12m-11-138h12m-4-117h12m-12 323h12m-9-122h12m-8-31h12m-11-138h12m-12 224h12m-10-185h12m-12 48h12m-11-91h12m-11 299h12m-7 1h12m-7-225h12m-10 344h12m-11 3h12m-6-46h12m-10-98h12m-12 142h12m-10-286h12m-11 287h12m-11-119h12m-8-302h12m-12 126h12m-10-79h12m-11 162h12m-12 30h12m-11-138h12m-12 129h12m-11 161h12m-12 30h12m-6-228h12m-10-150h12m-10 157h12m-11-29h12m-9-206h12m-12 83h12m-12 71h12m-9-14h12m-9 27h12m-9-119h12m-11 217h12m-2-127h12m-12 109h12m-11 72h12m-11-284h12m-12 162h12m3-71h12m-11 317h12m-8-401h12m-9 239h12m-10-115h12m-8 2h12m-12 182h12m-11-7h12m-8 62h12m-10-214h12m-12 77h12m-11 127h12m-10-68h12m-10-75h12m-10-22h12m-11-8h12m-11 173h12m-9-31h12m-12 54h12m-8-212h12m-11 87h12m-11-212h12m-12 229h12m-11-278h12m-10 28h12m-8 155h12m-12 92h12m-6-197h12m-10 42h12m-9 285h12m-8-184h12m-11-38h12m-4 187h12m-9-188h12m-9 177h12m-11-163h12m-10 110h12m-9 81h12m-5-238h12m-10 32h12m-8-167h12m-12 64h12m-12 272h12m-10-169h12m-9-124h12m-12 316h12m-8-170h12m-4-22h12m-6-9h12m-12 144h12m-9-320h12m-3 269h12m-12 9h12m-10-47h12m-9-125h12m-8 263h12m-11-271h12m-12 124h12m-10-227h12m-9 241h12m-9 115h12m-8-68h12m-10-32h12m-10-174h12m-12 10h12m-11 50h12m-12 47h12m-11-132h12m-10 98h12m-9 133h12m-11-10h12m8-38h12m-4 27h12m-10-133h12m-12 186h12m-11-104h12m-9 54h12m-12 20h12m-11-223h12m2 162h12m-4 41h12"/>
<path d="M87.6 488 L88.4 500 L87.8 512 L88.8 524 L88.2 536" stroke="#6a2a80" stroke-width="0.9" fill="none" opacity="0.8"/>
<path d="M50 526 L62 518 L75 510 L88 502 L100 497" stroke="#c596d2" stroke-width="1.5" fill="none" opacity="0.35"/>
<path d="M45 500 L60 496 L72 492" stroke="#c596d2" stroke-width="1.2" fill="none" opacity="0.3"/>
<path d="M117.5 497 L119.8 505 L120.6 517 L118.4 525.8 L115.5 528 L117.6 517 L116.4 505 Z" fill="#6a2a8a"/>
<text transform="translate(6.6 556.8) scale(1.13 1)" font-size="11.5" font-weight="bold" fill="#000">H</text>
<rect x="28.6" y="559.6" width="96.2" height="49.0" fill="#d6d6d9" stroke="#333" stroke-width="0.9"/>
<polygon points="40.8,569.6 52.3,565.7 65,564.4 77.7,563.8 95,563.6 107.7,564.3 112.3,568.5 116.9,577.7 118.1,589.2 112.3,598.5 107.7,602 89.2,603 78,605.5 66.2,607.7 55,607.8 43.1,607.2 33.8,603 32.7,584.6 36.2,571.9" fill="#1f1f21"/>
<path d="M35.6 573 L38.6 570.8 L39.6 578 L38.4 586 L39.8 594 L38.6 602.5 L36 603.5 L33.8 602 L32.9 584.6 Z" fill="#c4ce3a"/>
<path transform="scale(.1)" stroke="#b8b8b8" stroke-width="9" fill="none" d="M340 6009h9m-2-170h9m-8 123h9m-9 45h9m-3-135h9m1-101h9m-9 160h9m-6-182h9m2 90h9m-9 27h9m16 108h9m3 47h9m-8-115h9m-2-183h9m-9 310h9m-6-128h9m-8 161h9m-7-377h9m-2 3h9m-7 336h9m-4-261h9m-8 183h9m-8-243h9m-9 319h9m-5-241h9m-9 79h9m-6-25h9m-8-147h9m-7 143h9m-6 230h9m-2-107h9m-6-5h9m-4-131h9m-8 251h9m-5-150h9m-5-236h9m-6 319h9m-8-54h9m-8-199h9m-9 89h9m-8 202h9m-8-68h9m-9 52h9m-8-197h9m-5 123h9m-8-91h9m-9 199h9m-7-123h9m-9 10h9m-8-173h9m-8 52h9m-9 2h9m-9 208h9m-2-375h9m-5 118h9m-9 154h9m-8-262h9m-6 274h9m-7 0h9m4 102h9m-8-236h9m-6 111h9m-7 2h9m-7-223h9m-9 4h9m-8 246h9m-6-4h9m-7-204h9m-8-8h9m-7-6h9m-6 110h9m-8 107h9m-8 64h9m-8 46h9m-8-299h9m-7 190h9m-7 59h9m1 6h9m-7-330h9m-7 122h9m-8 224h9m-7-252h9m-5 92h9m-8-69h9m-8 127h9m-3 95h9m-7-80h9m-7 91h9m-3-249h9m-7 87h9m-5-177h9m0-26h9m-8-9h9m-5 343h9m-9 27h9m-7-255h9m-9 142h9m-9 91h9m-8-228h9m-3 81h9m0-174h9m-9 337h9m-8-120h9m-7-111h9m-8 40h9m-9 6h9m-6-13h9m-4 34h9m-8-175h9m-3 360h9m-5-128h9m-6-146h9m-8 191h9m-1 109h9m-8-275h9m-9 71h9m-7 111h9m-9 29h9m-6-55h9m-4-71h9m-8-201h9m-3 203h9m-6 172h9m-7-199h9m-8-197h9m-6 325h9m-4-319h9m-8 334h9m-8-221h9m-5 19h9m-8 182h9m-1-68h9m-4 48h9m-9 97h9m2-74h9m-8-324h9m-8 3h9m-9 136h9m-8 230h9m-7-195h9m0-30h9m-7 116h9m-7-113h9m-9 192h9m-7-129h9m-4 86h9m-8-221h9m-6 56h9m-8 208h9m-6-214h9m-2-97h9m-9 246h9m-1-142h9m-7-74h9m-7 126h9m-9 170h9m-6-8h9m-9 13h9m-5-236h9m-8 132h9m-7 14h9m-8-126h9m-6-35h9m-6 225h9m-6-185h9m-5 76h9m-8-116h9m-9 184h9m-7-79h9m-4-73h9m-7 52h9m-8 150h9m2-178h9m-5-91h9m-9 183h9m-5-110h9m-4-67h9m-9 133h9m-8-59h9m-9 163h9m-8-288h9m-4 215h9m-7 89h9m-6-87h9m-8 123h9m-8-208h9m-6-65h9m-8-39h9m-1-56h9m-8 43h9m-7 160h9m-9 137h9m-8 6h9m-6-187h9m-9 136h9m-8 63h9m-6-135h9m-3-186h9m-9 243h9m0-291h9m-9 23h9m-8 142h9m-2 16h9m-8 88h9m-8 100h9m-7-187h9m-4-39h9m-9 207h9m-8-1h9m2-103h9m-7-168h9m-3 144h9m-8-78h9m-7-151h9m-7 359h9m-6-199h9m2-51h9m-5 8h9m-9 5h9m-9 85h9m-8 32h9m-1 146h9m-7-317h9m-8 184h9m-5-150h9m-6-15h9m-7 193h9m-8-158h9m-5-56h9m-9 205h9m-7-156h9m-4 29h9m-2-7h9m-9 239h9m-7-306h9m-8 283h9m-7-83h9m-5-210h9m-9 108h9m-3-50h9m-5-12h9m-9 148h9m-7-211h9m-9 253h9m-8 20h9m-7-139h9m-8-24h9m-8-64h9m-9 179h9m-4-56h9m-8 56h9m4 105h9m-8-264h9m-8 43h9m-6-2h9m-9 125h9m-8-123h9m-7 17h9m-8-108h9m-8 291h9m-7-120h9m-8-91h9m-8-80h9m-6-43h9m-8 336h9m-7-76h9m-8-204h9m-9 2h9m-9 68h9m-9 131h9m-4-243h9m-2 234h9m-7-218h9m-3 290h9m-2-248h9m-7-36h9m-9 115h9m-6 145h9m-7-218h9m-9 86h9m-9 179h9m-7-176h9m-8 7h9m-5-148h9m-9 173h9m-8-146h9m1 56h9m-7 175h9m-6-188h9m-6 184h9m-8-153h9m-5 147h9m-7-96h9m-5-110h9m-6 7h9m-2 176h9m2-140h9m-9 68h9m-7 45h9m-5-84h9m-2 91h9m-9 1h9m-4 3h9"/>
<path transform="scale(.1)" stroke="#707070" stroke-width="9" fill="none" d="M421 6069h9m-8-309h9m-6 227h9m-5-234h9m-9 308h9m-8-41h9m-6-233h9m-4 180h9m-7-254h9m-4 278h9m-9 29h9m-5-328h9m-4-10h9m-7-3h9m-8 263h9m-5-86h9m-7-99h9m-4 311h9m-2-116h9m-8-162h9m-9 152h9m-2-264h9m-9 362h9m-7 11h9m-6-26h9m-8-283h9m-5-11h9m-7-20h9m-6 216h9m-5 16h9m5-110h9m-8-144h9m-9 122h9m-9 19h9m-8 37h9m-8 136h9m-3-246h9m-7 193h9m-8 12h9m-9 95h9m-5-400h9m-9 329h9m-8-148h9m-9 200h9m-5-97h9m-8-4h9m-7 111h9m-8-183h9m-8-116h9m-8 322h9m-6-282h9m-9 122h9m-9 87h9m-8 51h9m-9 16h9m-7-190h9m0-37h9m-9 102h9m-7-26h9m-7-159h9m-9 34h9m-8 224h9m-7-358h9m-9 28h9m-9 142h9m-8-108h9m-8-56h9m-9 36h9m-9 128h9m-8 91h9m-9 92h9m-8-225h9m-8 243h9m-7-353h9m-6-8h9m-9 296h9m-8-302h9m-8 40h9m-9 24h9m-9 182h9m-8-213h9m-8 319h9m-8-203h9m-9 52h9m-9 138h9m-8-186h9m-8-52h9m-8 290h9m-8-194h9m-8-107h9m-9 208h9m-8 15h9m-6-198h9m-9 46h9m-9 10h9m-9 34h9m-9 26h9m-9 144h9m-7-276h9m-8-52h9m-6 140h9m-8 20h9m-7-44h9m-9 6h9m-9 33h9m-6 58h9m-8-154h9m-4 89h9m-9 17h9m-8 188h9m-8-182h9m-9 9h9m-9 104h9m-6-335h9m-9 123h9m-8-79h9m-8 275h9m-9 74h9m-8-341h9m-8 340h9m-8-324h9m-9 16h9m-9 39h9m-9 107h9m-9 128h9m-8-211h9m-9 26h9m-8-1h9m-7 93h9m-8-121h9m-8-14h9m-8-79h9m-7 25h9m-6-78h9m-9 389h9m-8-306h9m-9 128h9m-7 65h9m-8-197h9m-9 25h9m-8 303h9m-8-398h9m-7 347h9m-8-147h9m-4-37h9m-6 131h9m-7-5h9m-8-182h9m-9 64h9m-9 134h9m-9 98h9m-7-395h9m-8 243h9m-8-223h9m-7 255h9m-9 68h9m-8-337h9m-5-6h9m-9 30h9m-9 183h9m-5-223h9m-9 268h9m-8-196h9m-9 149h9m-7 2h9m-8-79h9m-9 165h9m-7-282h9m-8 333h9m-6-20h9m-9 30h9m-8-275h9m-9 175h9m-8 104h9m-8 19h9m-7-123h9m-8-215h9m-9 98h9m-9 184h9m-6-241h9m-9 134h9m-9 91h9m-7-45h9m-9 129h9m-6-263h9m-9 5h9m-7 9h9m-9 16h9m-4-11h9m-8 106h9m-8-79h9m-8-191h9m-9 119h9m-8-119h9m-9 27h9m-8-29h9m-9 115h9m-6-40h9m-9 110h9m-8 166h9m-8-311h9m-8 324h9m-8-50h9m-8-276h9m-9 36h9m-7 159h9m-9 149h9m-8-146h9m-8-211h9m-8 129h9m-8-128h9m-6 89h9m-7-82h9m-7 135h9m-9 9h9m-8 198h9m-8-69h9m-9 21h9m-9 13h9m-8-352h9m-9 283h9m-8-213h9m-9 225h9m-8-120h9m-9 187h9m-7-321h9m-9 2h9m-9 100h9m-9 13h9m-7 264h9m-7-339h9m-5-38h9m-9 344h9m-6-91h9m-8-164h9m-9 255h9m-8-145h9m-8-4h9m-8-193h9m-9 69h9m-9 261h9m-8-364h9m-7 19h9m-8 90h9m-9 140h9m-8 54h9m-8-316h9m-8 100h9m-9 48h9m-8 172h9m-8-282h9m-8 224h9m-7-7h9m-9 33h9m-8 125h9m-4-384h9m-9 46h9m-9 11h9m-8 108h9m-7 34h9m-8-70h9m-8 55h9m-9 186h9m-7-243h9m-9 113h9m-9 23h9m-8-164h9m-7 270h9m-8-51h9m-9 17h9m-6-361h9m-9 166h9m-9 27h9m-7-86h9m-9 98h9m-9 53h9m-9 50h9m-9 51h9m-8-87h9m-8 15h9m-8 50h9m-7-248h9m-8 142h9m-9 26h9m-9 136h9m-8-196h9m-9 95h9m-8-167h9m-7 32h9m-9 49h9m-9 75h9m-8-75h9m-8-193h9m-9 52h9m-9 26h9m-9 187h9m-7 96h9m-8-274h9m-8 224h9m-8-218h9m-9 48h9m-9 78h9m-9 6h9m-7-75h9m-7 10h9m-9 29h9m-9 19h9m-9 156h9m-8-26h9m-6-60h9m-9 109h9m-8-224h9m-8-167h9m-9 115h9m-9 25h9m-9 226h9m-8-139h9m-9 34h9m-8-215h9m-8-53h9m-6 111h9m-3 19h9m-6 178h9m-9 75h9m-8-205h9m-9 162h9m-8 4h9m-7-63h9m-8 104h9m-8-308h9m-8 51h9m-7 167h9m-7 86h9m-7-48h9m-9 51h9m-9 6h9m-8-364h9m-9 139h9m-9 110h9m-8-235h9m-9 172h9m-9 113h9m-8-323h9m-9 348h9m-7-60h9m-6-192h9m-9 12h9m-8 149h9m-8-259h9m-9 327h9m-8-214h9m-7-44h9m-9 74h9m-9 148h9m-8-107h9m-8 35h9m-8-149h9m-9 46h9m-7 76h9m-8-125h9m-9 65h9m-8-82h9m-9 76h9m-8 108h9m-8 105h9m-5-347h9m-8 103h9m-9 178h9m-7-82h9m-9 91h9m-9 54h9m-8-291h9m-7 100h9m-7 202h9m-8-47h9m-8-220h9m-7-81h9m-5 377h9m-8-86h9m-9 32h9m-8 56h9m-7-68h9m-6-293h9m-9 300h9m-9 30h9m-8-290h9m-9 23h9m-9 291h9m-8-243h9m-9 59h9m-8-57h9m-6-46h9m-8 197h9m-9 57h9m-8-60h9m-6-280h9m-8 315h9m-7 15h9m-8-233h9m-8 269h9m-8-163h9m-7 149h9m-8-338h9m-9 212h9m-7-1h9m-9 2h9m-9 104h9m-6-221h9m-8 157h9m-9 113h9m-8-288h9m-7 8h9m-9 206h9m-8-29h9m-8-30h9m-9 131h9m-6-74h9m-7-305h9m-5 273h9m-9 82h9m-5-265h9m-9 222h9m-9 37h9m-8-164h9m-9 166h9m-8-110h9m-9 21h9m-9 83h9m-9 33h9m-8-232h9m-6 65h9m-8-104h9m-7-53h9m-9 95h9m-8-109h9m-9 213h9m-6-195h9m-9 172h9m-9 52h9m-9 47h9m-8-198h9m-9 176h9m-4-262h9m-9 19h9m-8 150h9m-9 47h9m-8-256h9m-8 118h9m-9 162h9m-8-88h9m-8-54h9m-9 102h9m-8 5h9m-8 22h9m-9 14h9m-8-228h9m-9 47h9m-9 164h9m-8 24h9m-8-231h9m-9 190h9m-9 92h9m-7-297h9m-9 289h9m-7-68h9m-8-117h9m-9 45h9m-8-189h9m-7 107h9m-9 10h9m-9 130h9m-8-228h9m-9 291h9m-9 27h9m-8-325h9m-9 336h9m-8 24h9m-8-375h9m-9 45h9m-3-33h9m-9 156h9m-9 122h9m-8-258h9m-8 13h9m-9 25h9m-9 124h9m-7 73h9m-8-87h9m-7 34h9m-9 51h9m-7-90h9m-8-172h9m-9 308h9m-9 52h9m-8-330h9m-8 263h9m-7-147h9m-9 208h9m-8-272h9m-9 125h9m-9 67h9m-8-87h9m-7-115h9m-8 220h9m-6-254h9m-9 171h9m-8 111h9m-8-58h9m-8 49h9m-7-89h9m-8 17h9m-8-168h9m-7 254h9m-6-236h9m-9 257h9m-7-346h9m-8-5h9m-7 360h9m-8-186h9m-8 43h9m-7 65h9m-8-12h9m-5-30h9m-8-189h9m-7 135h9m-9 32h9m-8 6h9m-8-196h9m-6 121h9m-5 68h9m-7-104h9m-9 87h9m-9 24h9m-7-170h9m-9 211h9m-8-43h9m-8 30h9m-5 90h9m-7-254h9m-9 123h9m-4-13h9m-8-110h9m-9 88h9m-9 124h9m-9 37h9m-7-26h9m-8-158h9m-9 41h9m-8-163h9m-9 100h9m-5 39h9m-8 11h9m-6-117h9m-9 252h9m-8-43h9m-8 68h9m-8-183h9m-7-82h9m-8 188h9m-6 97h9m-8-167h9m-8 168h9m-8-290h9m-9 194h9m-8-221h9m-9 162h9m-8-87h9m-9 236h9m-5-271h9m-8 29h9m-8 109h9m-7-28h9m-9 144h9m-8-17h9m-9 34h9m-6-229h9m-9 85h9m-9 36h9m-9 84h9m-4-173h9m-9 95h9m-6-104h9m-7 119h9m-8 29h9m-8-257h9m-7 143h9m-9 97h9m-8-61h9m-7-165h9m-9 11h9m-7-34h9m-9 163h9m-9 15h9m-8-27h9m-8-20h9m-8-63h9m-8-26h9m-9 220h9m-8-143h9m-5 130h9m-6 22h9m-8-1h9m-8-30h9m-7-94h9m-9 121h9m-8-193h9m-8-20h9m-7 109h9m-9 77h9m-5-121h9m-5 11h9m-5 90h9m-9 15h9m-8 28h9m-1-80h9m-7-8h9m-8-81h9m-9 85h9m-7 67h9m-5-47h9m-1-58h9m-9 66h9"/>
<path transform="scale(.1)" stroke="#484878" stroke-width="9" fill="none" d="M421 6052h9m-8-239h9m-8-35h9m-8 33h9m-9 41h9m-9 7h9m-4-42h9m-8 31h9m-8-111h9m-7 331h9m-8-347h9m-5 82h9m-9 113h9m-8-182h9m-8 327h9m-7-71h9m-6 37h9m-2-153h9m-8-90h9m-8 54h9m-5 45h9m-8-200h9m-5 82h9m-9 100h9m-8 38h9m-7-184h9m-6 198h9m-7-68h9m-5 223h9m-7-186h9m-9 138h9m-8-290h9m-9 187h9m-6-241h9m-6 79h9m-9 201h9m-8-184h9m-8-97h9m-9 228h9m-7-187h9m-9 262h9m-9 33h9m-5-327h9m-9 204h9m-7 82h9m-8-304h9m-9 231h9m-9 134h9m-8-235h9m-8 171h9m-1 37h9m-8-240h9m-9 262h9m-8-280h9m-7-18h9m-7 171h9m-9 136h9m-8-203h9m-8 27h9m-7-74h9"/>
<path transform="scale(.1)" stroke="#c0c840" stroke-width="9" fill="none" d="M323 5851h9m-5 16h9m-8 21h9m-5 80h9m-4-131h9m-9 30h9m-9 129h9m-8-184h9m-9 200h9m-8-9h9m-7-22h9m-8-124h9m-9 146h9m-8-213h9m-9 57h9m-9 44h9m-8 28h9m-7-132h9m-9 76h9m-7 0h9m-8-44h9m-8 130h9m-8-188h9m-9 126h9m-7-70h9m-8 28h9m-9 33h9m-8 10h9m-7 72h9m-6-202h9m-9 138h9m-8-32h9m-9 36h9m-9 73h9m-7-189h9m-4-14h9m-9 53h9m-9 93h9m-9 38h9m-9 23h9m-7-245h9m-9 183h9m-9 24h9m-9 63h9m-5-140h9m-6 139h9m-7-128h9m-5-26h9m-9 11h9m-8-29h9m-9 121h9m-6-173h9m-9 29h9m-8 8h9m-8-65h9m-8 55h9m-9 152h9m-9 29h9m-9 59h9m-4-201h9m-7 46h9m-7-164h9m-9 27h9m-8-14h9m-8 134h9m-8 4h9m-5-80h9m-8 207h9m-8-255h9m-8 66h9m-9 149h9m-6-5h9m-9 23h9m-7-64h9m-7-199h9m-9 48h9m-7 85h9m-8 54h9m-8-54h9m-9 214h9"/>
<circle cx="129.4" cy="581.6" r="1.3" fill="#c3cc2e"/>
<text x="131.6" y="584.2" font-size="6.6">8</text>
<text x="76.6" y="617.4" font-size="6.8" text-anchor="middle" textLength="23" lengthAdjust="spacingAndGlyphs">spatial1</text>
<text x="24.8" y="584.5" font-size="6.8" text-anchor="middle" textLength="23" lengthAdjust="spacingAndGlyphs" transform="rotate(-90 24.8 584.5)">spatial2</text>
<text x="14.4" y="584.5" font-size="8.6" text-anchor="middle" textLength="20.2" lengthAdjust="spacingAndGlyphs" transform="rotate(-90 14.4 584.5)">PT03</text>
<text x="25.2" y="511" font-size="8.6" text-anchor="middle" textLength="20.2" lengthAdjust="spacingAndGlyphs" transform="rotate(-90 25.2 511)">PT03</text>
<rect x="0.5" y="0.5" width="519" height="625" fill="none" stroke="#4a4a4a" stroke-width="1.2"/>
</svg>
</body></html>
